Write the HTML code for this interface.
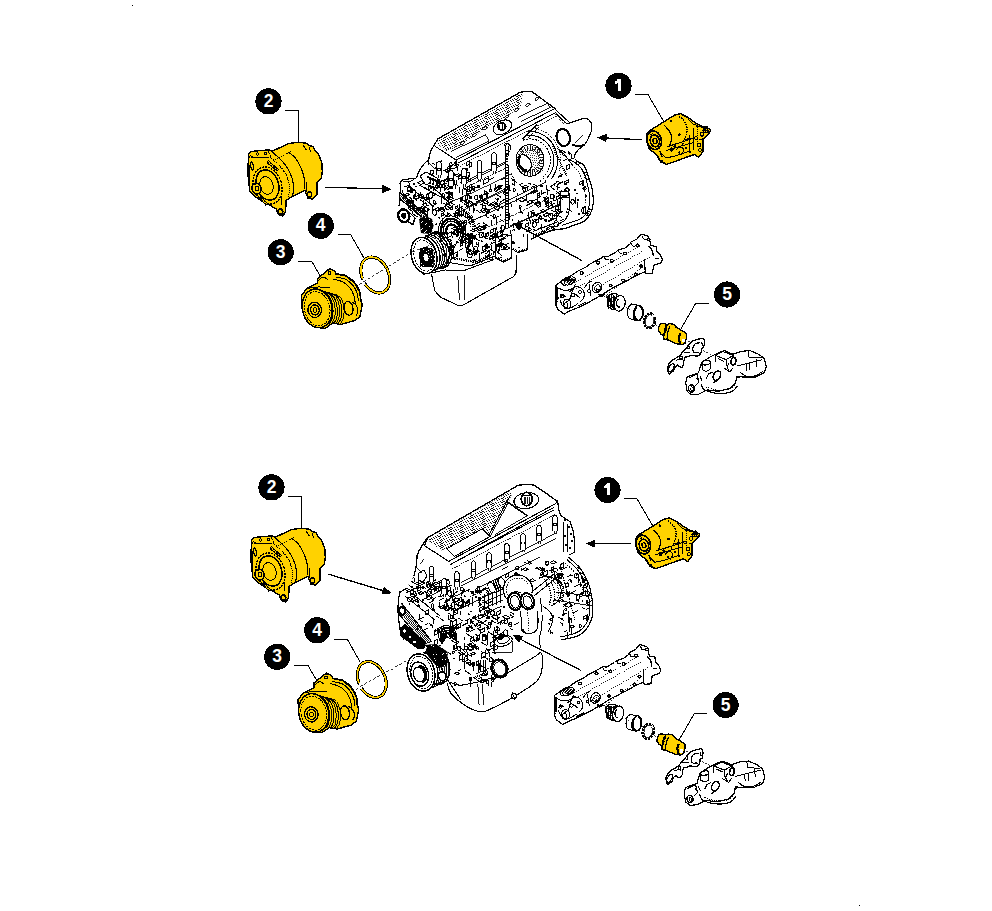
<!DOCTYPE html>
<html><head><meta charset="utf-8"><style>
html,body{margin:0;padding:0;background:#fff;width:992px;height:911px;overflow:hidden}
svg{display:block}
</style></head><body><svg width="992" height="911" viewBox="0 0 992 911" shape-rendering="crispEdges"><g id="top"><path d="M437.6 139 L520 92.4 L526.3 91.3 L532 91.6 L554.4 108.2 L567 123.9 L576.8 120.6 L585.6 118.4 L591.1 122.8 L591.7 129.4 L587.8 139.3 L584.5 144.8 L578 150 L577 160.9 L584 165.7 L588.9 177.8 L592.5 191.1 L593.1 204.4 L590.1 214.1 L584 221.4 L574.4 225 L564.7 228.6 L555 229.8 L540.5 234.7 L530.8 239.5 L527.2 249.6 L518 252.6 L516.6 255.4 L516 272.4 L514 276.3 L462.9 305.2 L459 305.8 L440.6 297.3 L434.7 290.8 L431.5 273.7 L425 273 L414 266 L411.5 252 L413 240 L405 225 L398.8 218 L400.1 200.2 L399.7 195 L400.5 189.7 L400.1 183.6 L401.4 180.9 L416.3 178.3 L417.2 175.7 L419 171.3 L420.7 168.6 L423.5 164.5 L428.3 164.5 L428.8 159.2 L429.7 154.9 L431.9 148.7 L434.5 144.8Z" fill="#fff" stroke="none" stroke-width="0"/><clipPath id="siltop"><path d="M437.6 139 L520 92.4 L526.3 91.3 L532 91.6 L554.4 108.2 L567 123.9 L576.8 120.6 L585.6 118.4 L591.1 122.8 L591.7 129.4 L587.8 139.3 L584.5 144.8 L578 150 L577 160.9 L584 165.7 L588.9 177.8 L592.5 191.1 L593.1 204.4 L590.1 214.1 L584 221.4 L574.4 225 L564.7 228.6 L555 229.8 L540.5 234.7 L530.8 239.5 L527.2 249.6 L518 252.6 L516.6 255.4 L516 272.4 L514 276.3 L462.9 305.2 L459 305.8 L440.6 297.3 L434.7 290.8 L431.5 273.7 L425 273 L414 266 L411.5 252 L413 240 L405 225 L398.8 218 L400.1 200.2 L399.7 195 L400.5 189.7 L400.1 183.6 L401.4 180.9 L416.3 178.3 L417.2 175.7 L419 171.3 L420.7 168.6 L423.5 164.5 L428.3 164.5 L428.8 159.2 L429.7 154.9 L431.9 148.7 L434.5 144.8Z"/></clipPath><g clip-path="url(#siltop)"><path d="M413.4 198.1l3.7 2.4M429.9 200.4l0 2.1l0 1.9M448.3 195.4a1.5 1.9 0 1 0 3 0a1.5 1.9 0 1 0 -3 0ZM407.6 201.5a1.6 2 0 1 0 3.2 0a1.6 2 0 1 0 -3.2 0ZM432.6 180.4a1.7 1.9 0 1 0 3.3 0a1.7 1.9 0 1 0 -3.3 0ZM403.5 210l5.5 3.6M420.6 207.2l5 3.3M422.3 212.6a1 1.1 0 1 0 2.1 0a1 1.1 0 1 0 -2.1 0ZM412.4 213.7l5.3 3.4M422.2 208.8l3.3 -1.7l4 2.6l-3.3 1.7ZM432.5 212.4a2.2 2.8 0 1 0 4.4 0a2.2 2.8 0 1 0 -4.4 0ZM409.8 209.8l2.5 1.6l0 2.6M412.1 208.8l2.1 -1.1l2.9 1.9l-2.1 1.1ZM432.7 195.9l3.6 -1.8M407.2 188.9a2 2.1 0 1 0 4.1 0a2 2.1 0 1 0 -4.1 0ZM431.5 179.7l3.3 -1.7l4 2.6l-3.3 1.7ZM415.4 186.7l2.1 -1.1M430.8 179.2l0 3.5M414.6 203.5l0 2.3l0 2.9M445 192l3.3 2.1M443.6 203.2l2.8 1.8M432.4 204.5l0 3.9l0 2.3M428.3 178.4l3 1.9M420.1 199.8l4.3 2.8M424.4 203.1l2.8 1.8M425.5 199.8l3.5 -1.8l0 1.9M423.9 199.9l0 2.9M438.4 209.2l0 2.5M441 213.9l2.6 -1.3l0 2.7l-2.6 1.3ZM440.6 186.8l0 5.2M406.7 200.2l3 2l0 2.2M443.1 184.3l2.6 1.7M428.3 188a0.9 1.3 0 1 0 1.9 0a0.9 1.3 0 1 0 -1.9 0ZM417.1 208.9l2.7 -1.4l3.8 2.4l-2.7 1.4ZM406.1 200.9l2.6 -1.3l3.7 2.4l-2.6 1.3ZM415 190.8l0 4.8M403.7 193.3l0 6.7M444.2 214.5l2.6 1.7M437.8 209l3.2 -1.6l3.9 2.5l-3.2 1.6ZM443.4 209.7l3.1 -1.6l0 1.6M445.4 203.7l0 2.9l0 1.5M437.8 184.4l1.8 1.1M427.8 180l2.1 -1.1l0 1.9M442 195.7a1.4 1.5 0 1 0 2.7 0a1.4 1.5 0 1 0 -2.7 0ZM427.7 208.2l0 6.6M440.7 208.5l4.1 2.6M421.2 206l3.9 2.5M421.4 195.5a0.9 0.9 0 1 0 1.8 0a0.9 0.9 0 1 0 -1.8 0ZM408.1 182.6l5.6 -2.8M406.1 196.6l0 2.4M420.5 192.4l0 3M417.8 182.6l3.9 -2l3.1 2l-3.9 2ZM404.1 195.1l3.5 -1.8l1.8 1.2l-3.5 1.8ZM444.6 180l2.9 -1.5l3.4 2.2l-2.9 1.5ZM424.1 187.1l4.2 2.7M440.6 186.3l6 -3M418.7 211.2a1.2 1.5 0 1 0 2.5 0a1.2 1.5 0 1 0 -2.5 0ZM407.9 208.1l3.6 -1.8l3.5 2.3l-3.6 1.8ZM429.1 181.8l3 -1.6l0 2.7l-3 1.6ZM420.7 197.5l2.3 -1.2l1.7 1.1l-2.3 1.2ZM440.6 182.5a1.8 2.4 0 1 0 3.6 0a1.8 2.4 0 1 0 -3.6 0ZM446.8 199.4a0.9 1.2 0 1 0 1.9 0a0.9 1.2 0 1 0 -1.9 0ZM426.5 204.5l2.1 1.4M427.4 198.4a1.1 1.2 0 1 0 2.3 0a1.1 1.2 0 1 0 -2.3 0ZM449.9 201.9l4.8 3.1M420.9 191.6l0 4.8M448.4 191.9l0 6.2M448.4 193.4l2.2 -1.1l2.7 1.7l-2.2 1.1ZM444.6 184l0 6.6M426.8 194.4l2.1 -1.1l0 4.3l-2.1 1.1ZM409 197.1l2.4 1.5l0 2.7M434.2 209.6l4.2 -2.1l2.5 1.6l-4.2 2.1ZM414.9 207.8l3.2 2.1M417.5 206.6l3.7 2.4M428.8 195.3a2 2.4 0 1 0 3.9 0a2 2.4 0 1 0 -3.9 0ZM423.7 204.7a1.4 1.8 0 1 0 2.8 0a1.4 1.8 0 1 0 -2.8 0ZM448.1 195.3l4.7 -2.4M439.3 180.6l0 3.2M411.1 187.6l4.5 2.9M403.8 212.5l3.2 -1.6M422.3 205l3 -1.5M445.9 179.3l4.5 2.9M402.3 190.4l0 2.4M432.9 205.5l4.2 -2.1M407.7 188.2l3 -1.5l0 3.6l-3 1.5ZM414 197.5l3.8 -1.9l2.4 1.6l-3.8 1.9ZM433.2 202.2a1.2 1.6 0 1 0 2.5 0a1.2 1.6 0 1 0 -2.5 0ZM448.1 202.9l4.8 -2.4M426.4 180.2l4.1 2.6M410.7 201.9l2.8 -1.4l0 4.8l-2.8 1.4Z" stroke="#000" stroke-width="1" fill="none"/><path d="M479 235.1a2.1 2.8 0 1 0 4.3 0a2.1 2.8 0 1 0 -4.3 0ZM500.9 180.2l4.7 -2.4M499.5 186.7l3.5 -1.8M446.7 197.2l2.5 -1.3l4 2.6l-2.5 1.3ZM489.5 190.3a1.1 1.3 0 1 0 2.2 0a1.1 1.3 0 1 0 -2.2 0ZM447.2 178.1a1.2 1.3 0 1 0 2.3 0a1.2 1.3 0 1 0 -2.3 0ZM504.8 245.2l4.2 -2.1M484.7 193.8l1.7 1.1l0 2.9M465.3 179.7l3 -1.5M461.9 240.9l2 -1l2.6 1.7l-2 1ZM460.2 231.6l0 5.5M443.8 253.1l3.2 2.1M466.7 220.3l0 4.9M440.6 181.6l2.3 -1.2M456.2 241.1l3.2 2.1M474.6 237.7l5 3.2M464.2 200.8l2.7 -1.4M473.9 205.9l0 6.6M476 202.1l5.3 -2.7M481.4 233.5l0 2.8M443.2 254l0 2.2M488.9 204.5l3.4 2.2M443.7 248.5l0 3.7M453.7 253.6l3.5 -1.8l0 4.4l-3.5 1.8ZM447 211.5l0 3.5M467.7 254.9a2.2 2.6 0 1 0 4.3 0a2.2 2.6 0 1 0 -4.3 0ZM472.2 234.2l0 4.4M497.9 186.7a1.6 1.7 0 1 0 3.2 0a1.6 1.7 0 1 0 -3.2 0ZM501.9 244.8l0 3.4M491.6 244.8l0 5.5M483.8 236.5l4.5 2.9M495.1 198.4l1.9 1.2l0 2.9M482.9 222.7l4.9 3.2M461.5 199.1l4.4 2.9M492.6 204.8l2.7 -1.4l3.8 2.5l-2.7 1.4ZM497.4 231l0 2.8l0 2.3M451 242.4l0 2.2l0 1.6M484.3 210.1l2.6 -1.3l3.1 2l-2.6 1.3ZM497.2 198.8l1.7 -0.9l0 2.2M482.9 194.9l4.4 -2.3l0 4.9l-4.4 2.3ZM450.9 246.7l3.9 -2M476.2 210l4.2 2.8M479 196.3l2.1 -1.1l0 2.9M496.5 244.7l4.4 -2.2l3.1 2l-4.4 2.2ZM459.9 200.7l2.9 1.9M463.2 187.9l4.4 2.8M464.4 188.9l4.3 -2.2l4.1 2.7l-4.3 2.2ZM480.2 205l2.2 -1.1l0 2M500.5 219.5l3.3 2.1M468.5 195.4l3.3 2.1M503.4 248.4l3.8 -1.9l2.4 1.6l-3.8 1.9ZM456.6 179.5l0 2.7l0 1.9M471.5 187.4l2.4 -1.2l1.8 1.2l-2.4 1.2ZM449 208.2l2.8 1.8M501.7 238.2l0 6.2M487.6 200l0 4.6M497 245.8l3 -1.5l0 2M475.2 203.9l1.8 1.2M462 230.5a1.1 1.1 0 1 0 2.1 0a1.1 1.1 0 1 0 -2.1 0ZM476.5 230.8l4 2.6M441 237.9l4.6 3M500.9 228a2 2.4 0 1 0 4 0a2 2.4 0 1 0 -4 0ZM485 233.4l0 3.6l0 1.6M495.2 231.5l0 5.2M471.2 201.9l4 2.6M472.8 203.5l3.9 2.6M443.2 234.4l5.3 -2.7M483.8 180l4.5 -2.3l0 4.1l-4.5 2.3ZM443.2 242.8l5.1 3.3M447.3 246.9l3.2 2.1l0 1.7M480.3 209.9l2.6 1.7M476.7 228.8l1.9 -1l3.1 2l-1.9 1ZM489 245.6l0 2.5M485.2 215.7l3.2 2.1M443.7 231.7l4.5 2.9M459.2 250.5l3 -1.5M474.8 197.6a1.6 1.7 0 1 0 3.1 0a1.6 1.7 0 1 0 -3.1 0ZM455.5 206.6l2.1 -1.1l0 2.1l-2.1 1.1ZM462.5 222.1l4 -2.1M469.9 208l0 2.5M475 219.7l6 -3.1M468.3 239.2l4.4 -2.2l0 4l-4.4 2.2ZM494.2 188.8l4 -2l2.4 1.6l-4 2ZM500 232.3a1.4 1.8 0 1 0 2.8 0a1.4 1.8 0 1 0 -2.8 0ZM463.6 200.8l3.2 -1.6l3.2 2.1l-3.2 1.6ZM477.8 235l1.9 -1M452.3 193.1l0 5.3M463 210.9l5.5 3.6M461.3 213.6l2.3 1.5M464.7 207.7l2.6 -1.3l0 1.7M494 235.8l3.1 -1.6l0 2.1l-3.1 1.6ZM501 206.4l1.3 0.8l0 2.2M494.7 190a1.3 1.6 0 1 0 2.6 0a1.3 1.6 0 1 0 -2.6 0ZM455.8 254.5l1.8 1.2M455.2 184l3.2 2.1M460.6 214l5.8 3.8M470.9 237.7l6 -3M482.6 211.2l2.4 -1.2l0 2.2M485 191.1l4 2.6M502 233.2l0 2.5M471.1 230.6l2.8 -1.4l1.8 1.2l-2.8 1.4ZM456.9 209.4l5.7 -2.9M502.7 193l2.3 -1.2l2.3 1.5l-2.3 1.2ZM501.2 238.9l4.4 -2.3M496.5 194.5l3.2 2.1M467.9 237.1l5 -2.6M500.3 201.7l4.3 -2.2M447.9 215.2a1.2 1.4 0 1 0 2.5 0a1.2 1.4 0 1 0 -2.5 0ZM448.8 219.3l2 1.3M468.3 222.4l4 -2M454.4 232.2a2 2.8 0 1 0 4.1 0a2 2.8 0 1 0 -4.1 0ZM444.7 237.2l1.7 1.1M458.9 250.4l3.8 -1.9M493.9 228.5l1.4 0.9l0 2.1M447 240l2 -1l2.1 1.4l-2 1ZM457.3 230l4.2 -2.1M488.8 180.1l5.5 -2.8M468.8 197.9l1.9 -0.9l0 2.1M463.9 203.4l4.3 2.8M450.8 253.7l2.4 1.6M486.8 212.4l0 1.8l0 2M500.4 213.5l0 2.2M484.1 190.4l0 5M446.8 240.7l2.7 -1.4M440.1 248l5.4 3.5M465.9 194.6l3.1 -1.6M472.7 236.9a1.4 1.8 0 1 0 2.8 0a1.4 1.8 0 1 0 -2.8 0ZM493.7 229.1l2.7 -1.4l0 2.1M449.4 242l2.2 -1.1M466.2 236l5.3 -2.7M489.8 214.7l4.3 2.8M492.8 207l4.2 2.7M481 240.6l1.8 1.2M460.6 207.5l4.6 3M469.7 238.6l3.2 -1.6l0 4.4l-3.2 1.6ZM463.9 223.7l2.5 -1.3l0 2.2l-2.5 1.3ZM445.8 205.4l2.6 -1.3l4 2.6l-2.6 1.3ZM458.1 233.1l4.8 -2.4M503.2 247.1l3.1 -1.6l0 2.3l-3.1 1.6ZM446.5 204.3a1.5 2 0 1 0 2.9 0a1.5 2 0 1 0 -2.9 0ZM482.7 207.1a1.6 1.7 0 1 0 3.2 0a1.6 1.7 0 1 0 -3.2 0ZM484.7 202.7l5.4 3.5M485.4 253.8l2.7 -1.4M460.2 198.6l2 -1l0 3.2l-2 1ZM452.2 228.5l2.9 -1.5l2.7 1.8l-2.9 1.5ZM474.9 247.7l0 2.4M498.7 203.5l2.3 -1.2M477.1 224.5l3.2 -1.6M446.8 238.6l2.1 -1M472 242.3l0 2l0 2.2M465.4 247.4l3 2l0 2.2M446.7 192.9l3.3 -1.7M464.3 236.6l3.7 -1.9l3.7 2.4l-3.7 1.9ZM493 232.9l2.6 1.7l0 2.9M446.8 185.9l3.2 -1.6M451.4 246.6l1.9 -1l0 2.9M470.8 178.4l0 1.8l0 1.5M465.2 204.4l3.8 -1.9l3.5 2.3l-3.8 1.9ZM459.5 187l0 5.8M452.9 204.5l0 5.2M490.6 184.8l0 3.7M496 218l0 6.9M457.9 233.4l4.2 -2.2M466.5 191.9a2 2.2 0 1 0 4 0a2 2.2 0 1 0 -4 0ZM469.9 187.9l3.4 -1.7M441.1 197.3l0 6.3M445.2 252.8l0 2.1M474.3 251.6l3.1 -1.6l1.8 1.2l-3.1 1.6ZM465.9 237.9l5.6 3.6M483.6 225.6l1.8 -0.9l0 4.3l-1.8 0.9ZM465.2 245.3a2.1 2.4 0 1 0 4.2 0a2.1 2.4 0 1 0 -4.2 0ZM505.9 236.2l2 -1l0 1.8M495.1 183.9l0 4.1M457.9 214.2l4.3 2.8M490.8 236.4l3.3 2.1M499.2 246.2l5.1 -2.6M472.6 202.5l0 3.2M500.7 250.2l5.4 -2.8M445.6 188.1l3.9 -2l2.1 1.3l-3.9 2ZM474.2 253.1l2.5 -1.3l0 2.3l-2.5 1.3ZM466.4 201.4l2.5 1.6l0 2.9M455.9 221.8l1.7 1.1M465.4 196.3l1.8 -0.9l0 4.3l-1.8 0.9ZM467.6 216.8l1.9 -1l2.9 1.9l-1.9 1ZM442.5 207.7l4.3 -2.2M469 185.9l0 4.8M458.2 222.9l4.4 -2.3l2.4 1.6l-4.4 2.3ZM451 249.8l0 2.3M454 225.7l2.9 1.9M476.4 241.9l0 2.3M440.3 221.5l1.9 -1l0 2.3l-1.9 1ZM462.6 189.1l0 3.5l0 2.2M449.5 187.6l4.6 -2.3M465.6 226.4l0 5M496.1 248.5a1.7 2.1 0 1 0 3.3 0a1.7 2.1 0 1 0 -3.3 0ZM499.5 205.3l0 2.2M493.4 216.1a1 1.2 0 1 0 1.9 0a1 1.2 0 1 0 -1.9 0ZM447.8 233.5l3.2 -1.6l0 4.1l-3.2 1.6ZM486.6 233.4l2 -1l0 3.4l-2 1ZM482.8 246.7l4.3 -2.2l0 4l-4.3 2.2ZM458 209.2l0 3.5M440.1 236.4l0 4.3M450.3 194.7l2.5 1.6M445.8 205.2l0 4.2M474.2 208.4l0 2.8M473.1 250l2.4 -1.2M457.7 216l4.3 -2.2M481.7 210.3a2 2.2 0 1 0 4 0a2 2.2 0 1 0 -4 0ZM447.1 198l2.8 1.8M481.5 227.3l2.9 -1.5l0 1.7M446.3 245l2.4 1.6M491.2 219.8l0 5.6M457.2 209.4l3.2 -1.6M459.3 204l0 1.7l0 2M449.8 250.6a2.1 2.5 0 1 0 4.1 0a2.1 2.5 0 1 0 -4.1 0ZM446.9 210l6 -3M475.7 228.2l4.3 -2.2l4.1 2.6l-4.3 2.2ZM469.7 185.9a1 1.3 0 1 0 2.1 0a1 1.3 0 1 0 -2.1 0ZM445.5 254l0 2.6M459.3 213a1 1.3 0 1 0 1.9 0a1 1.3 0 1 0 -1.9 0ZM504.8 188.3l4.2 -2.2l0 3l-4.2 2.2ZM493.5 218.7l5.6 -2.9M482.3 201.6l2.5 -1.3l3.5 2.3l-2.5 1.3ZM455.2 214.2a1.7 1.8 0 1 0 3.4 0a1.7 1.8 0 1 0 -3.4 0ZM453.4 231.5l3 -1.5l0 2.7l-3 1.5ZM456.5 227.5l3.4 -1.8l3.8 2.5l-3.4 1.8ZM450.8 231.8l5.4 3.5M481.4 231.7l2.2 1.4M490.4 203.9l4.1 -2.1l3 1.9l-4.1 2.1ZM479.9 224.6l0 2.7" stroke="#000" stroke-width="1" fill="none"/><path d="M524.8 179.8l4 -2l0 2.3l-4 2ZM538.3 229.1l3.7 -1.9M511.6 175.9l2.2 1.4M519.6 210.8l2.5 1.6l0 1.6M519.5 206.2l0 2.7M513 190.1a1.1 1.4 0 1 0 2.3 0a1.1 1.4 0 1 0 -2.3 0ZM541.2 194.2l4.3 -2.2M540.2 202.3l0 4.3M556 193.5l4.9 -2.5M520.7 207.3l0 5.6M523 233.7l0 2.8M525.8 230.7l2 1.3M535.7 221.3a1.3 1.5 0 1 0 2.7 0a1.3 1.5 0 1 0 -2.7 0ZM533.8 221.8l6 -3.1M532.7 213.2l3 1.9M538.1 214.3l3.3 2.1M542.8 171.5l4.5 -2.3M533.7 184.2l2.7 1.8M528.3 226.6l0 4M522.4 178.9l2.8 1.8M529.6 193.3l1.7 -0.9l0 1.8M520.1 185.2l2.4 1.6M522.7 179.5l4.1 2.6M557.6 214.9l4.4 2.9M544.3 199.7a2.1 2.7 0 1 0 4.3 0a2.1 2.7 0 1 0 -4.3 0ZM537.1 195.9l0 5.2M511.2 174.4l2.3 -1.2M539.2 176.7l4.3 -2.2l0 3.8l-4.3 2.2ZM511.7 183.5l2.7 1.8M526.1 193.7l0 7M532.2 201.4l5.1 -2.6M546.5 201.1l2.3 -1.2l0 4.9l-2.3 1.2ZM526.8 214.9l1.9 1.2l0 2.5M512.7 225l3.4 -1.7M519.6 205.2l2.6 1.7M548.3 234a1.9 2.6 0 1 0 3.9 0a1.9 2.6 0 1 0 -3.9 0ZM546.5 184.7l0 5.7M559.5 221.4l4.9 -2.5M557.7 199.1l0 3.9l0 2M519.5 184.7l3.9 -2M559.2 209.7l3.1 2M541.4 224.3l0 5.9M547 201.1l3.1 2M549.6 233.2l0 5.7M512.4 180.3l1.7 -0.9l0 2.9M547.8 179.5a2.2 2.7 0 1 0 4.3 0a2.2 2.7 0 1 0 -4.3 0ZM526.2 205.7l5.3 -2.7M545.8 176.7l2.9 -1.5l0 4.6l-2.9 1.5ZM551 183.7l0 4.5M547.7 191.2l2.1 -1M546.5 228.4l4 -2l3.9 2.5l-4 2ZM514.8 179.9l0 5.9M539.6 220.4l3.9 -2M545.7 206.2l3.9 2.5M533.1 220.5l1.9 -1l0 1.9M548.2 203l3 -1.5l0 3.8l-3 1.5ZM534.3 203.3l3.1 -1.6l3.7 2.4l-3.1 1.6ZM534.4 186.1l0 6.6M554.4 183.2l0 2.6M531 174.7l2.7 -1.4M521.6 178a2.1 2.7 0 1 0 4.2 0a2.1 2.7 0 1 0 -4.2 0ZM527 186.5l0 3.1M557.5 195.9l5.2 3.4M516.4 198l0 4.1M526.5 176l0 4.8M530.9 171.2l2.9 1.9M558 177.3l3.5 -1.8l0 1.7M520.6 172.6a1.3 1.3 0 1 0 2.5 0a1.3 1.3 0 1 0 -2.5 0ZM528.7 229.2a1.2 1.3 0 1 0 2.5 0a1.2 1.3 0 1 0 -2.5 0ZM555.8 207.1l2.5 -1.3l0 4.4l-2.5 1.3ZM517.5 228.2l4.6 -2.3M548.7 175.4a1 1.3 0 1 0 2 0a1 1.3 0 1 0 -2 0ZM531.6 192l3.4 -1.8l1.8 1.2l-3.4 1.8ZM544.9 231l0 1.6l0 1.8M522.9 189.8a1.3 1.5 0 1 0 2.6 0a1.3 1.5 0 1 0 -2.6 0ZM517.3 192.6l0 2.2M509 202.9l2.3 1.5l0 2.9M513.5 223.2l0 4.7M554.2 233.1l6.2 -3.1M525.8 224.1l2.9 -1.5l0 3l-2.9 1.5ZM510.8 178.4l5.4 3.5M530.4 173.6l4.1 -2.1l3.4 2.2l-4.1 2.1ZM522.7 185.7l0 2.9M522 170.2l0 6.9M536.4 185.9l0 2l0 1.8M525.4 175.5l2.5 1.6M534.2 170.3l2.4 -1.2M538.5 195.6l2.7 1.7M536.7 204.4a1.8 2.3 0 1 0 3.5 0a1.8 2.3 0 1 0 -3.5 0ZM553.7 195.3l0 2.7M545.7 211.8l5.4 3.5M539.5 217.7a1.1 1.3 0 1 0 2.2 0a1.1 1.3 0 1 0 -2.2 0ZM532.3 224.3a2 2.4 0 1 0 3.9 0a2 2.4 0 1 0 -3.9 0ZM554.4 214.4l2 -1l0 2.1l-2 1ZM541.1 232.4l0 4.8M540.6 210.7l2.5 -1.3l2.8 1.8l-2.5 1.3ZM511.6 230.6l2.8 -1.4l0 1.6M546.3 186.4l0 3.2M547.3 185l3.1 -1.6l2.6 1.7l-3.1 1.6ZM531.2 214.4a1.7 2.1 0 1 0 3.4 0a1.7 2.1 0 1 0 -3.4 0ZM512 179.6l4.6 3M540.3 178.7l0 3.3M542.9 215l3.7 -1.9l2.4 1.6l-3.7 1.9ZM532.2 219.9l1.7 1.1l0 3M556.7 171.1l5.7 3.7M531.4 187.5l2.1 -1.1M512.7 218.6l0 2.7M550.7 203.1l2 1.3l0 2.2M553.6 195.6l0 5.4M529.1 217.3l0 3.6M549.7 170.1a2 2.1 0 1 0 4 0a2 2.1 0 1 0 -4 0ZM556.2 216.3l0 2.1l0 1.6M528.3 226.5l0 5.8M552.4 188.2l2.9 1.9M556.7 186.2l3 1.9M548.2 221l5.4 -2.8M540.8 229.4l1.7 1.1l0 1.6M556.5 196.7l3.5 -1.8l0 2.9l-3.5 1.8ZM510.5 230.2l0 4.1M522.7 186.6l2.9 -1.5l2.3 1.5l-2.9 1.5ZM533.1 213.5l2.4 1.5M518.8 228.9l3.8 -1.9M525.3 219.4l2.5 1.6M512.7 192.2l3.4 -1.7M550.1 183.1l0 3.9M546.8 183.7l4 -2M537.9 193.4l2 -1l0 4.7l-2 1ZM528 212l0 6.2M553.4 171.4l4.9 3.2M549.8 232.9l3.5 -1.8M554 223.7a2.2 2.4 0 1 0 4.3 0a2.2 2.4 0 1 0 -4.3 0ZM513.7 180l2.1 1.4M548.9 215.6a2.1 2.1 0 1 0 4.1 0a2.1 2.1 0 1 0 -4.1 0ZM548.4 170.1l5.5 3.6M541.6 189.7l0 4.6M530.7 219.6l0 4.6M538.3 195.2l1.7 1.1M535.9 234.8l0 5.2M554 200.9l1.9 -1M529.4 212.2l4 -2M543.1 197.3l3.5 2.2M527.3 202l2.8 -1.4l2.7 1.7l-2.8 1.4ZM507.4 189a1 1.2 0 1 0 2 0a1 1.2 0 1 0 -2 0ZM518.4 219.8l0 3.1M547.5 189.2l0 3l0 2.8M533.2 229.2l2.3 1.5M528.5 183.8l2.3 -1.2l0 2.6M517.6 199.2l3.7 -1.9l4.2 2.7l-3.7 1.9ZM556.4 191.4l4.8 3.1M509.7 213.2l0 6.9" stroke="#000" stroke-width="1" fill="none"/><path d="M564.9 174.3l1.7 1.1M566.6 208.4l5.6 3.6M575.1 197.3l0 6.8M563.2 160.9l4 -2.1M583.3 188.4a1.4 1.8 0 1 0 2.8 0a1.4 1.8 0 1 0 -2.8 0ZM549.4 168.9l4.2 -2.1l3.6 2.4l-4.2 2.1ZM584.2 175.8l2.7 -1.4M583.1 207.2l0 6.2M551 165.4l4.4 -2.2l0 2l-4.4 2.2ZM576.5 162.8a1.3 1.8 0 1 0 2.7 0a1.3 1.8 0 1 0 -2.7 0ZM550.7 209.6l3.8 2.4M584.6 177.3l4.9 3.2M575.1 159.4l3.3 2.1l0 1.6M568.9 189.4l0 5.7M568.3 152.2a1.4 1.9 0 1 0 2.8 0a1.4 1.9 0 1 0 -2.8 0ZM552 182.8l4.1 -2.1l0 2.3l-4.1 2.1ZM582.9 173.8l6.2 -3.1M568.4 151.2a1.3 1.6 0 1 0 2.7 0a1.3 1.6 0 1 0 -2.7 0ZM554.2 178.9l3.2 -1.6M557.3 183.6l0 5.9M579.7 182.3l3.3 -1.7l0 2.2l-3.3 1.7ZM571.3 156.2a1.6 2.2 0 1 0 3.1 0a1.6 2.2 0 1 0 -3.1 0ZM569.1 159l5.2 3.4M556.1 153.3l1.9 -1l0 1.7M550.2 159.6l0 3M561.7 189.8l0 2.2l0 2.2M556.9 212.5l3.6 -1.9l1.8 1.2l-3.6 1.9ZM563 195.7a1.4 1.9 0 1 0 2.8 0a1.4 1.9 0 1 0 -2.8 0ZM550.2 196.5a2 2.4 0 1 0 4.1 0a2 2.4 0 1 0 -4.1 0ZM549.3 153.1l5.3 -2.7M578.3 160.5a2 2.2 0 1 0 4 0a2 2.2 0 1 0 -4 0ZM565.4 188.4l2.6 -1.3M565.7 211.5l1.8 1.2M587.7 207.8l3.9 2.5M570.9 201.7a1.6 2.3 0 1 0 3.3 0a1.6 2.3 0 1 0 -3.3 0ZM547.8 164.6l4.9 -2.5M564.5 181.9l3.6 -1.8l0 2.1l-3.6 1.8ZM555.5 179.8l4.1 2.7M566.3 165.8l3.4 -1.7l0 4l-3.4 1.7ZM562.5 154.5l4.8 3.1M548.6 151.9l1.9 -0.9l3.6 2.4l-1.9 0.9ZM559.4 200.9l0 5M585.9 214.1a1 1.2 0 1 0 2.1 0a1 1.2 0 1 0 -2.1 0ZM554.9 200.7l2.3 -1.2M547.3 154.9l2.8 -1.4l0 4.2l-2.8 1.4ZM565.1 183.9l2 1.3M545.2 199.6l3 -1.5l0 4.8l-3 1.5ZM545 156.7a1 1.1 0 1 0 2 0a1 1.1 0 1 0 -2 0ZM581.6 189.3l4.8 -2.5M550.7 152.5l0 5.9M581.7 210.5a2.1 2.9 0 1 0 4.2 0a2.1 2.9 0 1 0 -4.2 0ZM549.1 170.6l3 2M569.2 207.3l0 2l0 1.9M564.9 189.7l2.8 -1.4l2.5 1.6l-2.8 1.4ZM547.5 156l2.6 -1.3M575.6 192.8l2 1.3M586.9 212.6l2.3 -1.2l3 2l-2.3 1.2ZM559.4 151.2l2.4 -1.2l3.5 2.3l-2.4 1.2ZM577.8 201.9l0 5.6M557.2 184.7l6.2 -3.1" stroke="#000" stroke-width="1" fill="none"/><path d="M466.6 252.1l4 -2.1l4.2 2.7l-4 2.1ZM479 260.8l2.7 1.7M460.1 241.9l2.2 -1.1l0 4.3l-2.2 1.1ZM496.9 252.2l4.9 3.2M476.3 244.1l2.3 1.5l0 1.7M498.1 241.8l2.3 -1.2M497.1 244.5l2.9 -1.5l2.1 1.3l-2.9 1.5ZM485.6 245a1 1.1 0 1 0 2 0a1 1.1 0 1 0 -2 0ZM487 255.7l2.1 -1.1l0 3.4l-2.1 1.1ZM493.1 236.4l2.1 1.4l0 2M478.1 242.3l0 2.2l0 2.8M466.4 252.9l2.4 -1.2l0 2.3M489.9 237.1l2.3 -1.2l0 2.5l-2.3 1.2ZM473.9 259.7l5.6 3.6M469.8 235.4l3.1 -1.6l0 2.1M487.3 251.6l2.2 -1.1l0 3M498.5 248.9l0 2.8l0 2.5M497.5 237.9l3.9 -2l3.6 2.4l-3.9 2ZM479.3 256.8l0 5.3M461.4 238l0 5.2M465.8 234.8l2.5 -1.3l0 4.9l-2.5 1.3ZM481 253.3l5.8 -2.9M474.6 234.9l0 4.4M496.1 245.3l2.8 1.8M490.7 230.3l2.5 -1.3l0 3l-2.5 1.3ZM470 260.6l3.4 2.2M498.3 259l3.6 -1.8M466.5 250.5a1 1 0 1 0 2 0a1 1 0 1 0 -2 0ZM471.3 239.7l0 2.7l0 1.8M466.6 235.9l4.8 3.1M490.3 249.3l4.9 3.2M491.6 230.3l3.6 -1.8M482.7 257.3l4.2 2.7M489.8 237.8l5.5 3.5M471.8 246.1l2.1 1.4M484 246.3l2.6 -1.3l3.2 2.1l-2.6 1.3ZM490.3 236.1l4.4 -2.2l2.6 1.7l-4.4 2.2ZM472.7 261.8l4.7 -2.4M485.1 255.8l2.6 1.7l0 1.5M485.8 244.2l0 6.4M462.8 230.8l2.4 -1.2l0 4.1l-2.4 1.2ZM492.7 253.2l3.6 -1.8M473.1 237.3l1.4 0.9l0 2.2M479.7 252.9l0 3.1l0 2.6M486.7 257.5l2.4 -1.2l4 2.6l-2.4 1.2ZM473.3 249.7a2.2 3 0 1 0 4.3 0a2.2 3 0 1 0 -4.3 0ZM460.3 240l0 5.6M463.6 235.6l5.6 3.7M489.7 244.8l4.9 -2.5M468.2 240.7l2.5 -1.3l0 4.9l-2.5 1.3Z" stroke="#000" stroke-width="1" fill="none"/><path d="M443.9 187.8a1.2 1.6 0 1 0 2.4 0a1.2 1.6 0 1 0 -2.4 0ZM455.5 161.3l0 1.6l0 2.3M433.8 185.8l3.2 -1.6l0 4.4l-3.2 1.6ZM455 184.7l0 4.6M449.2 186.5a1.8 2.2 0 1 0 3.6 0a1.8 2.2 0 1 0 -3.6 0ZM444.3 170.6l2 -1l2.7 1.7l-2 1ZM432.8 179.1l3.2 -1.6l0 2.2l-3.2 1.6ZM451.8 183.2a1.5 2 0 1 0 3 0a1.5 2 0 1 0 -3 0ZM454.5 179.6l0 3.4M430.2 172.2a1.7 2 0 1 0 3.4 0a1.7 2 0 1 0 -3.4 0ZM449.1 166.6l4.3 -2.2l3.8 2.5l-4.3 2.2ZM435 167l4.8 3.1M438.8 164.4l0 2l0 2.4M465.9 183.7l0 3.5M449.8 173.7l2.8 -1.4l2.9 1.9l-2.8 1.4ZM467.1 186l0 6M458.3 177l3.3 -1.7l0 2.5l-3.3 1.7ZM455 175.5l3.4 -1.7l1.8 1.1l-3.4 1.7ZM449.5 164.9a1.3 1.7 0 1 0 2.5 0a1.3 1.7 0 1 0 -2.5 0ZM454.5 162.3l4.6 3M436.2 171l6.1 -3.1M433.7 176.9l3.1 2l0 2.8M436.9 162.2l0 3.3l0 2.3M439.2 162.2l3.1 -1.6M447.2 168.7a1.3 1.4 0 1 0 2.5 0a1.3 1.4 0 1 0 -2.5 0ZM464.3 168.3l3 1.9M466.7 162.1l2.7 -1.4l0 3.4l-2.7 1.4ZM432.3 174.6l1.9 1.2M447.9 169.2l2.1 -1.1l0 1.6M432.1 162.9l3.3 2.2M430.5 188.6l4.9 -2.5M465.8 169.4l1.5 -0.8l0 2.1M469.5 163.4l2.1 -1.1l0 4l-2.1 1.1ZM465.9 175a1.9 2.6 0 1 0 3.9 0a1.9 2.6 0 1 0 -3.9 0ZM438 162l0 3.5l0 2.8M459.8 182l3.2 2.1M434.6 189.6l3.9 2.6M451.5 165.3l5 -2.6M431.2 179.4a1.4 1.8 0 1 0 2.8 0a1.4 1.8 0 1 0 -2.8 0ZM468.4 175l0 5.5" stroke="#000" stroke-width="1" fill="none"/><circle cx="441.6" cy="187.2" r="1.2" fill="#000"/><circle cx="429" cy="184.7" r="1.2" fill="#000"/><circle cx="547.3" cy="236" r="1.6" fill="#000"/><circle cx="439.4" cy="217.6" r="1.1" fill="#000"/><circle cx="431.8" cy="187.4" r="1" fill="#000"/><circle cx="548.8" cy="238" r="1.6" fill="#000"/><circle cx="529.1" cy="193.5" r="1.1" fill="#000"/><circle cx="502.2" cy="231.2" r="1.7" fill="#000"/><circle cx="541.4" cy="186.1" r="1.4" fill="#000"/><circle cx="509.1" cy="215.4" r="1" fill="#000"/><circle cx="478.4" cy="186.3" r="1.7" fill="#000"/><circle cx="539.2" cy="218.3" r="1.1" fill="#000"/><circle cx="545.9" cy="220.1" r="1.7" fill="#000"/><circle cx="536.4" cy="215.6" r="1.2" fill="#000"/><circle cx="497.8" cy="210.2" r="1" fill="#000"/><circle cx="452.3" cy="236.9" r="0.8" fill="#000"/><circle cx="412.2" cy="223.8" r="1.1" fill="#000"/><circle cx="487.9" cy="213" r="1.1" fill="#000"/><circle cx="559.6" cy="193.7" r="1.2" fill="#000"/><circle cx="436.4" cy="224.3" r="1.1" fill="#000"/><circle cx="460.2" cy="232.3" r="1.1" fill="#000"/><circle cx="491.6" cy="243.3" r="0.9" fill="#000"/><circle cx="414.5" cy="196" r="1.6" fill="#000"/><circle cx="500.4" cy="196.6" r="1.1" fill="#000"/><circle cx="432.5" cy="212.1" r="0.8" fill="#000"/><circle cx="513.1" cy="242.7" r="1.8" fill="#000"/><circle cx="518.9" cy="247.2" r="0.8" fill="#000"/><circle cx="449.8" cy="247.6" r="1.6" fill="#000"/><circle cx="468.6" cy="246" r="1.4" fill="#000"/><circle cx="531.8" cy="200.5" r="1" fill="#000"/><circle cx="473.8" cy="189.6" r="1.2" fill="#000"/><circle cx="554.1" cy="203.2" r="0.8" fill="#000"/><circle cx="411.9" cy="191.9" r="1.6" fill="#000"/><circle cx="461.2" cy="200.3" r="0.9" fill="#000"/><circle cx="557.2" cy="209.7" r="1" fill="#000"/><circle cx="414.2" cy="183.9" r="1" fill="#000"/><circle cx="509.9" cy="190.5" r="0.8" fill="#000"/><circle cx="481.1" cy="197.4" r="1.8" fill="#000"/><circle cx="424" cy="217" r="1.6" fill="#000"/><circle cx="468.4" cy="249.1" r="1.3" fill="#000"/><circle cx="442.5" cy="208.7" r="0.8" fill="#000"/><circle cx="470.3" cy="197.4" r="1.7" fill="#000"/><circle cx="533.8" cy="214.9" r="0.8" fill="#000"/><circle cx="444.4" cy="197" r="1" fill="#000"/><circle cx="440.9" cy="240.9" r="0.9" fill="#000"/></g><path d="M434.9 146.1 L434.5 144.8 L437.6 139 L520 92.4 L526.3 91.3 L532 91.6 L554.4 108.2 L557 111" fill="none" stroke="#000" stroke-width="1.3"/><path d="M434.9 146.1 L456 160.1 L554.4 108.7" fill="none" stroke="#000" stroke-width="1.1"/><path d="M458 163 L556 112.5" fill="none" stroke="#000" stroke-width="1"/><path d="M459.5 166 L557 116" fill="none" stroke="#000" stroke-width="0.9" stroke-dasharray="1.5 1"/><clipPath id="ch1"><path d="M438 140.6 L520 93.9 L522.5 94 L521 107.5 L490.5 126.5 L472 137 L458 146 L446.3 150.5 L437 144Z"/></clipPath><path clip-path="url(#ch1)" d="M406.2 100.6L498.9 48M407.2 102.3L499.8 49.6M408.1 103.9L500.7 51.3M409 105.6L501.7 52.9M410 107.2L502.6 54.6M410.9 108.9L503.5 56.2M411.8 110.5L504.5 57.9M412.8 112.2L505.4 59.5M413.7 113.8L506.4 61.2M414.7 115.5L507.3 62.8M415.6 117.1L508.2 64.5M416.5 118.8L509.2 66.2M417.5 120.4L510.1 67.8M418.4 122.1L511.1 69.5M419.4 123.7L512 71.1M420.3 125.4L512.9 72.8M421.2 127L513.9 74.4M422.2 128.7L514.8 76.1M423.1 130.3L515.7 77.7M424 132L516.7 79.4M425 133.6L517.6 81M425.9 135.3L518.6 82.7M426.9 136.9L519.5 84.3M427.8 138.6L520.4 86M428.7 140.3L521.4 87.6M429.7 141.9L522.3 89.3M430.6 143.6L523.3 90.9M431.6 145.2L524.2 92.6M432.5 146.9L525.1 94.2M433.4 148.5L526.1 95.9M434.4 150.2L527 97.5M435.3 151.8L527.9 99.2M436.2 153.5L528.9 100.8M437.2 155.1L529.8 102.5M438.1 156.8L530.8 104.1M439.1 158.4L531.7 105.8M440 160.1L532.6 107.5M440.9 161.7L533.6 109.1M441.9 163.4L534.5 110.8M442.8 165L535.5 112.4M443.8 166.7L536.4 114.1M444.7 168.3L537.3 115.7M445.6 170L538.3 117.4M446.6 171.6L539.2 119M447.5 173.3L540.1 120.7M448.4 174.9L541.1 122.3M449.4 176.6L542 124M450.3 178.2L543 125.6M451.3 179.9L543.9 127.3M452.2 181.6L544.8 128.9M453.1 183.2L545.8 130.6M454.1 184.9L546.7 132.2M455 186.5L547.7 133.9M456 188.2L548.6 135.5M456.9 189.8L549.5 137.2M457.8 191.5L550.5 138.8M458.8 193.1L551.4 140.5M459.7 194.8L552.3 142.1M460.6 196.4L553.3 143.8" stroke="#000" stroke-width="0.95" fill="none" stroke-dasharray="1.3 0.8"/><path d="M446.3 150.5 L458 146 L472 137" fill="none" stroke="#000" stroke-width="0.9" stroke-dasharray="1 1"/><path d="M451 151.5 L485.7 134.9 L488.8 141 L456 157.3" fill="none" stroke="#000" stroke-width="0.9"/><path d="M518.1 117.3 L547.4 103.2 L550.4 107.5 L521.2 121.3" fill="none" stroke="#000" stroke-width="0.9"/><ellipse cx="462.3" cy="143" rx="2.4" ry="1.2" fill="#fff" stroke="#000" stroke-width="0.9" transform="rotate(-30 462.3 143)"/><ellipse cx="474.4" cy="134.9" rx="2.4" ry="1.2" fill="#fff" stroke="#000" stroke-width="0.9" transform="rotate(-30 474.4 134.9)"/><ellipse cx="484.9" cy="128.3" rx="2.4" ry="1.2" fill="#fff" stroke="#000" stroke-width="0.9" transform="rotate(-30 484.9 128.3)"/><ellipse cx="506.6" cy="116.7" rx="2.4" ry="1.2" fill="#fff" stroke="#000" stroke-width="0.9" transform="rotate(-30 506.6 116.7)"/><ellipse cx="516.7" cy="109.7" rx="2.4" ry="1.2" fill="#fff" stroke="#000" stroke-width="0.9" transform="rotate(-30 516.7 109.7)"/><ellipse cx="528" cy="104.7" rx="2.4" ry="1.2" fill="#fff" stroke="#000" stroke-width="0.9" transform="rotate(-30 528 104.7)"/><ellipse cx="537.1" cy="98.6" rx="2.4" ry="1.2" fill="#fff" stroke="#000" stroke-width="0.9" transform="rotate(-30 537.1 98.6)"/><ellipse cx="502.4" cy="127.3" rx="9.8" ry="6.6" fill="#fff" stroke="#000" stroke-width="1.1" transform="rotate(-28 502.4 127.3)"/><ellipse cx="501.8" cy="126.5" rx="4" ry="3.8" fill="#fff" stroke="#000" stroke-width="1.6"/><path d="M499.8 124.5L499.8 129" stroke="#000" stroke-width="1" fill="none"/><path d="M502 123.5L502 129.5" stroke="#000" stroke-width="1" fill="none"/><path d="M504 124.5L504 129" stroke="#000" stroke-width="1" fill="none"/><path d="M554.4 108.5 L569.3 122.4 L568.3 125.3 L556.5 114.2" fill="none" stroke="#000" stroke-width="1"/><path d="M554.7 111.8L567.2 123.8" stroke="#000" stroke-width="0.8" fill="none" stroke-dasharray="1 1"/><path d="M554 112.6L566.5 124.6" stroke="#000" stroke-width="0.8" fill="none" stroke-dasharray="1 1"/><path d="M553.2 113.4L565.7 125.4" stroke="#000" stroke-width="0.8" fill="none" stroke-dasharray="1 1"/><path d="M437.6 139 C437.1 140 435.4 143.2 434.5 144.8 C433.6 146.4 432.7 147 431.9 148.7 C431.1 150.4 430.2 153.2 429.7 154.9 C429.2 156.7 429 157.6 428.8 159.2 C428.6 160.8 428.4 163.6 428.3 164.5" fill="none" stroke="#000" stroke-width="1.3"/><path d="M428.8 159.5 L423.5 164.5 L420.7 168.6 L419 171.3 L417.2 175.7 L416.3 178.3" fill="none" stroke="#000" stroke-width="1.2"/><path d="M456 160.1 L457 166 L458 171" fill="none" stroke="#000" stroke-width="1"/><path d="M428.5 162 L433 167 L440 172" fill="none" stroke="#000" stroke-width="0.9"/><path d="M466.3 182.6 L520 156.3" fill="none" stroke="#000" stroke-width="0.9"/><path d="M468.1 186.3 L545 149" fill="none" stroke="#000" stroke-width="0.9" stroke-dasharray="2 1"/><path d="M520 156.3 L552 141" fill="none" stroke="#000" stroke-width="0.9"/><path d="M466.3 180.7 L505 162" fill="none" stroke="#000" stroke-width="0.9"/><path d="M470 194 L530 165" fill="none" stroke="#000" stroke-width="0.8"/><path d="M473.4 204.4 L505 189" fill="none" stroke="#000" stroke-width="0.9"/><path d="M482.1 213.2 L560 175" fill="none" stroke="#000" stroke-width="0.9"/><path d="M445 205 L470 193" fill="none" stroke="#000" stroke-width="0.9"/><path d="M455 214 L504 191" fill="none" stroke="#000" stroke-width="0.8"/><path d="M470 222 L538 190" fill="none" stroke="#000" stroke-width="0.9"/><path d="M480 231 L545 200" fill="none" stroke="#000" stroke-width="0.8" stroke-dasharray="2 1"/><path d="M490 236 L556 206" fill="none" stroke="#000" stroke-width="0.9"/><path d="M510 226 L560 204" fill="none" stroke="#000" stroke-width="0.9"/><path d="M533.3 231.4 L556.5 222.3" fill="none" stroke="#000" stroke-width="1"/><path d="M533 236 L556 226" fill="none" stroke="#000" stroke-width="2" stroke-dasharray="1 0.8"/><path d="M436.9 175.3V163.5Q439.2 159.3 441.5 163.5V175.3" fill="#fff" stroke="#000" stroke-width="1"/><rect x="436.9" y="168.3" width="4.6" height="2.5" fill="#000"/><rect x="438.1" y="169.1" width="2.2" height="0.9" fill="#fff"/><path d="M438.2 175.3L438.2 177.8" stroke="#000" stroke-width="0.9" fill="none"/><path d="M440.2 175.3L440.2 177.8" stroke="#000" stroke-width="0.9" fill="none"/><path d="M448.7 185.5V172.2Q451 168 453.3 172.2V185.5" fill="#fff" stroke="#000" stroke-width="1"/><rect x="448.7" y="177.8" width="4.6" height="2.8" fill="#000"/><rect x="449.9" y="178.6" width="2.2" height="1.2" fill="#fff"/><path d="M450 185.5L450 188" stroke="#000" stroke-width="0.9" fill="none"/><path d="M452 185.5L452 188" stroke="#000" stroke-width="0.9" fill="none"/><path d="M461.7 184.1V170.3Q464 166.1 466.3 170.3V184.1" fill="#fff" stroke="#000" stroke-width="1"/><rect x="461.7" y="176.1" width="4.6" height="2.9" fill="#000"/><rect x="462.9" y="176.9" width="2.2" height="1.3" fill="#fff"/><path d="M463 184.1L463 186.6" stroke="#000" stroke-width="0.9" fill="none"/><path d="M465 184.1L465 186.6" stroke="#000" stroke-width="0.9" fill="none"/><path d="M477.2 179V162.2Q479.5 158 481.8 162.2V179" fill="#fff" stroke="#000" stroke-width="1"/><rect x="477.2" y="169.5" width="4.6" height="3.4" fill="#000"/><rect x="478.4" y="170.3" width="2.2" height="1.8" fill="#fff"/><path d="M478.5 179L478.5 181.5" stroke="#000" stroke-width="0.9" fill="none"/><path d="M480.5 179L480.5 181.5" stroke="#000" stroke-width="0.9" fill="none"/><path d="M491.7 171.3V154.5Q494 150.3 496.3 154.5V171.3" fill="#fff" stroke="#000" stroke-width="1"/><rect x="491.7" y="161.8" width="4.6" height="3.4" fill="#000"/><rect x="492.9" y="162.6" width="2.2" height="1.8" fill="#fff"/><path d="M493 171.3L493 173.8" stroke="#000" stroke-width="0.9" fill="none"/><path d="M495 171.3L495 173.8" stroke="#000" stroke-width="0.9" fill="none"/><path d="M505.7 163.6V145.8Q508 141.6 510.3 145.8V163.6" fill="#fff" stroke="#000" stroke-width="1"/><rect x="505.7" y="153.6" width="4.6" height="3.6" fill="#000"/><rect x="506.9" y="154.4" width="2.2" height="2" fill="#fff"/><path d="M507 163.6L507 166.1" stroke="#000" stroke-width="0.9" fill="none"/><path d="M509 163.6L509 166.1" stroke="#000" stroke-width="0.9" fill="none"/><path d="M505.3 146L505.3 228" stroke="#000" stroke-width="1" fill="none"/><path d="M508.3 146L508.3 228" stroke="#000" stroke-width="1" fill="none"/><path d="M504 146 L505.5 143.5 L508 143.5 L509.5 146" fill="none" stroke="#000" stroke-width="1"/><path d="M506.8 150L506.8 226" stroke="#000" stroke-width="1.4" fill="none" stroke-dasharray="1.2 1.6"/><path d="M536.9 124.4L506 155.6" stroke="#000" stroke-width="1" fill="none"/><path d="M539 126.8L508 158" stroke="#000" stroke-width="1" fill="none"/><ellipse cx="530" cy="160.4" rx="22" ry="23" fill="#fff" stroke="none" stroke-width="0"/><path d="M530 131 L545 134 L556 142 L561 155 L561 170 L556 182 L548 188 L545 178 L552 160 L546 142Z" fill="#fff" stroke="none" stroke-width="0"/><path d="M527.6 131.5 L530.5 131.4 L533.5 131.6 L536.4 132.2 L539.2 133.1 L541.9 134.3 L544.5 135.8 L546.9 137.5 L549.2 139.6 L551.2 141.8 L552.9 144.3 L554.4 147 L555.7 149.8 L556.6 152.8 L557.2 155.8 L557.5 158.9 L557.5 162 L557.2 165.1 L556.6 168.1 L555.6 171.1 L554.4 173.9 L552.9 176.6 L551.1 179" fill="none" stroke="#000" stroke-width="1.1"/><path d="M525.9 135.8 L528.4 135.5 L530.9 135.4 L533.4 135.7 L535.8 136.2 L538.2 136.9 L540.5 138 L542.7 139.3 L544.7 140.8 L546.6 142.5 L548.3 144.5 L549.8 146.6 L551.1 148.9 L552.1 151.3 L552.9 153.8 L553.4 156.3 L553.7 158.9 L553.7 161.6 L553.5 164.2 L553 166.8 L552.2 169.3 L551.2 171.7 L549.9 174 L548.5 176.1 L546.8 178.1" fill="none" stroke="#000" stroke-width="1"/><path d="M523 140.2 L525.1 139.5 L527.2 139.1 L529.4 138.9 L531.6 139 L533.7 139.3 L535.9 139.8 L537.9 140.6 L539.9 141.6 L541.7 142.8 L543.4 144.2 L545 145.8 L546.4 147.6 L547.6 149.5 L548.6 151.5 L549.4 153.6 L550 155.8 L550.3 158.1 L550.4 160.4 L550.3 162.7 L550 165 L549.4 167.2 L548.6 169.3 L547.6 171.3 L546.4 173.2 L545 175 L543.4 176.6 L541.7 178" fill="none" stroke="#000" stroke-width="1" stroke-dasharray="2 1"/><path d="M535.4 128.4 L538.6 129.2 L541.8 130.4 L544.9 131.9 L547.7 133.8 L550.4 136 L552.8 138.4 L554.9 141.2 L556.7 144.2 L558.3 147.3 L559.4 150.6 L560.3 154.1 L560.8 157.6 L560.9 161.1 L560.6 164.6 L560 168.1 L559 171.5" fill="none" stroke="#000" stroke-width="0.9" stroke-dasharray="1.5 1.2"/><ellipse cx="530" cy="160.4" rx="14" ry="15.8" fill="#fff" stroke="#000" stroke-width="1"/><path d="M538.5 160.4L543.5 160.4M538.3 162.5L543.2 163.8M537.7 164.5L542.2 167M536.6 166.3L540.6 169.9M535.3 167.8L538.4 172.3M533.7 169L535.9 174.1M531.9 169.7L533 175.2M530 169.9L530 175.6M528.1 169.7L527 175.2M526.3 169L524.1 174.1M524.7 167.8L521.6 172.3M523.4 166.3L519.4 169.9M522.3 164.5L517.8 167M521.7 162.5L516.8 163.8M521.5 160.4L516.5 160.4M521.7 158.3L516.8 157M522.3 156.3L517.8 153.8M523.4 154.5L519.4 150.9M524.7 153L521.6 148.5M526.3 151.8L524.1 146.7M528.1 151.1L527 145.6M530 150.9L530 145.2M531.9 151.1L533 145.6M533.7 151.8L535.9 146.7M535.3 153L538.4 148.5M536.6 154.5L540.6 150.9M537.7 156.3L542.2 153.8M538.3 158.3L543.2 157" stroke="#000" stroke-width="0.9" fill="none"/><clipPath id="ch2"><path d="M520 150 L542 146 L544 172 L522 174Z"/></clipPath><path clip-path="url(#ch2)" d="M515.7 134.8L555.9 141.9M515.3 137L555.6 144.1M514.9 139.1L555.2 146.2M514.5 141.3L554.8 148.4M514.2 143.5L554.4 150.5M513.8 145.6L554 152.7M513.4 147.8L553.7 154.9M513 150L553.3 157M512.6 152.1L552.9 159.2M512.3 154.3L552.5 161.4M511.9 156.5L552.1 163.5M511.5 158.6L551.7 165.7M511.1 160.8L551.4 167.9M510.7 163L551 170M510.3 165.1L550.6 172.2M510 167.3L550.2 174.4M509.6 169.5L549.8 176.5M509.2 171.6L549.5 178.7M508.8 173.8L549.1 180.9M508.4 175.9L548.7 183M508.1 178.1L548.3 185.2" stroke="#000" stroke-width="0.8" fill="none" stroke-dasharray="1 1"/><ellipse cx="524.6" cy="163" rx="6.2" ry="8.8" fill="#fff" stroke="#000" stroke-width="1.2" transform="rotate(-25 524.6 163)"/><path d="M526.9 170.2 L526.3 170.3 L525.7 170.3 L525.1 170.2 L524.4 170 L523.8 169.7 L523.2 169.4 L522.6 169 L522 168.5 L521.4 168 L520.9 167.4 L520.4 166.7 L520 166 L519.6 165.3 L519.3 164.6 L519.1 163.8 L518.9 163 L518.8 162.2 L518.7 161.5 L518.7 160.7 L518.8 160 L518.9 159.3 L519.1 158.6 L519.4 158 L519.7 157.5 L520.1 157 L520.6 156.6" fill="none" stroke="#000" stroke-width="2.2"/><path d="M552.7 146.3L566.7 176.2" stroke="#000" stroke-width="2" fill="none" stroke-dasharray="1 1"/><path d="M567 123.9 L576.8 120.6 L585.6 118.4 L591.1 122.8 L591.7 129.4 L587.8 139.3 L584.5 144.8 L578 150 L574 156 L565 148Z" fill="#fff" stroke="none" stroke-width="0"/><path d="M567 123.9 C568.6 123.4 573.7 121.5 576.8 120.6 C579.9 119.7 583.2 118 585.6 118.4 C588 118.8 590.1 121 591.1 122.8 C592.1 124.6 592.2 126.7 591.7 129.4 C591.2 132.2 589 136.7 587.8 139.3 C586.6 141.9 586.1 143 584.5 144.8 C582.9 146.6 579.8 148.1 578 150 C576.2 151.9 574.7 155 574 156" fill="none" stroke="#000" stroke-width="1.1"/><path d="M574.6 143L582.7 135.4" stroke="#000" stroke-width="0.9" fill="none"/><path d="M572 144.5 L578 146.5 L584 145" fill="none" stroke="#000" stroke-width="1.8"/><ellipse cx="563.2" cy="137.5" rx="6.6" ry="8.6" fill="#fff" stroke="#000" stroke-width="2.2" transform="rotate(-15 563.2 137.5)"/><path d="M557 148.1 L565 155 L572.9 165.7" fill="none" stroke="#000" stroke-width="1"/><path d="M576.8 160.9 C578 161.7 582 162.9 584 165.7 C586 168.5 587.5 173.6 588.9 177.8 C590.3 182 591.8 186.7 592.5 191.1 C593.2 195.5 593.5 200.6 593.1 204.4 C592.7 208.2 591.6 211.3 590.1 214.1 C588.6 216.9 586.6 219.6 584 221.4 C581.4 223.2 577.6 223.8 574.4 225 C571.2 226.2 567.9 227.8 564.7 228.6 C561.5 229.4 559 228.8 555 229.8 C551 230.8 544.5 233.1 540.5 234.7 C536.5 236.3 532.4 238.7 530.8 239.5" fill="none" stroke="#000" stroke-width="1.2"/><path d="M574 162 C575.2 163 579 165.2 581 168 C583 170.8 584.7 175 586 179 C587.3 183 588.4 187.8 589 192 C589.6 196.2 589.8 200.7 589.5 204 C589.2 207.3 588.4 209.6 587 212 C585.6 214.4 583.5 216.8 581 218.5 C578.5 220.2 575.2 220.8 572 222 C568.8 223.2 563.7 224.9 562 225.5" fill="none" stroke="#000" stroke-width="1"/><path d="M572 165 C573 166 576.2 168.3 578 171 C579.8 173.7 581.3 177.5 582.5 181 C583.7 184.5 584.5 188.3 585 192 C585.5 195.7 585.4 201.2 585.5 203" fill="none" stroke="#000" stroke-width="0.9" stroke-dasharray="1.5 1.2"/><circle cx="583" cy="185" r="1.1" fill="#000"/><circle cx="586" cy="196" r="1.1" fill="#000"/><circle cx="585" cy="207" r="1.1" fill="#000"/><circle cx="579" cy="214" r="1.1" fill="#000"/><circle cx="575" cy="190" r="1.1" fill="#000"/><circle cx="578" cy="200" r="1.1" fill="#000"/><ellipse cx="564.6" cy="193.6" rx="4.5" ry="2.5" fill="#fff" stroke="#000" stroke-width="1.3"/><path d="M560.1 193.6 L560.5 212 L556 218 L548 222" fill="none" stroke="#000" stroke-width="1"/><path d="M569.1 193.6 L569 213 L565 220.3 L557 225" fill="none" stroke="#000" stroke-width="1"/><path d="M560.5 197 L569 197" fill="none" stroke="#000" stroke-width="1"/><path d="M495.9 238 L495.9 258 L503.5 262 L511.5 258 L511.5 238" fill="none" stroke="#000" stroke-width="1"/><path d="M496 257.5 L503.5 261.5 L511.4 257.5" fill="none" stroke="#000" stroke-width="2.4" stroke-dasharray="1 0.8"/><path d="M511.1 234.4 L511.1 248.5 L518.1 252.6 L527.2 249.6 L527.2 234.4" fill="none" stroke="#000" stroke-width="1"/><path d="M511.3 248.2 L518.1 252.2 L527 249.3" fill="none" stroke="#000" stroke-width="2.4" stroke-dasharray="1 0.8"/><path d="M496 238 L504 234 L511 236" fill="none" stroke="#000" stroke-width="1"/><path d="M431.5 273.7 L434.7 290.8 L440.6 297.3 L459 305.8 L462.9 305.2 L514 276.3 L516 272.4 L516.6 255.4" fill="none" stroke="#000" stroke-width="1.1"/><path d="M430.8 273 L445 270 L464.2 270.5 L494.4 259.3" fill="none" stroke="#000" stroke-width="1"/><path d="M457.7 276.3L459.6 300" stroke="#000" stroke-width="0.9" fill="none"/><path d="M464.9 275L464.2 300" stroke="#000" stroke-width="0.9" fill="none"/><path d="M446 262 L470 266 L495 256" fill="none" stroke="#000" stroke-width="1"/><path d="M452 258 L476 262 L495 253" fill="none" stroke="#000" stroke-width="2.2" stroke-dasharray="1 0.8"/><path d="M401.4 180.9 L400.1 183.6 L400.5 189.7 L399.7 195 L400.1 200.2 L399 206" fill="none" stroke="#000" stroke-width="1.2"/><path d="M401.4 180.9 L403 179.5 L416.3 178.3" fill="none" stroke="#000" stroke-width="1.1"/><path d="M403 182 L408 181 L410 185 L404 187" fill="none" stroke="#000" stroke-width="1"/><path d="M400.3 193 L428.4 216.5" fill="none" stroke="#000" stroke-width="1.3"/><path d="M400.3 199 L426 221" fill="none" stroke="#000" stroke-width="1.3"/><clipPath id="ch3"><path d="M400.3 193.5 L428.4 217 L426 221 L400.3 199Z"/></clipPath><path clip-path="url(#ch3)" d="M445.5 205.1L417.7 238.3M444.4 204.2L416.5 237.3M443.2 203.2L415.4 236.4M442.1 202.2L414.2 235.4M440.9 201.3L413.1 234.4M439.8 200.3L411.9 233.5M438.6 199.3L410.8 232.5M437.5 198.4L409.6 231.6M436.3 197.4L408.5 230.6M435.2 196.4L407.3 229.6M434 195.5L406.2 228.7M432.9 194.5L405 227.7M431.7 193.6L403.9 226.7M430.6 192.6L402.7 225.8M429.4 191.6L401.6 224.8M428.3 190.7L400.4 223.8M427.1 189.7L399.3 222.9M426 188.7L398.1 221.9M424.8 187.8L397 220.9M423.7 186.8L395.8 220M422.5 185.8L394.7 219M421.4 184.9L393.5 218.1M420.2 183.9L392.4 217.1M419.1 182.9L391.2 216.1M417.9 182L390.1 215.2M416.8 181L388.9 214.2M415.6 180.1L387.8 213.2M414.5 179.1L386.6 212.3M413.3 178.1L385.5 211.3M412.2 177.2L384.3 210.3M411 176.2L383.2 209.4" stroke="#000" stroke-width="0.9" fill="none"/><path d="M410 187 L434 207" fill="none" stroke="#000" stroke-width="1"/><path d="M419 185 L447.7 200.7" fill="none" stroke="#000" stroke-width="1"/><path d="M424 178.8 L447.7 200.7" fill="none" stroke="#000" stroke-width="1"/><ellipse cx="403.8" cy="215.7" rx="5.5" ry="6.5" fill="#fff" stroke="#000" stroke-width="2.4" transform="rotate(-20 403.8 215.7)"/><ellipse cx="403.8" cy="215.7" rx="2" ry="2.5" fill="#000" stroke="#000" stroke-width="1"/><path d="M409 212 L415 218 L413 224 L408 222" fill="none" stroke="#000" stroke-width="1.4"/><path d="M419 218 L426 216.5 L432 219 L433.5 226 L431 234 L421 233Z" fill="#fff" stroke="none" stroke-width="0"/><clipPath id="ch4"><path d="M419 218 L426 216.5 L432 219 L433.5 226 L431 234 L421 233Z"/></clipPath><path clip-path="url(#ch4)" d="M438.1 209.6L442.8 235.9M436.9 209.8L441.6 236.1M435.7 210L440.4 236.3M434.6 210.2L439.2 236.5M433.4 210.4L438 236.7M432.2 210.6L436.8 237M431 210.8L435.7 237.2M429.8 211L434.5 237.4M428.7 211.3L433.3 237.6M427.5 211.5L432.1 237.8M426.3 211.7L430.9 238M425.1 211.9L429.8 238.2M423.9 212.1L428.6 238.4M422.7 212.3L427.4 238.6M421.6 212.5L426.2 238.8M420.4 212.7L425 239M419.2 212.9L423.8 239.2M418 213.1L422.7 239.5M416.8 213.3L421.5 239.7M415.7 213.5L420.3 239.9M414.5 213.8L419.1 240.1M413.3 214L417.9 240.3M412.1 214.2L416.8 240.5M410.9 214.4L415.6 240.7M409.7 214.6L414.4 240.9" stroke="#000" stroke-width="1.1" fill="none"/><clipPath id="ch5"><path d="M419 218 L426 216.5 L432 219 L433.5 226 L431 234 L421 233Z"/></clipPath><path clip-path="url(#ch5)" d="M407.7 219.8L430.8 206.4M408.7 221.5L431.8 208.2M409.7 223.3L432.8 209.9M410.7 225L433.8 211.6M411.7 226.7L434.8 213.4M412.7 228.5L435.8 215.1M413.7 230.2L436.8 216.8M414.7 231.9L437.8 218.6M415.7 233.7L438.8 220.3M416.7 235.4L439.8 222M417.7 237.1L440.8 223.8M418.7 238.9L441.8 225.5M419.7 240.6L442.8 227.2M420.7 242.3L443.8 229M421.7 244.1L444.8 230.7" stroke="#000" stroke-width="1" fill="none"/><path d="M420 176 L426 172 L437 178 L441 184 L436 188 L425 184Z" fill="#fff" stroke="#000" stroke-width="1.1"/><path d="M427.4 176.8 L427.6 176.8 L427.9 177 L428.2 177.1 L428.5 177.3 L428.7 177.5 L429 177.7 L429.2 178 L429.5 178.3 L429.7 178.6 L429.9 178.9 L430 179.3 L430.2 179.6 L430.3 179.9 L430.4 180.3 L430.5 180.6 L430.6 181 L430.6 181.3 L430.6 181.6 L430.6 181.9 L430.5 182.2 L430.4 182.4 L430.3 182.6 L430.1 182.8 L430 183 L429.8 183.1 L429.6 183.2 L429.4 183.3 L429.1 183.3 L428.9 183.3 L428.6 183.2" fill="none" stroke="#000" stroke-width="1.6"/><path d="M430.4 178 L430.6 178 L430.9 178.2 L431.2 178.3 L431.5 178.5 L431.7 178.7 L432 178.9 L432.2 179.2 L432.5 179.5 L432.7 179.8 L432.9 180.1 L433 180.5 L433.2 180.8 L433.3 181.1 L433.4 181.5 L433.5 181.8 L433.6 182.2 L433.6 182.5 L433.6 182.8 L433.6 183.1 L433.5 183.4 L433.4 183.6 L433.3 183.8 L433.1 184 L433 184.2 L432.8 184.3 L432.6 184.4 L432.4 184.5 L432.1 184.5 L431.9 184.5 L431.6 184.4" fill="none" stroke="#000" stroke-width="1.6"/><path d="M433.4 179.2 L433.6 179.2 L433.9 179.4 L434.2 179.5 L434.5 179.7 L434.7 179.9 L435 180.1 L435.2 180.4 L435.5 180.7 L435.7 181 L435.9 181.3 L436 181.7 L436.2 182 L436.3 182.3 L436.4 182.7 L436.5 183 L436.6 183.4 L436.6 183.7 L436.6 184 L436.6 184.3 L436.5 184.6 L436.4 184.8 L436.3 185 L436.1 185.2 L436 185.4 L435.8 185.5 L435.6 185.6 L435.4 185.7 L435.1 185.7 L434.9 185.7 L434.6 185.6" fill="none" stroke="#000" stroke-width="1.6"/><ellipse cx="438.5" cy="181.5" rx="1.6" ry="2.4" fill="#000" stroke="#000" stroke-width="1"/><path d="M437 185 L440 188" fill="none" stroke="#000" stroke-width="1.8"/><path d="M447.2 234.6 L446.9 233.9 L446.6 233.2 L446.4 232.5 L446.3 231.8 L446.2 231.1 L446.2 230.3 L446.3 229.6 L446.4 229 L446.6 228.3 L446.8 227.7 L447.1 227.1 L447.5 226.6 L447.9 226.1 L448.4 225.7 L448.9 225.3 L449.4 225 L450 224.8 L450.6 224.7 L451.2 224.6 L451.8 224.7 L452.4 224.7 L453 224.9 L453.6 225.2 L454.2 225.5 L454.8 225.8 L455.3 226.3 L455.8 226.8 L456.3 227.3 L456.7 227.9 L457.1 228.6 L457.4 229.2 L457.6 229.9 L457.8 230.7 L457.9 231.4 L458 232.1 L458 232.8 L457.9 233.5 L457.8 234.2 L457.6 234.8 L457.3 235.5 L457 236 L456.6 236.5 L456.2 237" fill="none" stroke="#000" stroke-width="2.4"/><path d="M444.8 236.1 L444.3 235.1 L443.9 234.1 L443.6 233 L443.4 231.9 L443.3 230.9 L443.3 229.8 L443.3 228.7 L443.5 227.7 L443.8 226.7 L444.2 225.8 L444.6 224.9 L445.2 224.1 L445.8 223.4 L446.5 222.8 L447.2 222.2 L448.1 221.8 L448.9 221.5 L449.8 221.3 L450.7 221.2 L451.6 221.2 L452.6 221.4 L453.5 221.6 L454.4 222 L455.3 222.5 L456.2 223 L457 223.7 L457.7 224.4 L458.4 225.3 L459 226.2 L459.6 227.1 L460 228.1 L460.4 229.2 L460.7 230.2 L460.9 231.3 L460.9 232.4 L460.9 233.5 L460.8 234.5 L460.6 235.5 L460.3 236.5 L459.9 237.4 L459.4 238.3 L458.9 239.1 L458.2 239.8" fill="none" stroke="#000" stroke-width="1.2"/><path d="M443 237.2 L442.4 236 L441.9 234.7 L441.6 233.4 L441.3 232 L441.2 230.7 L441.1 229.4 L441.3 228 L441.5 226.8 L441.8 225.6 L442.3 224.4 L442.9 223.3 L443.5 222.3 L444.3 221.5 L445.2 220.7 L446.1 220 L447.1 219.5 L448.1 219.1 L449.2 218.9 L450.4 218.8 L451.5 218.8 L452.7 219 L453.8 219.3 L455 219.7 L456.1 220.3 L457.1 221 L458.1 221.8 L459 222.7 L459.9 223.8 L460.7 224.9 L461.3 226.1 L461.9 227.3 L462.4 228.6 L462.7 229.9 L462.9 231.3 L463.1 232.6 L463 233.9 L462.9 235.2 L462.6 236.5 L462.3 237.7 L461.8 238.9 L461.2 239.9 L460.5 240.9 L459.7 241.7" fill="none" stroke="#000" stroke-width="2.4"/><path d="M440.9 238.5 L440.2 237 L439.6 235.4 L439.1 233.8 L438.8 232.2 L438.6 230.5 L438.6 228.9 L438.8 227.3 L439 225.7 L439.5 224.2 L440 222.8 L440.7 221.4 L441.6 220.2 L442.5 219.1 L443.6 218.2 L444.7 217.4 L445.9 216.7 L447.2 216.3 L448.6 216 L450 215.8 L451.4 215.9 L452.8 216.1 L454.2 216.4 L455.6 217 L457 217.7 L458.3 218.6 L459.5 219.6 L460.6 220.7 L461.7 222 L462.6 223.4 L463.5 224.8 L464.2 226.3 L464.7 227.9 L465.2 229.6 L465.4 231.2 L465.6 232.9 L465.6 234.5 L465.4 236.1 L465.1 237.7 L464.6 239.2 L464 240.6 L463.3 241.9 L462.4 243 L461.5 244.1" fill="none" stroke="#000" stroke-width="1"/><path d="M457 217.9 L457.4 217.3 L458 216.7 L458.6 216.2 L459.3 215.8 L460 215.5 L460.8 215.3 L461.5 215.2 L462.3 215.2 L463.1 215.3 L463.9 215.5 L464.7 215.8 L465.5 216.2 L466.2 216.7 L466.9 217.2 L467.6 217.9 L468.2 218.6 L468.7 219.4 L469.2 220.2 L469.6 221.1 L469.9 222 L470.2 222.9 L470.3 223.9 L470.4 224.8 L470.4 225.7 L470.3 226.7 L470.2 227.5" fill="none" stroke="#000" stroke-width="1.6" stroke-dasharray="1.4 0.9"/><path d="M454.9 215.9 L455.6 215 L456.3 214.3 L457.2 213.6 L458.1 213.1 L459 212.7 L460 212.4 L461 212.3 L462.1 212.3 L463.2 212.4 L464.2 212.7 L465.3 213.1 L466.3 213.6 L467.3 214.2 L468.2 215 L469.1 215.9 L469.9 216.8 L470.6 217.8 L471.2 219 L471.8 220.1 L472.2 221.3 L472.6 222.6 L472.8 223.8 L472.9 225.1 L472.9 226.3 L472.8 227.6 L472.5 228.7" fill="none" stroke="#000" stroke-width="2.4" stroke-dasharray="1.4 0.9"/><path d="M453.3 214.2 L454.1 213.1 L455 212.2 L456 211.4 L457 210.8 L458.2 210.3 L459.4 210 L460.6 209.8 L461.9 209.8 L463.2 210 L464.5 210.3 L465.7 210.8 L467 211.4 L468.2 212.2 L469.3 213.1 L470.3 214.2 L471.3 215.3 L472.2 216.6 L473 217.9 L473.6 219.3 L474.2 220.8 L474.6 222.3 L474.8 223.8 L475 225.3 L475 226.8 L474.8 228.3 L474.5 229.7" fill="none" stroke="#000" stroke-width="1.2" stroke-dasharray="1.4 0.9"/><ellipse cx="439" cy="250" rx="12.5" ry="18.5" fill="none" stroke="#000" stroke-width="1.2" transform="rotate(-15 439 250)"/><path d="M425.5 236.4 L426.9 236.7 L428.3 237.1 L429.6 237.7 L430.9 238.6 L432.2 239.6 L433.4 240.7 L434.6 242 L435.7 243.5 L436.6 245.1 L437.5 246.7 L438.3 248.5 L438.9 250.3 L439.4 252.2 L439.8 254.1 L440 256 L440.1 257.9 L440 259.7 L439.8 261.5 L439.5 263.2 L439 264.8 L438.4 266.3 L437.6 267.7 L436.8 268.9 L435.8 270 L434.8 270.9" fill="none" stroke="#000" stroke-width="1.3"/><path d="M427.8 235.5 L429.2 235.8 L430.6 236.2 L431.9 236.8 L433.2 237.7 L434.5 238.7 L435.7 239.8 L436.9 241.1 L438 242.6 L438.9 244.2 L439.8 245.8 L440.6 247.6 L441.2 249.4 L441.7 251.3 L442.1 253.2 L442.3 255.1 L442.4 257 L442.3 258.8 L442.1 260.6 L441.8 262.3 L441.3 263.9 L440.7 265.4 L439.9 266.8 L439.1 268 L438.1 269.1 L437.1 270" fill="none" stroke="#000" stroke-width="0.9"/><path d="M430.1 234.6 L431.5 234.9 L432.9 235.3 L434.2 235.9 L435.5 236.8 L436.8 237.8 L438 238.9 L439.2 240.2 L440.3 241.7 L441.2 243.3 L442.1 244.9 L442.9 246.7 L443.5 248.5 L444 250.4 L444.4 252.3 L444.6 254.2 L444.7 256.1 L444.6 257.9 L444.4 259.7 L444.1 261.4 L443.6 263 L443 264.5 L442.2 265.9 L441.4 267.1 L440.4 268.2 L439.4 269.1" fill="none" stroke="#000" stroke-width="1.3"/><path d="M432.4 233.7 L433.8 234 L435.2 234.4 L436.5 235 L437.8 235.9 L439.1 236.9 L440.3 238 L441.5 239.3 L442.6 240.8 L443.5 242.4 L444.4 244 L445.2 245.8 L445.8 247.6 L446.3 249.5 L446.7 251.4 L446.9 253.3 L447 255.2 L446.9 257 L446.7 258.8 L446.4 260.5 L445.9 262.1 L445.3 263.6 L444.5 265 L443.7 266.2 L442.7 267.3 L441.7 268.2" fill="none" stroke="#000" stroke-width="0.9"/><path d="M434.7 232.8 L436.1 233.1 L437.5 233.5 L438.8 234.1 L440.1 235 L441.4 236 L442.6 237.1 L443.8 238.4 L444.9 239.9 L445.8 241.5 L446.7 243.1 L447.5 244.9 L448.1 246.7 L448.6 248.6 L449 250.5 L449.2 252.4 L449.3 254.3 L449.2 256.1 L449 257.9 L448.7 259.6 L448.2 261.2 L447.6 262.7 L446.8 264.1 L446 265.3 L445 266.4 L444 267.3" fill="none" stroke="#000" stroke-width="1.3"/><path d="M437 231.9 L438.4 232.2 L439.8 232.6 L441.1 233.2 L442.4 234.1 L443.7 235.1 L444.9 236.2 L446.1 237.5 L447.2 239 L448.1 240.6 L449 242.2 L449.8 244 L450.4 245.8 L450.9 247.7 L451.3 249.6 L451.5 251.5 L451.6 253.4 L451.5 255.2 L451.3 257 L451 258.7 L450.5 260.3 L449.9 261.8 L449.1 263.2 L448.3 264.4 L447.3 265.5 L446.3 266.4" fill="none" stroke="#000" stroke-width="0.9"/><path d="M425 236 L439 231.5" fill="none" stroke="#000" stroke-width="1.1"/><path d="M423 274.5 L437 269.5" fill="none" stroke="#000" stroke-width="1.1"/><ellipse cx="424" cy="255.5" rx="12.5" ry="18.5" fill="#fff" stroke="#000" stroke-width="1.4" transform="rotate(-15 424 255.5)"/><ellipse cx="424.3" cy="255.5" rx="10.2" ry="16" fill="none" stroke="#000" stroke-width="1" transform="rotate(-15 424.3 255.5)" stroke-dasharray="2.2 1.2"/><ellipse cx="426.5" cy="257" rx="6.4" ry="9.4" fill="#fff" stroke="#000" stroke-width="1.6" transform="rotate(-15 426.5 257)"/><clipPath id="ch6"><path d="M420 248 L433 248 L434 267 L420 267Z"/></clipPath><path clip-path="url(#ch6)" d="M435.7 239.6L445.2 265.6M434.7 240L444.1 266M433.7 240.4L443.1 266.3M432.6 240.8L442.1 266.7M431.6 241.1L441 267.1M430.5 241.5L440 267.5M429.5 241.9L439 267.8M428.5 242.3L437.9 268.2M427.4 242.7L436.9 268.6M426.4 243L435.9 269M425.4 243.4L434.8 269.3M424.3 243.8L433.8 269.7M423.3 244.2L432.8 270.1M422.3 244.5L431.7 270.5M421.2 244.9L430.7 270.8M420.2 245.3L429.7 271.2M419.2 245.7L428.6 271.6M418.1 246L427.6 272M417.1 246.4L426.6 272.3M416.1 246.8L425.5 272.7M415 247.2L424.5 273.1M414 247.5L423.5 273.5M413 247.9L422.4 273.9M411.9 248.3L421.4 274.2M410.9 248.7L420.3 274.6M409.9 249L419.3 275M408.8 249.4L418.3 275.4" stroke="#000" stroke-width="1" fill="none"/><ellipse cx="426.5" cy="257" rx="6.4" ry="9.4" fill="none" stroke="#000" stroke-width="1.6" transform="rotate(-15 426.5 257)"/><ellipse cx="426" cy="257.5" rx="3" ry="4.4" fill="#fff" stroke="#000" stroke-width="1.2" transform="rotate(-15 426 257.5)"/><path d="M457.4 241.3 L446.9 261.5" fill="none" stroke="#000" stroke-width="1.1"/><path d="M412 252L445 240" stroke="#000" stroke-width="0.7" fill="none" stroke-dasharray="3 2"/><path d="M248.8 153.6 L251.5 151.4 L269.6 149.8 L271.8 151.4 L288.3 143.7 L298.2 142.1 L305.9 143.2 L310.3 145.9 L313 146.5 L313.5 148.1 L319 155.2 L321.8 162.9 L322.3 171.7 L321.2 178.3 L316.8 182.7 L316.8 194.8 L312.4 199.2 L308.1 198.1 L304.8 190.4 L291.6 197 L286.1 200.3 L285.6 211.2 L282.8 216.2 L278.4 214.5 L276.2 209 L270.7 205.7 L262 201.4 L254.3 195.9 L249.9 191.5 L249.3 187.1 L247.7 171.7 L248.2 163Z" fill="#FFD200" stroke="#000" stroke-width="1.4"/><path d="M250.5 157.8 C251.7 157.8 254.7 157.7 257.7 157.6 C260.7 157.5 266.9 157.3 268.7 157.2" fill="none" stroke="#000" stroke-width="1.4"/><ellipse cx="257.7" cy="154" rx="1.4" ry="1.1" fill="none" stroke="#000" stroke-width="1"/><ellipse cx="265.6" cy="153.8" rx="1.4" ry="1.1" fill="none" stroke="#000" stroke-width="1"/><ellipse cx="250.9" cy="157" rx="1.4" ry="1.1" fill="none" stroke="#000" stroke-width="1"/><path d="M268.7 151.4 L271.3 158.4" fill="none" stroke="#000" stroke-width="1.2" stroke-dasharray="1 0.8"/><path d="M271.3 158.4 C272.6 159.5 276.7 162.6 279 165 C281.3 167.4 283.4 170.2 285 172.9 C286.6 175.6 287.8 178.2 288.5 181 C289.2 183.8 289.6 187.2 289.5 190 C289.4 192.8 288.2 196.7 288 198" fill="none" stroke="#000" stroke-width="1.1" stroke-dasharray="1.2 0.8"/><path d="M272.5 152 C274.1 153.5 279.4 158.2 282 161 C284.6 163.8 286.3 166.2 288 169 C289.7 171.8 291.1 174.8 292 178 C292.9 181.2 293.4 184.8 293.5 188 C293.6 191.2 292.7 195.5 292.5 197" fill="none" stroke="#000" stroke-width="1.1"/><path d="M267.4 161.5 L277.9 170.3" fill="none" stroke="#000" stroke-width="3.2"/><path d="M267.6 161.5 L277.7 170.3" fill="none" stroke="#FFD200" stroke-width="1.2" stroke-dasharray="1 1"/><path d="M273.1 161.1 L285 154 L294.2 150.5 L304.7 145.3" fill="none" stroke="#000" stroke-width="1.1" stroke-dasharray="1 1.2"/><path d="M288.9 152.3 C289.9 153.2 293.2 155.6 295 157.6 C296.8 159.6 298.1 162 299.4 164.6 C300.7 167.2 302.1 170.5 303 173.4 C303.9 176.3 304.4 179.5 304.7 182.1 C305 184.7 304.7 188 304.7 189.2" fill="none" stroke="#000" stroke-width="1.2"/><path d="M303.8 145.3 L306.5 150.5" fill="none" stroke="#000" stroke-width="1"/><path d="M309 147.5 L311 152" fill="none" stroke="#000" stroke-width="1"/><path d="M306.5 182.1 L306.5 191.8" fill="none" stroke="#000" stroke-width="1"/><ellipse cx="309.5" cy="194.5" rx="2.2" ry="2.5" fill="none" stroke="#000" stroke-width="1.6"/><path d="M281.9 196.2 L281.4 205" fill="none" stroke="#000" stroke-width="1"/><ellipse cx="280.3" cy="211.8" rx="2.4" ry="2.6" fill="none" stroke="#000" stroke-width="1.8"/><ellipse cx="267.5" cy="185.5" rx="14" ry="19" fill="none" stroke="#000" stroke-width="1.3" transform="rotate(-18 267.5 185.5)" stroke-dasharray="2 1"/><ellipse cx="267.5" cy="185" rx="11" ry="15.5" fill="none" stroke="#000" stroke-width="1.5" transform="rotate(-18 267.5 185)"/><ellipse cx="266.5" cy="185.5" rx="6.5" ry="9" fill="none" stroke="#000" stroke-width="1" transform="rotate(-18 266.5 185.5)"/><ellipse cx="252" cy="166" rx="1.3" ry="4" fill="none" stroke="#000" stroke-width="1.2" transform="rotate(-10 252 166)"/><ellipse cx="256.5" cy="188.5" rx="4.5" ry="5.5" fill="#FFD200" stroke="#000" stroke-width="1.5" transform="rotate(-10 256.5 188.5)"/><ellipse cx="257" cy="188.5" rx="2" ry="2.5" fill="none" stroke="#000" stroke-width="1" transform="rotate(-10 257 188.5)"/><path d="M253 185 L258 183.5 L261 186" fill="none" stroke="#000" stroke-width="1"/><path d="M259 196 L267 205" fill="none" stroke="#000" stroke-width="3"/><path d="M259.3 196 L267 204.8" fill="none" stroke="#FFD200" stroke-width="1" stroke-dasharray="1 1"/><path d="M249 165 L249 185" fill="none" stroke="#000" stroke-width="1.5"/><circle cx="268.5" cy="101.4" r="13.1" fill="#000"/><text x="268.5" y="107" text-anchor="middle" font-family="Liberation Sans, sans-serif" font-weight="bold" font-size="17.5" fill="#fff">2</text><path d="M285 110.2 L298.7 110.2 L298.7 142" fill="none" stroke="#000" stroke-width="1"/><path d="M301.5 295.3 L306.9 288.4 L317.6 283 L317.6 278.4 L325.3 272.2 L329.9 268.4 L335.3 271.5 L336.1 273.8 L345.3 275.3 L354.5 283 L359.9 292.2 L360.6 299.9 L362.2 304.5 L359.9 316.8 L354.5 320.6 L340.7 324.5 L333 322.9 L325.3 328.3 L317.6 327.6 L306.9 321.4 L302.3 310.6Z" fill="#FFD200" stroke="#000" stroke-width="1.4"/><path d="M337.1 274.4 C339 274.9 345.6 275.7 348.7 277.3 C351.8 278.9 354 281.3 355.9 283.8 C357.8 286.3 359.4 289.8 360.3 292.5 C361.2 295.2 360.9 298.8 361 300" fill="none" stroke="#000" stroke-width="1.1"/><path d="M336 277 C337.7 277.4 343.2 278.1 346 279.5 C348.8 280.9 351.2 283.2 353 285.5 C354.8 287.8 356.1 290.4 357 293 C357.9 295.6 358.2 299.7 358.5 301" fill="none" stroke="#000" stroke-width="1.1"/><path d="M333.5 279 C335.1 279.5 340.2 280.5 343 282 C345.8 283.5 348.2 285.7 350 288 C351.8 290.3 353.1 293.2 354 296 C354.9 298.8 355.2 303.5 355.5 305" fill="none" stroke="#000" stroke-width="1"/><path d="M319 290 C320.2 290.5 324 291.3 326 293 C328 294.7 329.8 297.2 331 300 C332.2 302.8 332.8 306.8 333 310 C333.2 313.2 332.7 316.7 332 319 C331.3 321.3 329.5 323.2 329 324" fill="none" stroke="#000" stroke-width="1.1"/><path d="M321.2 290.7 C322.4 291.1 326.2 291.9 328.2 293.4 C330.2 295 332 297.2 333.2 300 C334.4 302.8 335 306.8 335.2 310 C335.4 313.2 334.9 316.7 334.2 319 C333.5 321.3 331.7 323.2 331.2 324" fill="none" stroke="#000" stroke-width="0.9"/><path d="M323.4 291.3 C324.6 291.7 328.4 292.4 330.4 293.9 C332.4 295.3 334.2 297.3 335.4 300 C336.6 302.7 337.2 306.8 337.4 310 C337.6 313.2 337.1 316.7 336.4 319 C335.7 321.3 333.9 323.2 333.4 324" fill="none" stroke="#000" stroke-width="1.1"/><path d="M325.6 292 C326.8 292.4 330.6 293 332.6 294.3 C334.6 295.7 336.4 297.4 337.6 300 C338.8 302.6 339.4 306.8 339.6 310 C339.8 313.2 339.3 316.7 338.6 319 C337.9 321.3 336.1 323.2 335.6 324" fill="none" stroke="#000" stroke-width="0.9"/><path d="M327.8 292.6 C329 293 332.8 293.5 334.8 294.8 C336.8 296 338.6 297.5 339.8 300 C341 302.5 341.6 306.8 341.8 310 C342 313.2 341.5 316.7 340.8 319 C340.1 321.3 338.3 323.2 337.8 324" fill="none" stroke="#000" stroke-width="1.1"/><path d="M330 293.3 C331.2 293.6 335 294.1 337 295.2 C339 296.3 340.8 297.5 342 300 C343.2 302.5 343.8 306.8 344 310 C344.2 313.2 343.7 316.7 343 319 C342.3 321.3 340.5 323.2 340 324" fill="none" stroke="#000" stroke-width="0.9"/><ellipse cx="317.2" cy="308.4" rx="14.8" ry="19.5" fill="#FFD200" stroke="#000" stroke-width="1.5" transform="rotate(-12 317.2 308.4)"/><ellipse cx="317.2" cy="308.6" rx="12.6" ry="17.2" fill="none" stroke="#000" stroke-width="1" transform="rotate(-12 317.2 308.6)" stroke-dasharray="2 1"/><ellipse cx="314.7" cy="309.9" rx="6.8" ry="7.6" fill="none" stroke="#000" stroke-width="1.3" transform="rotate(-12 314.7 309.9)"/><ellipse cx="314.9" cy="309.9" rx="4.3" ry="5" fill="none" stroke="#000" stroke-width="1.4" transform="rotate(-12 314.9 309.9)"/><ellipse cx="315" cy="310" rx="2" ry="2.3" fill="none" stroke="#000" stroke-width="1"/><ellipse cx="348.5" cy="308.3" rx="4.4" ry="7" fill="none" stroke="#000" stroke-width="1.3" transform="rotate(-10 348.5 308.3)"/><path d="M352 302 C352.7 302.5 355 303.5 356 305 C357 306.5 358 309.2 358 311 C358 312.8 356.3 315.2 356 316" fill="none" stroke="#000" stroke-width="1.1"/><path d="M325.5 272 C326.2 271.6 328.4 269.6 330 269.5 C331.6 269.4 334.1 270.6 335 271.5 C335.9 272.4 335.6 274.4 335.7 275" fill="none" stroke="#000" stroke-width="1.1"/><ellipse cx="329.5" cy="273" rx="1.6" ry="1.3" fill="none" stroke="#000" stroke-width="1"/><path d="M318 281 C318.8 280.3 321.3 277.2 323 277 C324.7 276.8 327.2 279.5 328 280" fill="none" stroke="#000" stroke-width="1"/><path d="M306.9 288.4 C308.8 288.2 314.1 287.1 318 287 C321.9 286.9 328 287.4 330 287.5" fill="none" stroke="#000" stroke-width="1"/><ellipse cx="375.3" cy="275" rx="13.3" ry="18.8" fill="none" stroke="#000" stroke-width="3.2" transform="rotate(-25 375.3 275)"/><ellipse cx="375.3" cy="275" rx="13.3" ry="18.8" fill="none" stroke="#FFD200" stroke-width="1.5" transform="rotate(-25 375.3 275)"/><path d="M362.2 279.6L365.8 283.4" stroke="#fff" stroke-width="4.2"/><path d="M361.6 278.9L362.6 279.9M365.2 282.8L366.4 283.9" stroke="#000" stroke-width="1"/><circle cx="280.7" cy="252.3" r="13.1" fill="#000"/><text x="280.7" y="257.9" text-anchor="middle" font-family="Liberation Sans, sans-serif" font-weight="bold" font-size="17.5" fill="#fff">3</text><path d="M297.6 261 L311.5 261 L320.7 276.8" fill="none" stroke="#000" stroke-width="1"/><circle cx="320.7" cy="225.8" r="13.1" fill="#000"/><text x="320.7" y="231.4" text-anchor="middle" font-family="Liberation Sans, sans-serif" font-weight="bold" font-size="17.5" fill="#fff">4</text><path d="M337.6 234.6 L350.7 234.6 L363.7 257.6" fill="none" stroke="#000" stroke-width="1"/><path d="M647.2 133.4 L650.7 129.9 L663.4 122.1 L674.7 115 L680.3 113.6 L688.8 117.9 L694.4 122.1 L701.5 126.3 L707.1 127.7 L710.7 129.9 L709.3 133.4 L702.9 139 L702.9 151.7 L698.7 157.4 L694.4 154.6 L686 157.4 L674.7 161.6 L666.2 164.4 L660.6 161.6 L656.3 154.6 L649.3 148.9 L646.5 140.4Z" fill="#FFD200" stroke="#000" stroke-width="1.4"/><path d="M664.5 125.5 C665.3 126.5 668.2 129.3 669.4 131.2 C670.6 133.1 671.3 134.9 671.5 136.8 C671.7 138.7 671.3 140.8 670.8 142.5 C670.3 144.2 669.1 146 668.7 146.7" fill="none" stroke="#000" stroke-width="1.1"/><path d="M679.3 116.4 C680.1 117.2 682.9 119.4 684.2 121.3 C685.5 123.2 686.6 125.4 687 127.6 C687.4 129.8 686.8 132.6 686.3 134.7 C685.8 136.8 684.9 138.6 684.2 140.3 C683.5 142 682.4 144.2 682 145" fill="none" stroke="#000" stroke-width="1.4" stroke-dasharray="1.5 1"/><path d="M667.3 146.7 L693.4 138.2" fill="none" stroke="#000" stroke-width="1"/><path d="M665.9 150.5 L693.4 142.5" fill="none" stroke="#000" stroke-width="1"/><path d="M660 152 L666 158 L675 156 L690 151" fill="none" stroke="#000" stroke-width="1"/><path d="M693.4 127.6 L693.4 149.5" fill="none" stroke="#000" stroke-width="1"/><path d="M697 125 L698 136 L697 146" fill="none" stroke="#000" stroke-width="1" stroke-dasharray="1.2 0.8"/><path d="M702 130 L707 130 L709 133" fill="none" stroke="#000" stroke-width="1"/><ellipse cx="705.5" cy="130.5" rx="2.5" ry="2" fill="none" stroke="#000" stroke-width="1.2"/><path d="M699.5 140 L702 139 L702.5 150" fill="none" stroke="#000" stroke-width="1"/><path d="M688 119 L693 124 L697 125.5" fill="none" stroke="#000" stroke-width="1"/><circle cx="679.3" cy="134.7" r="1.4" fill="#000"/><circle cx="671.5" cy="149.5" r="2.2" fill="#000"/><circle cx="670.8" cy="121.3" r="1.2" fill="#000"/><circle cx="686" cy="148" r="1.1" fill="#000"/><circle cx="690" cy="152" r="1" fill="#000"/><circle cx="662" cy="161" r="1.2" fill="#000"/><ellipse cx="654.2" cy="140.3" rx="7.2" ry="9.4" fill="#FFD200" stroke="#000" stroke-width="1.8" transform="rotate(-15 654.2 140.3)"/><ellipse cx="654.9" cy="140.9" rx="4.6" ry="6" fill="none" stroke="#000" stroke-width="1.6" transform="rotate(-15 654.9 140.9)"/><ellipse cx="655" cy="141" rx="2" ry="2.6" fill="none" stroke="#000" stroke-width="1.2" transform="rotate(-15 655 141)"/><path d="M650.5 135 L653 133.5" fill="none" stroke="#000" stroke-width="1.2"/><path d="M657 147 L659.5 145.5" fill="none" stroke="#000" stroke-width="1.2"/><path d="M657 155 L661 162 L666 163.5" fill="none" stroke="#000" stroke-width="1.6"/><ellipse cx="702" cy="134.3" rx="1.6" ry="1.9" fill="none" stroke="#000" stroke-width="1.1"/><ellipse cx="706.5" cy="128.3" rx="1.5" ry="1.8" fill="none" stroke="#000" stroke-width="1.1"/><ellipse cx="699" cy="144.9" rx="1.6" ry="1.9" fill="none" stroke="#000" stroke-width="1.1"/><ellipse cx="696" cy="138" rx="1.2" ry="1.4" fill="none" stroke="#000" stroke-width="1.1"/><ellipse cx="700" cy="150" rx="1.3" ry="1.6" fill="none" stroke="#000" stroke-width="1.1"/><circle cx="674.8" cy="146.4" r="1.4" fill="#000"/><circle cx="679.3" cy="152.5" r="1.2" fill="#000"/><path d="M676 150 C676.7 149.5 678.7 147 680 147 C681.3 147 683.8 148.7 684 150 C684.2 151.3 681.5 154.2 681 155" fill="none" stroke="#000" stroke-width="1.1"/><path d="M689 135 L689 152" fill="none" stroke="#000" stroke-width="1"/><path d="M684 140 L691 138" fill="none" stroke="#000" stroke-width="1.1"/><path d="M696 126 L704 127.5 L706 133" fill="none" stroke="#000" stroke-width="1"/><path d="M660 151 L662 157" fill="none" stroke="#000" stroke-width="1.4"/><circle cx="618.5" cy="85.7" r="13.1" fill="#000"/><path d="M618.1 78.7L621.1 78.7L621.1 91.1L617.9 91.1L617.9 83.1Q616.7 84.1 614.7 84.3L614.7 81.7Q616.9 81.1 618.1 78.7Z" fill="#fff"/><path d="M635.2 94.3 L647.9 94.3 L664.1 122.1" fill="none" stroke="#000" stroke-width="1"/><path d="M555.9 285 L555.9 305 L558 309.5 L564.2 314 L570.2 310.7 L577.8 307.7 L589.9 301.7 L600.5 295.6 L612.6 288 L624.7 282 L638.3 274.4 L644.6 272 L646 273.8 L652.4 273.3 L653.7 265.4 L661 262.8 L662.3 259.5 L660.3 254.9 L657 251.6 L656.4 246.4 L651.1 245.7 L648.5 236.5 L642.6 234.3 L640.6 234.6 L637 239 L631 242 L630 244 L625 248 L618 250 L616 252 L608 256.5 L604 256.2 L600 258.8 L590 264 L586 267 L578 271 L575 273 L570 276.5 L565 278 L562.7 280.5Z" fill="#fff" stroke="#000" stroke-width="1.2"/><path d="M604 256.5 L605.5 259.5 L608.5 260" fill="none" stroke="#000" stroke-width="1"/><path d="M618 250 L619.5 253 L622.5 253.5" fill="none" stroke="#000" stroke-width="1"/><path d="M631 243 L632.5 246 L635.5 246.5" fill="none" stroke="#000" stroke-width="1"/><path d="M642 236 L643.5 239 L646.5 239.5" fill="none" stroke="#000" stroke-width="1"/><ellipse cx="570.2" cy="280.5" rx="1.5" ry="1.3" fill="#fff" stroke="#000" stroke-width="1.3"/><ellipse cx="581.6" cy="272.9" rx="1.5" ry="1.3" fill="#fff" stroke="#000" stroke-width="1.3"/><ellipse cx="598" cy="262.8" rx="1.5" ry="1.3" fill="#fff" stroke="#000" stroke-width="1.3"/><ellipse cx="611.8" cy="260.8" rx="1.5" ry="1.3" fill="#fff" stroke="#000" stroke-width="1.3"/><ellipse cx="625.2" cy="253.6" rx="1.5" ry="1.3" fill="#fff" stroke="#000" stroke-width="1.3"/><ellipse cx="637.4" cy="245.4" rx="1.5" ry="1.3" fill="#fff" stroke="#000" stroke-width="1.3"/><ellipse cx="648.5" cy="239.2" rx="1.5" ry="1.3" fill="#fff" stroke="#000" stroke-width="1.3"/><ellipse cx="598" cy="290.6" rx="1.4" ry="1.2" fill="#fff" stroke="#000" stroke-width="1.3"/><ellipse cx="610.6" cy="285.5" rx="1.4" ry="1.2" fill="#fff" stroke="#000" stroke-width="1.3"/><ellipse cx="623.2" cy="280.5" rx="1.4" ry="1.2" fill="#fff" stroke="#000" stroke-width="1.3"/><ellipse cx="635.8" cy="274.2" rx="1.4" ry="1.2" fill="#fff" stroke="#000" stroke-width="1.3"/><ellipse cx="641" cy="266" rx="1.4" ry="1.2" fill="#fff" stroke="#000" stroke-width="1.3"/><path d="M572 284 L640.6 245.7" fill="none" stroke="#000" stroke-width="0.9" stroke-dasharray="1 1.2"/><path d="M576 288.5 L643.2 251" fill="none" stroke="#000" stroke-width="0.9" stroke-dasharray="1 1.2"/><path d="M590 292 L649.8 256.9" fill="none" stroke="#000" stroke-width="0.9" stroke-dasharray="1 1.2"/><path d="M604 297 L642.6 267" fill="none" stroke="#000" stroke-width="0.9" stroke-dasharray="1 1.2"/><path d="M644.6 258.8 L645.2 272.6" fill="none" stroke="#000" stroke-width="1.1"/><path d="M649 246 C649.5 246.7 651.2 248.3 652 250 C652.8 251.7 653.2 255 653.5 256" fill="none" stroke="#000" stroke-width="1.4"/><path d="M655 258.5 L659 258" fill="none" stroke="#000" stroke-width="1"/><ellipse cx="597" cy="287.5" rx="4.5" ry="5.5" fill="none" stroke="#000" stroke-width="1.1" transform="rotate(28 597 287.5)"/><ellipse cx="597.5" cy="288" rx="2.8" ry="3.6" fill="none" stroke="#000" stroke-width="0.9" transform="rotate(28 597.5 288)"/><ellipse cx="565.5" cy="282" rx="4" ry="3" fill="#fff" stroke="#000" stroke-width="1.2" transform="rotate(-20 565.5 282)"/><path d="M562.5 280.5 L567 278.5 L570.5 282.5" fill="none" stroke="#000" stroke-width="1.8"/><path d="M556.3 290 L557.3 303" fill="none" stroke="#000" stroke-width="2.4" stroke-dasharray="1.2 0.6"/><ellipse cx="567" cy="304" rx="4" ry="5" fill="none" stroke="#000" stroke-width="1.1"/><ellipse cx="566" cy="305.5" rx="2" ry="3" fill="none" stroke="#000" stroke-width="1"/><path d="M572 289 C572.8 288.6 575.2 286.3 577 286.5 C578.8 286.7 581.8 288.2 583 290 C584.2 291.8 584.5 295 584 297 C583.5 299 580.7 301.2 580 302" fill="none" stroke="#000" stroke-width="1.1"/><path d="M575 294 L580 298" fill="none" stroke="#000" stroke-width="1.1"/><path d="M569 292 L573 289.5" fill="none" stroke="#000" stroke-width="1.1"/><path d="M578 306 L586 302" fill="none" stroke="#000" stroke-width="1"/><path d="M560 297 L563 295 L566 297" fill="none" stroke="#000" stroke-width="1.1"/><path d="M589 284 L591 296" fill="none" stroke="#000" stroke-width="1"/><path d="M599 294 L601 296.5 L605 294" fill="none" stroke="#000" stroke-width="1.8"/><ellipse cx="570" cy="281" rx="6" ry="3.4" fill="#fff" stroke="#000" stroke-width="1.1" transform="rotate(-25 570 281)"/><clipPath id="ch7"><path d="M564.5 281 L569 277.5 L575.5 279 L575.5 282.5 L570 285Z"/></clipPath><path clip-path="url(#ch7)" d="M573.6 269.2L582.2 284.2M572.4 269.9L581.1 284.8M571.3 270.5L580 285.5M570.2 271.2L578.8 286.1M569 271.8L577.7 286.8M567.9 272.5L576.6 287.4M566.8 273.1L575.5 288.1M565.7 273.8L574.3 288.7M564.5 274.4L573.2 289.4M563.4 275.1L572.1 290M562.3 275.7L571 290.7M561.2 276.4L569.8 291.3M560 277L568.7 292M558.9 277.7L567.6 292.6M557.8 278.3L566.4 293.3" stroke="#000" stroke-width="1" fill="none"/><path d="M558.6 288 C559.3 288.3 561.1 289.7 563 290 C564.9 290.3 567.6 290.4 569.8 289.8 C572 289.2 575.2 286.7 576.3 286.1" fill="none" stroke="#000" stroke-width="1.1"/><path d="M575.4 284.2 C574.8 285.5 572.9 289.5 572 292 C571.1 294.5 571 297.4 569.8 299.2 C568.6 301 565.8 302.4 565 303" fill="none" stroke="#000" stroke-width="1.1"/><path d="M560 300 C560.5 301 561.3 304.7 563 306 C564.7 307.3 567.5 308.4 570 308 C572.5 307.6 576.7 304.2 578 303.5" fill="none" stroke="#000" stroke-width="1"/><ellipse cx="573" cy="295" rx="1.6" ry="1.6" fill="none" stroke="#000" stroke-width="1.1"/><ellipse cx="562" cy="296" rx="1.4" ry="1.8" fill="none" stroke="#000" stroke-width="1.1"/><ellipse cx="580" cy="292" rx="1.3" ry="1.3" fill="none" stroke="#000" stroke-width="1.1"/><path d="M584 288 C584.7 287.2 586.7 284.2 588 283 C589.3 281.8 591.3 281.3 592 281" fill="none" stroke="#000" stroke-width="1"/><path d="M557 287 L557.5 299" fill="none" stroke="#000" stroke-width="2.2"/><ellipse cx="589" cy="291" rx="1.3" ry="1.3" fill="none" stroke="#000" stroke-width="1"/><path d="M603 294 L611 299" fill="none" stroke="#000" stroke-width="0.8" stroke-dasharray="2 1.6"/><path d="M623 306 L630 309.5" fill="none" stroke="#000" stroke-width="0.8" stroke-dasharray="2 1.6"/><path d="M642.5 315 L646 317" fill="none" stroke="#000" stroke-width="0.8" stroke-dasharray="2 1.6"/><path d="M653 322 L658.5 327" fill="none" stroke="#000" stroke-width="0.8" stroke-dasharray="2 1.6"/><path d="M685 339 L695 345" fill="none" stroke="#000" stroke-width="0.8" stroke-dasharray="2 1.4"/><path d="M700 349 L716 357" fill="none" stroke="#000" stroke-width="0.8" stroke-dasharray="2 1.6"/><path d="M607 297 L611 294 L616 293.8 L619.5 296 L620 306 L617.5 309.6 L612 309.4 L608 306.5Z" fill="#fff" stroke="#000" stroke-width="1.2"/><path d="M608 295.5L608.8 308.5" stroke="#000" stroke-width="1.2" fill="none"/><path d="M609.7 295.5L610.5 308.5" stroke="#000" stroke-width="1.2" fill="none"/><path d="M611.4 295.5L612.2 308.5" stroke="#000" stroke-width="1.2" fill="none"/><path d="M613.1 295.5L613.9 308.5" stroke="#000" stroke-width="1.2" fill="none"/><path d="M614.8 295.5L615.6 308.5" stroke="#000" stroke-width="1.2" fill="none"/><path d="M616.5 295.5L617.3 308.5" stroke="#000" stroke-width="1.2" fill="none"/><path d="M607.5 298.5L617 296.5" stroke="#000" stroke-width="0.9" fill="none"/><path d="M607.5 302L617 300" stroke="#000" stroke-width="0.9" fill="none"/><path d="M608 305.5L617 303.5" stroke="#000" stroke-width="0.9" fill="none"/><ellipse cx="619.7" cy="303.3" rx="5.4" ry="7.9" fill="#fff" stroke="#000" stroke-width="1.1" transform="rotate(12 619.7 303.3)"/><path d="M618.5 299 C618.2 299.5 616.7 300.8 616.5 302 C616.3 303.2 616.9 305.7 617.5 306.5 C618.1 307.3 619.6 306.9 620 307" fill="none" stroke="#000" stroke-width="1.2"/><path d="M631 303.8 L638.5 305.2 L638.5 320.8 L631 319.3Z" fill="#fff" stroke="#000" stroke-width="0"/><path d="M631.5 304 C631 304.5 629.2 305.5 628.5 307 C627.8 308.5 627.5 311.2 627.5 313 C627.5 314.8 627.8 316.4 628.5 317.5 C629.2 318.6 631 319 631.5 319.3" fill="none" stroke="#000" stroke-width="1.1"/><path d="M631 303.9L638 305.3" stroke="#000" stroke-width="1" fill="none"/><path d="M631.5 319.2L637.5 320.8" stroke="#000" stroke-width="1" fill="none"/><ellipse cx="638.2" cy="313" rx="5" ry="7.8" fill="#fff" stroke="#000" stroke-width="1.1" transform="rotate(12 638.2 313)"/><path d="M640 306 C640.4 306.7 642.1 308.3 642.5 310 C642.9 311.7 643 314.2 642.5 316 C642 317.8 640 319.8 639.5 320.5" fill="none" stroke="#000" stroke-width="1.8"/><path d="M637 306.5 C636.6 307.2 634.8 309.2 634.5 311 C634.2 312.8 634.5 315.5 635 317 C635.5 318.5 637.1 319.5 637.5 320" fill="none" stroke="#000" stroke-width="1.6"/><ellipse cx="649.7" cy="320.9" rx="5.6" ry="7.6" fill="none" stroke="#000" stroke-width="2.2" transform="rotate(12 649.7 320.9)" stroke-dasharray="2.5 0.8"/><ellipse cx="649.7" cy="320.9" rx="4.2" ry="6.2" fill="none" stroke="#000" stroke-width="0.8" transform="rotate(12 649.7 320.9)"/><path d="M653 316L655 315" stroke="#fff" stroke-width="1.6" fill="none"/><path d="M665.5 325 L670 323.6 L674.2 324.5 L676 327 L682.2 330.9 L686.3 333.3 L686.7 335 L686.3 338.5 L685 343 L682.2 344.6 L676.6 343.8 L668 340 L663.7 339 L663 335Z" fill="#FFD200" stroke="#000" stroke-width="1.4"/><path d="M658.6 331 L658.8 327 L660.5 324 L663.5 323.3 L667 324.5 L666 330 L664 335 L661 334.2Z" fill="#FFD200" stroke="#000" stroke-width="1.4"/><path d="M666.1 325.3 C665.8 326.1 664.9 327.7 664.5 330 C664.1 332.3 663.8 337.5 663.7 339" fill="none" stroke="#000" stroke-width="1.3"/><path d="M670.1 326.5 C669.7 327.4 668.3 329.8 667.8 332 C667.3 334.2 667.1 338.2 667 339.5" fill="none" stroke="#000" stroke-width="1.2"/><path d="M680.5 333.3 C680.2 334.1 678.8 336.2 678.8 338 C678.8 339.8 680.2 343.2 680.5 344.3" fill="none" stroke="#000" stroke-width="2.2"/><rect x="681.6" y="338.6" width="3" height="3.4" fill="#fff"/><path d="M686.6 334.2 L686.6 338.5" fill="none" stroke="#000" stroke-width="1.6"/><path d="M668.3 372.6 L667.4 367.8 L668.8 364 L672.2 360.1 L676.6 357.7 L680 355.3 L683.3 351.4 L686.7 347.5 L689.6 343.7 L693 340.8 L697.8 339.3 L702.2 338.3 L704.1 339.3 L704.6 342.7 L703.6 347.5 L701.7 348.5 L701.2 352.4 L699.7 355.3 L696.9 356.2 L691.1 355.3 L688.2 356.7 L685.3 357.2 L683.8 361.1 L683.8 364 L681.9 367.3 L679.5 366.8 L677.5 364.9 L675.1 366.8 L673.7 370.7 L671.2 372.6 L669.3 374.1Z" fill="#fff" stroke="#000" stroke-width="1.3"/><path d="M700.2 342.7 C699.4 342.9 696.6 342.9 695.4 343.7 C694.2 344.5 693.4 346.3 693 347.5 C692.6 348.7 692.7 350 693 350.9 C693.3 351.8 694.1 352.6 694.9 352.8 C695.7 353.1 697.1 352.3 697.8 352.4 C698.5 352.5 698.8 353 699.3 353.3 C699.8 353.6 700.5 354.1 700.7 354.3" fill="none" stroke="#000" stroke-width="1.2"/><path d="M701.5 342 L702.8 346" fill="none" stroke="#000" stroke-width="1.2"/><ellipse cx="688.2" cy="347.5" rx="1.3" ry="1.3" fill="none" stroke="#000" stroke-width="1.1"/><ellipse cx="680.9" cy="357.5" rx="1.4" ry="1.6" fill="none" stroke="#000" stroke-width="1.1"/><ellipse cx="671.2" cy="367.8" rx="2.2" ry="4.4" fill="none" stroke="#000" stroke-width="1.2" transform="rotate(30 671.2 367.8)"/><path d="M676 360.5 L680 359 L683 360" fill="none" stroke="#000" stroke-width="1"/><path d="M684 352 L690 352.5" fill="none" stroke="#000" stroke-width="1"/><path d="M685.7 382.7 L687.1 377 L698.5 372.8 L701.4 362.8 L709.9 357.1 L719.9 352.1 L724.2 350.6 L732.8 354.2 L741.3 351.3 L749.9 350.6 L758.5 354.2 L764.2 358.5 L766.3 367 L764.2 372.8 L755.6 377 L742.8 377 L737 376.3 L735.6 382.7 L729.9 388.5 L718.5 391.3 L707.1 389.9 L698.5 394.2 L691.4 394.9 L687.1 391.3Z" fill="#fff" stroke="#000" stroke-width="1.2"/><path d="M701 384 C701.5 384.9 702.2 388.1 704 389.5 C705.8 390.9 709 391.8 712 392.5 C715 393.2 718.7 393.7 722 393.5 C725.3 393.3 729.4 392.8 732 391.5 C734.6 390.2 736.6 386.9 737.5 386" fill="none" stroke="#000" stroke-width="1.2"/><path d="M706 387 C707.7 387.5 712.3 389.6 716 390 C719.7 390.4 724.8 390.3 728 389.5 C731.2 388.7 733.8 385.8 735 385" fill="none" stroke="#000" stroke-width="1" stroke-dasharray="1.4 1"/><path d="M735.6 382.7 L737 378 L740 377" fill="none" stroke="#000" stroke-width="1"/><ellipse cx="706.2" cy="362.6" rx="4.2" ry="2.2" fill="#fff" stroke="#000" stroke-width="1.3" transform="rotate(-10 706.2 362.6)"/><path d="M702 363 L702.2 370" fill="none" stroke="#000" stroke-width="1.1"/><path d="M710.4 362.2 L710.2 369.5" fill="none" stroke="#000" stroke-width="1.1"/><path d="M702.2 369.5 C702.8 369.8 704.7 371.3 706 371.3 C707.3 371.3 709.5 369.8 710.2 369.5" fill="none" stroke="#000" stroke-width="1.1"/><path d="M715.3 355.4 L722.8 351.6 L733.5 355.4 L726 359.6 L715.3 355.4" fill="none" stroke="#000" stroke-width="1.1"/><path d="M715.3 355.4 L715.5 362" fill="none" stroke="#000" stroke-width="1"/><path d="M726 359.6 L726 366" fill="none" stroke="#000" stroke-width="1"/><path d="M733.5 355.4 L734 362" fill="none" stroke="#000" stroke-width="1"/><path d="M718 358.5 L724 361.5" fill="none" stroke="#000" stroke-width="1"/><ellipse cx="716.9" cy="375.7" rx="3.4" ry="5" fill="#fff" stroke="#000" stroke-width="1.5" transform="rotate(30 716.9 375.7)"/><path d="M712.5 372 L708.5 374 L706 379" fill="none" stroke="#000" stroke-width="1.1"/><path d="M718 380 L713 383" fill="none" stroke="#000" stroke-width="1.1"/><ellipse cx="733.5" cy="361.2" rx="2.3" ry="3.8" fill="#fff" stroke="#000" stroke-width="1.6" transform="rotate(10 733.5 361.2)"/><path d="M729 363 L727 367 L729 371" fill="none" stroke="#000" stroke-width="1"/><path d="M724 368 L730 372 L733 368" fill="none" stroke="#000" stroke-width="1"/><path d="M736.7 366 L762.3 359.6" fill="none" stroke="#000" stroke-width="1"/><path d="M746.3 363 L746.6 371" fill="none" stroke="#000" stroke-width="1"/><path d="M749.5 362 L749.7 370.5" fill="none" stroke="#000" stroke-width="1"/><path d="M756 359 L757 367" fill="none" stroke="#000" stroke-width="1"/><path d="M748.4 351 L749 357 L762 358" fill="none" stroke="#000" stroke-width="1"/><path d="M740 372 C741 372.7 743.3 375.4 746 376 C748.7 376.6 753.2 376.3 756 375.5 C758.8 374.7 761.8 371.8 763 371" fill="none" stroke="#000" stroke-width="1"/><ellipse cx="691.5" cy="388.5" rx="3" ry="3.6" fill="none" stroke="#000" stroke-width="1.3" transform="rotate(-10 691.5 388.5)"/><ellipse cx="692" cy="388.8" rx="1.5" ry="2" fill="none" stroke="#000" stroke-width="1" transform="rotate(-10 692 388.8)"/><path d="M689 378 L697 374 L699 382 L695 386" fill="none" stroke="#000" stroke-width="1.1"/><path d="M700 376 L702 381" fill="none" stroke="#000" stroke-width="1"/><path d="M696.5 379 L698 378.5" fill="none" stroke="#000" stroke-width="2"/><circle cx="727.1" cy="294.5" r="13.1" fill="#000"/><text x="727.1" y="300.1" text-anchor="middle" font-family="Liberation Sans, sans-serif" font-weight="bold" font-size="17.5" fill="#fff">5</text><path d="M708.5 303.3 L695.7 303.3 L680.7 329.2" fill="none" stroke="#000" stroke-width="1"/><path d="M324.6 187.2L383.2 188.9" stroke="#000" stroke-width="1.3" fill="none"/><path d="M391.7 189.2L382.1 193.2L382.3 184.7Z" fill="#000"/><path d="M642.2 139.7L605.6 138" stroke="#000" stroke-width="1.3" fill="none"/><path d="M597.1 137.6L606.8 133.8L606.4 142.3Z" fill="#000"/><path d="M582.3 260.8L520.2 226.7" stroke="#000" stroke-width="1.3" fill="none"/><path d="M512.7 222.6L523.1 223.4L519 230.9Z" fill="#000"/><path d="M359 284.6L412 252" stroke="#000" stroke-width="0.8" fill="none" stroke-dasharray="3 2"/></g><g id="bot"><path d="M427.6 537.7 L518.3 485.2 L528.8 484.2 L534.1 485.2 L545.9 493.1 L555.7 500.3 L559 508 L560.7 515.4 L569.9 521.5 L573 530.7 L574.5 539.9 L574.5 552.2 L580.7 569.1 L588.3 582.9 L591.4 595.2 L592.9 607.5 L591.4 619.7 L585.3 630.5 L576 636.6 L560.7 639.8 L548 645 L542.7 659.3 L541.4 672.4 L537.5 680.3 L529.6 686.8 L508.6 699.9 L487.7 710.4 L482.4 711.7 L474.6 710.4 L462.8 703.9 L451 693.4 L447 685 L438 690 L425 692 L412 686 L407 674 L408 660 L412 650 L404 644 L400 630 L398.6 618.4 L397.8 610 L398.6 598.5 L400 591.4 L406.4 588.3 L413.9 576 L415.2 570.7 L416.6 564.5 L417 555.7 L418.8 551.3 L423.2 543.9Z" fill="#fff" stroke="none" stroke-width="0"/><clipPath id="silbot"><path d="M427.6 537.7 L518.3 485.2 L528.8 484.2 L534.1 485.2 L545.9 493.1 L555.7 500.3 L559 508 L560.7 515.4 L569.9 521.5 L573 530.7 L574.5 539.9 L574.5 552.2 L580.7 569.1 L588.3 582.9 L591.4 595.2 L592.9 607.5 L591.4 619.7 L585.3 630.5 L576 636.6 L560.7 639.8 L548 645 L542.7 659.3 L541.4 672.4 L537.5 680.3 L529.6 686.8 L508.6 699.9 L487.7 710.4 L482.4 711.7 L474.6 710.4 L462.8 703.9 L451 693.4 L447 685 L438 690 L425 692 L412 686 L407 674 L408 660 L412 650 L404 644 L400 630 L398.6 618.4 L397.8 610 L398.6 598.5 L400 591.4 L406.4 588.3 L413.9 576 L415.2 570.7 L416.6 564.5 L417 555.7 L418.8 551.3 L423.2 543.9Z"/></clipPath><g clip-path="url(#silbot)"><path d="M426.3 592l0 2.6l0 2.8M413.9 598.1l5 3.2M409.4 585.6l4.3 2.8M433 587.9l4.3 2.8M412.4 578.4l1.9 -1M445 593a1.3 1.6 0 1 0 2.6 0a1.3 1.6 0 1 0 -2.6 0ZM414.2 583.8l4.7 -2.4M426.5 585l2.9 -1.5l0 2M415.8 585.2l3.6 -1.8M444.8 587.7l1.3 0.8l0 1.8M447.8 589.7l0 2.5l0 2.3M414.3 594.9l0 3.7M450.3 597l4.9 -2.5M405.5 589.6l4 2.6M426 582.8l2.9 -1.5l0 3.2l-2.9 1.5ZM423.6 602.8l3 1.9M446.6 583.3l4.4 2.8M409.7 602.7l0 2M433.7 598.8l2.2 -1.1M432.4 584.1l3.4 -1.8l2 1.3l-3.4 1.8ZM432.6 598.8l0 2.9M411 600.7a1.2 1.3 0 1 0 2.4 0a1.2 1.3 0 1 0 -2.4 0ZM439.8 601.5l0 6.4M433.4 588.5l4.1 -2.1M417 596.5l0 6.1M433 585.3l5.8 3.8M410.9 590l2.5 -1.3l0 4.8l-2.5 1.3ZM414.6 578.4l0 3.2M407.2 585l2.2 -1.1M411.5 589.3l4.6 3M432.5 581.5l3.9 -2M421.8 585.8l4.3 2.8M427.7 596.3l2.1 -1.1M430.7 596.4l2.8 1.8l0 1.7M450.3 586.5l0 6.5M443.9 588.4a2 2.5 0 1 0 4 0a2 2.5 0 1 0 -4 0ZM434.4 587.6l2 -1l0 3.9l-2 1ZM451.7 600l4.3 -2.2l3.4 2.2l-4.3 2.2ZM426.5 589.6l4.8 3.1M406.4 593l6 -3.1M410.3 597.5l2.5 -1.3l1.7 1.1l-2.5 1.3ZM419.1 595l5.1 -2.6M421.1 601.3l3.2 -1.7M436.3 583l5.7 -2.9M423.1 592.6l2.4 -1.2M421.5 600.4l6 -3.1M418 582.2l0 6.6M444.1 587.6l3 1.9M444.4 602.6l5.5 -2.8M418.1 593.2l3.3 -1.7l2.5 1.6l-3.3 1.7ZM442.2 578.5l0 2.9M439.2 584.7a1.9 2.7 0 1 0 3.9 0a1.9 2.7 0 1 0 -3.9 0ZM410.4 580.7l5.1 3.3M450 595.1l0 3.3M438.6 596.9l2.6 -1.3M417.8 586.6l2.8 -1.4l0 4.4l-2.8 1.4ZM447.6 580.2l2.1 1.3l0 2.2M414.3 600.2l4.1 2.6M446.3 597.9l0 2.3l0 3M407.5 599.7a2.1 2.2 0 1 0 4.2 0a2.1 2.2 0 1 0 -4.2 0Z" stroke="#000" stroke-width="1" fill="none"/><path d="M456.9 625l3.5 -1.8l0 4l-3.5 1.8ZM482.5 622.6l4.1 -2.1M455 603.9l4.2 2.7M446.6 602.9l0 6.1M476 639.3a1.2 1.7 0 1 0 2.5 0a1.2 1.7 0 1 0 -2.5 0ZM466.4 628.8l3.6 -1.8l3.9 2.5l-3.6 1.8ZM472.8 623.4l5 3.3M487.4 625.3l3 -1.5l0 4.2l-3 1.5ZM468.5 603.8l0 3.3M465.3 620.7l4.4 -2.2M469.1 618.5l2 1.3l0 1.6M473.4 639.5l3.5 2.2M482.4 600.1l5.2 3.4M472.8 596.6l0 6.4M478.3 599a1.4 1.8 0 1 0 2.8 0a1.4 1.8 0 1 0 -2.8 0ZM451.8 640.5l2.3 -1.2l3.2 2.1l-2.3 1.2ZM470.4 619.9l4.1 2.6M452 598.4a1.6 2.2 0 1 0 3.2 0a1.6 2.2 0 1 0 -3.2 0ZM453 611.2l4.4 -2.2l0 4.5l-4.4 2.2ZM473.1 616.4l0 2.6M458.7 602.5l4.3 -2.2l0 3.6l-4.3 2.2ZM481.8 589.9l4 -2M486.7 615.9l2.5 1.7M479.5 608.3l3.8 -1.9l0 2.8l-3.8 1.9ZM474.7 633.9l2.7 1.7M478.5 620l3.1 2M447.6 609.5l4.5 -2.3M446.2 629.8l0 7M462.4 591.3l2.4 -1.2M448.2 607.9l0 3.5M462.3 589.8l0 4.5M470.6 619.5l0 4.7M451.4 631.4l4.8 3.1M483.9 636.3l1.6 1l0 2.2M460.4 606.6a1.2 1.5 0 1 0 2.4 0a1.2 1.5 0 1 0 -2.4 0ZM474 638.5l0 3M462.5 590.9l2.3 -1.2M450.2 616.8a1.6 1.8 0 1 0 3.2 0a1.6 1.8 0 1 0 -3.2 0ZM486.4 604.1l5.9 -3M453 588.8l0 6.3M488 631.7l5.8 3.8M474.3 625.8l1.6 -0.8l0 2M487.8 613.4l3.8 -1.9M446.2 589.6l0 3.1M487.7 639.5l0 2.5l0 3M478 614.1l0 4.9M484.4 613a1.8 2.4 0 1 0 3.7 0a1.8 2.4 0 1 0 -3.7 0ZM447.2 636.9l2.4 1.6M450.3 619.8l0 4.9M476.4 591l1.9 -0.9l3 2l-1.9 0.9ZM478.6 624.8l2.3 1.5M448.3 615l0 2.1l0 1.5M449.9 605.1l3.6 2.3M477.9 606.4l4.1 -2.1M487.7 600.7l2.2 -1.1M482.4 638.3a2 2.5 0 1 0 4 0a2 2.5 0 1 0 -4 0ZM476.3 624l3.7 -1.9l2 1.3l-3.7 1.9ZM453.5 593.6l4.5 -2.3M466.1 629.9a1.4 1.9 0 1 0 2.8 0a1.4 1.9 0 1 0 -2.8 0ZM467 618.9l0 4.6M457.8 608.5l4.8 -2.5M461.8 592.2l0 3.5M485 589.4l2.9 -1.5l3.1 2l-2.9 1.5ZM477.5 592.3l4.2 -2.1M487.6 633.4l0 6.7M458.4 599l3 -1.5l0 2.5M486.1 617.9l2.2 -1.1l1.7 1.1l-2.2 1.1ZM475.3 590.7l5.8 3.8M453.5 629.6l5.3 -2.7M481.8 596.4l1.9 1.2M480.5 630l3.7 -1.9l0 3.3l-3.7 1.9ZM463.7 601.2l4.7 3M463.5 603.3l2 -1l0 4l-2 1ZM452.7 634.3l0 1.9l0 3M472.2 593.4l2.1 1.4M475.6 619.1l3.7 2.4M466.1 633.4l5.4 3.5M447.7 593.5a2 2.3 0 1 0 3.9 0a2 2.3 0 1 0 -3.9 0ZM463.7 595.5l2.3 1.5M460.6 611.1l0 3.8M477.6 628.3l2.3 1.5M453.1 611.1l3.5 2.3M451.2 610.2l4.5 -2.3M460.5 589.1a1.3 1.6 0 1 0 2.7 0a1.3 1.6 0 1 0 -2.7 0ZM458.1 618l4.8 3.1M448.1 612.9l4.7 3.1M477.2 636.1l1.9 -0.9l0 4.9l-1.9 0.9ZM447.9 602.7l0 3M484.1 609.6l3.8 -2l2.8 1.8l-3.8 2ZM469.8 591.1l4.8 3.1M469.7 610.8l1.7 1.1M468 625l2.2 1.4M486.3 592.6l2.6 1.7l0 1.6M468.5 625.2l5 3.3M472.8 600.9l0 5.5M469.5 599l0 6.1M454.5 627.5l2.4 -1.2M479.3 626.9l2 1.3M453.1 613.7l0 2M475.1 591.7a1 1.2 0 1 0 2 0a1 1.2 0 1 0 -2 0ZM462.3 625.7l5 -2.6M462 599.1l0 3.2l0 3M452 622l4.1 -2.1l0 4.5l-4.1 2.1ZM470.3 638.6l3.1 -1.6l0 3.3l-3.1 1.6ZM480.1 609.6l0 3.4M476.9 588.4a1.5 1.9 0 1 0 3 0a1.5 1.9 0 1 0 -3 0ZM479.9 598l0 6.8M469.5 620.7l2.5 1.6l0 1.5M478.8 619.3l6.2 -3.1M446.8 609.6l5.7 -2.9M464.6 591.8l3.4 -1.7l0 1.6M478.1 629.6l2.5 1.6l0 2.8M465.6 626.6l1.8 1.1M472 617.9l3.3 -1.7l0 2.6M482 635.2l2.2 -1.1l3.1 2l-2.2 1.1ZM449.1 619.5l3.8 -1.9l3.4 2.2l-3.8 1.9ZM480.3 614.8l3.3 2.1M448 604.5l0 1.5l0 1.6M467.9 613.6l2.2 1.4M471.9 624.5l0 2.1M451.1 605.8a1.9 2.4 0 1 0 3.7 0a1.9 2.4 0 1 0 -3.7 0ZM464 637.2l0 2.3M450.7 628.6a1.8 2 0 1 0 3.6 0a1.8 2 0 1 0 -3.6 0ZM482.4 615.8l3.2 -1.6M453.1 601.3l5.2 3.4M481.4 622.1l5.5 3.6M477.7 602l2.8 1.8l0 1.9M450.4 635.2l0 3.6M456.7 625.4l5.6 -2.9M451.1 636.3l2.3 -1.2" stroke="#000" stroke-width="1" fill="none"/><path d="M568.9 618.5l0 1.9l0 2.6M569.6 581.5l2.2 -1.1l0 2.6M558.1 597.1l5.6 3.7M564.1 631.9l2.5 -1.3M576.2 601.1l2.1 -1.1l0 1.7M576.6 566.8l5.6 3.6M567 631.7l0 6.1M584.8 563.2l5.8 -2.9M577.6 565.5l4.9 3.2M582.7 578.7l3.2 -1.6l0 3.1l-3.2 1.6ZM558.7 617.1l5.2 3.3M569.3 625.1l0 6.6M560.8 585.2l2.9 1.9l0 2M550 631.3l2.8 1.8M573.3 613l5.1 -2.6M576.6 595.9l2.9 -1.5l0 4.2l-2.9 1.5ZM586.4 603.3l6.2 -3.2M586.4 609.3l3.2 -1.6l0 2.3M579.2 626.4a1 1.3 0 1 0 1.9 0a1 1.3 0 1 0 -1.9 0ZM550 616a1.8 2 0 1 0 3.5 0a1.8 2 0 1 0 -3.5 0ZM551 568l2.4 -1.2l0 4.9l-2.4 1.2ZM571 618.1l0 4.9M581 577.6l3.5 2.3M586.7 614.6l0 6.1M586.8 603.9l2.4 1.6l0 2.1M583.7 585l3.4 -1.7l0 3.1l-3.4 1.7ZM587.9 614.8l0 4.2M551.7 569.4l5.4 3.5M570.1 574.5l2.3 1.5M570 593.7l6.2 -3.2M579.9 594.7a1.2 1.3 0 1 0 2.3 0a1.2 1.3 0 1 0 -2.3 0ZM568.7 611l0 5.6M558.1 576.3a1.9 2.5 0 1 0 3.8 0a1.9 2.5 0 1 0 -3.8 0ZM585.3 593.9a2.1 2.8 0 1 0 4.2 0a2.1 2.8 0 1 0 -4.2 0ZM549.2 590l5.1 -2.6M550.4 630.2l0 3.7M569.7 619.4l0 3.8l0 2.3M587.8 567.7l3.5 -1.8l0 4.6l-3.5 1.8ZM561 570.2l5.9 -3M580.9 593l4.8 -2.5M560.4 576l4 -2.1M586 602a1 1.2 0 1 0 2 0a1 1.2 0 1 0 -2 0ZM583.9 616.7l3.6 -1.8l0 2.4l-3.6 1.8ZM571.5 627.5l0 6.8M564.3 605.2l2.3 1.5M557.4 600.3l0 5.8M580 582.2l0 4.5M562.9 606.5l3.7 -1.9M583.6 588.5l0 2.4M561.6 615.5l5.1 -2.6M560.3 622.4l2.6 1.7l0 2.2M586 614.8l2.9 1.9l0 2.7M555.5 576.9a2 2.3 0 1 0 4 0a2 2.3 0 1 0 -4 0ZM558.8 567.5l2.5 1.6M560.6 564.5l2.7 -1.4l0 4l-2.7 1.4ZM564.2 604.7l4.2 -2.1l4 2.6l-4.2 2.1ZM578.1 576.9l0 5.7M574.3 575.7a2 2.1 0 1 0 4 0a2 2.1 0 1 0 -4 0ZM574.4 586.9l6 -3M567.4 592.9l2.4 -1.2l0 3.3l-2.4 1.2ZM563.8 610l0 6.3M575.7 578.7l3.2 -1.7l0 2.2M566.9 590.5l0 1.7l0 3M567.9 580.5l2.9 -1.5M549.4 570.7l5.8 -2.9M581.9 607.2l3.3 2.1M557.6 601.4a0.9 1.1 0 1 0 1.9 0a0.9 1.1 0 1 0 -1.9 0ZM569.4 626.3l2.6 -1.3l2.6 1.7l-2.6 1.3ZM567.3 576.9l3.4 -1.8M565.6 585a1.5 2.1 0 1 0 3.1 0a1.5 2.1 0 1 0 -3.1 0ZM548.3 618.6l5 3.2M582.1 570.1l1.9 -1l0 3.2l-1.9 1ZM552.4 614l4.2 -2.2M564.8 609.5a0.9 1.1 0 1 0 1.8 0a0.9 1.1 0 1 0 -1.8 0ZM578.9 571.8l2.9 1.9" stroke="#000" stroke-width="1" fill="none"/><path d="M481.1 674.5l2.5 1.6M466.9 663.3l2.1 -1.1l2.7 1.8l-2.1 1.1ZM491.6 676.7a2.1 2.1 0 1 0 4.1 0a2.1 2.1 0 1 0 -4.1 0ZM478.6 678.7l2.5 -1.3l0 2.1M483.5 675.3l4.4 -2.2M470.2 677.5l0 4.9M473.6 647l2.4 -1.2l3 2l-2.4 1.2ZM483.4 675.3l2.4 -1.2M473.2 664.1l0 6.5M476 662.9a1.5 1.8 0 1 0 3.1 0a1.5 1.8 0 1 0 -3.1 0ZM475.3 648.1l1.9 -1M468.2 645l4.3 -2.2l2.9 1.9l-4.3 2.2ZM471.3 652.9l0 3.5M481.1 642l5.7 3.7M470.1 660.4l0 5.3M452.7 659.2l2.3 -1.2M469.3 678.9a1.2 1.4 0 1 0 2.3 0a1.2 1.4 0 1 0 -2.3 0ZM494.9 675.7l2.3 1.5M489.8 667.3l5.6 3.6M476.5 665.9l1.9 -1l0 2M452.1 652.4a1 1.1 0 1 0 2 0a1 1.1 0 1 0 -2 0ZM472 662.1l2.9 1.9l0 2.3M482.8 672.5l4.5 2.9M464.3 662.2l0 6.7M489.5 649.8l4.1 -2.1M489.3 651.5l0 5.4M464.8 648.2a1.3 1.7 0 1 0 2.7 0a1.3 1.7 0 1 0 -2.7 0ZM479.3 669l1.8 1.2M467.6 653.9l4.7 3.1M453.9 651.5l3.5 -1.8M493.8 647.3l3.7 -1.9l0 3.5l-3.7 1.9ZM489.6 665.9l2.3 1.5M466 663.8l3 -1.5M458.4 652.7l2.1 -1.1l3.4 2.2l-2.1 1.1ZM465.4 657.8l5 3.2M481.1 651.4l2.6 1.7M471.2 653.4l2.1 -1.1l2.2 1.4l-2.1 1.1ZM454.7 645.5l0 3.8M493.4 642.2l2.6 1.7M463.9 650.7a1.4 1.5 0 1 0 2.9 0a1.4 1.5 0 1 0 -2.9 0ZM475 646.9l3.7 2.4M464 657.7l3.8 -1.9l0 4.5l-3.8 1.9ZM492.4 651.9l3.9 2.5M462.2 660.5a1.1 1.2 0 1 0 2.2 0a1.1 1.2 0 1 0 -2.2 0ZM485.2 651.8a1.5 1.9 0 1 0 3.1 0a1.5 1.9 0 1 0 -3.1 0ZM464.7 653.6a1.6 1.8 0 1 0 3.2 0a1.6 1.8 0 1 0 -3.2 0ZM456.2 642.1a1 1.2 0 1 0 2 0a1 1.2 0 1 0 -2 0ZM493.6 644.1l0 3.6M494.3 652.4l1.9 1.2M467.6 647.9l2.7 -1.4l3.5 2.3l-2.7 1.4ZM472.1 663.7l1.9 -1l0 2.5l-1.9 1ZM484.5 657l3.7 2.4M453.9 683.7a1.2 1.5 0 1 0 2.4 0a1.2 1.5 0 1 0 -2.4 0ZM459.6 647.3l3.9 2.5M485.9 648.3l3.7 2.4M490.9 658.3l3.9 2.5M466.9 648.3l4.4 2.9M491.9 679.9a1 1.1 0 1 0 1.9 0a1 1.1 0 1 0 -1.9 0ZM465.2 670.8l5.7 3.7M490.5 642.9l4.1 -2.1l0 3.9l-4.1 2.1ZM481 665.6l4 2.6M489 659.8a1.9 2.1 0 1 0 3.8 0a1.9 2.1 0 1 0 -3.8 0ZM472.8 677.1l5.6 3.6M458.4 670.9l2.8 -1.4M483.9 672.8a1.8 2.1 0 1 0 3.5 0a1.8 2.1 0 1 0 -3.5 0ZM467.9 644.8l1.9 -1l4.1 2.7l-1.9 1ZM488.8 681.2l0 4.4M470.8 680.9l0 6.2M465.2 661.5l5.6 3.6M491 669.5a1.6 1.7 0 1 0 3.2 0a1.6 1.7 0 1 0 -3.2 0ZM457.4 648.3a1.8 1.8 0 1 0 3.5 0a1.8 1.8 0 1 0 -3.5 0ZM464.6 643.3l0 6.7M479.5 663.4l0 5.9M455 673.3l2.2 -1.1l2.4 1.6l-2.2 1.1ZM491 682.2l0 4.5M459.8 655.5l2.9 -1.5l0 4.7l-2.9 1.5ZM479.3 681.3l4.3 -2.2l2.5 1.6l-4.3 2.2ZM453.5 645.9l2.8 -1.4l0 3.6l-2.8 1.4ZM486.2 681.8a1.2 1.7 0 1 0 2.5 0a1.2 1.7 0 1 0 -2.5 0ZM481 653.9l4 -2l0 4.4l-4 2Z" stroke="#000" stroke-width="1" fill="none"/><path d="M555.5 584.7l1.4 -0.7l0 2M522.8 569.3l3 -1.5l2.2 1.5l-3 1.5ZM527.3 560.6l3.8 2.4M501.2 576.3l2.7 -1.4M502.1 569.6l6.1 -3.1M521.8 579.8l2.9 1.9M557.3 574.9a1.1 1.3 0 1 0 2.3 0a1.1 1.3 0 1 0 -2.3 0ZM547.5 577.6l4.2 -2.1M540.4 573.5l2 -1l0 2.1l-2 1ZM515.2 574.9a1.3 1.5 0 1 0 2.7 0a1.3 1.5 0 1 0 -2.7 0ZM515.7 567.9a1.6 1.8 0 1 0 3.2 0a1.6 1.8 0 1 0 -3.2 0ZM506.4 580.4l2.4 -1.2l3 2l-2.4 1.2ZM555.1 575.4l2.3 -1.2l0 1.6M537.9 570.2l4.8 -2.5M558.4 580.9l3.2 2.1l0 2.2M504 560.4a1.5 1.6 0 1 0 3.1 0a1.5 1.6 0 1 0 -3.1 0ZM514.4 574.3a1.5 1.7 0 1 0 3 0a1.5 1.7 0 1 0 -3 0ZM505.5 574.5l2.5 -1.3l0 3.3l-2.5 1.3ZM554.1 571.6l0 6.1M553.7 577.9l5.7 3.7M553.9 579.4l0 4M546.3 574.5l0 2.5M537.9 568.6l2.4 -1.2l4.1 2.6l-2.4 1.2ZM504.7 574.6l5.7 -2.9M557.5 580.8l0 1.5l0 2.1M546 563.7a1.2 1.5 0 1 0 2.3 0a1.2 1.5 0 1 0 -2.3 0ZM510.4 571.7l3.7 -1.9M516.6 575.5l2.4 1.6l0 2.3M517.9 583.4l5.6 -2.9M529.9 580.2l2.6 -1.3l2.5 1.6l-2.6 1.3ZM521 567.9l0 1.9l0 1.6M551.2 577.4a2 2.5 0 1 0 4.1 0a2 2.5 0 1 0 -4.1 0ZM541.5 570l2.5 -1.3l0 1.7M527.8 563.1l1.8 -0.9l1.8 1.1l-1.8 0.9ZM545.3 562.9a1.6 1.9 0 1 0 3.3 0a1.6 1.9 0 1 0 -3.3 0ZM524.4 562.1l2.3 1.5M550.2 562.3l3.4 -1.7l2.6 1.7l-3.4 1.7ZM559.2 576.2l1.9 -1l0 2.4l-1.9 1ZM544.7 585.6l2.3 1.5M543.9 572.2l4 -2l0 3.8l-4 2ZM535.5 568.5l2.5 -1.3M512.9 585.1l1.7 1.1l0 2.4M556.3 577.2l5.1 -2.6M555.5 568.1l1.5 1l0 2.1M546.4 581.6l0 3.8" stroke="#000" stroke-width="1" fill="none"/><path d="M501.5 621.7a1.3 1.5 0 1 0 2.6 0a1.3 1.5 0 1 0 -2.6 0ZM497.3 623.6l3.2 -1.6l0 2.5M509.7 614.4l4 2.6M510.6 617.6l2.3 -1.2l0 2.1M509.4 627.8l3.4 2.2M493.4 633a2.1 2.6 0 1 0 4.3 0a2.1 2.6 0 1 0 -4.3 0ZM491.9 620.6l4.4 2.8M497.7 629.3a1 1.4 0 1 0 2.1 0a1 1.4 0 1 0 -2.1 0ZM497.9 615.9l0 6M502.9 616.6l3 -1.5l4 2.6l-3 1.5ZM504 621a1.8 2.5 0 1 0 3.6 0a1.8 2.5 0 1 0 -3.6 0ZM507.8 639l0 2.1M508.4 623.2l2.2 1.5M492.1 637.6l3 -1.5l0 2.6M496.3 612.2l4.3 -2.2l0 3.5l-4.3 2.2ZM488.2 616.9l2.1 -1.1M507.7 619.2l2.3 -1.2M490.4 612.9a2 2.2 0 1 0 4.1 0a2 2.2 0 1 0 -4.1 0ZM505.1 636.5l0 3.1M510.3 612l4.1 2.6M495.5 631.2a1 1.1 0 1 0 1.9 0a1 1.1 0 1 0 -1.9 0ZM495.9 636.8l2.2 1.4M488.5 623.5a0.9 1.1 0 1 0 1.9 0a0.9 1.1 0 1 0 -1.9 0ZM491.7 616.8l3.5 -1.8l4.2 2.7l-3.5 1.8ZM496.8 638.3l0 3.6l0 2.4M508.5 624.5a1.6 1.8 0 1 0 3.1 0a1.6 1.8 0 1 0 -3.1 0ZM492.7 638.7l4 2.6M514.2 625l5.9 -3M494.3 618.1l2.4 1.5M493.5 634.3l0 2M498 634.9l5.9 -3M494.8 627.2l0 3.5M503.6 632.6a2.2 2.2 0 1 0 4.3 0a2.2 2.2 0 1 0 -4.3 0ZM493 639.6a1.9 2.1 0 1 0 3.8 0a1.9 2.1 0 1 0 -3.8 0ZM491.5 619.7l0 3.4l0 2" stroke="#000" stroke-width="1" fill="none"/><path d="M438.9 587.3l3.5 -1.8l0 3.1l-3.5 1.8ZM433.5 588.6l4.3 -2.2l4.1 2.7l-4.3 2.2ZM427.7 591.6a2.1 2.1 0 1 0 4.1 0a2.1 2.1 0 1 0 -4.1 0ZM429.5 623.5l2.7 1.8l0 2.7M434.7 631.1l3.9 -2l0 3.9l-3.9 2ZM432.7 585l5.5 3.6M417.4 626.4l0 4.6M443.7 581.7l5.1 -2.6M425.9 598.2l3.5 -1.8l2.4 1.6l-3.5 1.8ZM440.1 618.5l4.3 2.8M430.4 588.4l3.5 -1.8l1.9 1.2l-3.5 1.8ZM437.7 607.3l2.1 -1.1M420.5 620.5l2.9 1.9M414.8 594.4a1.1 1.1 0 1 0 2.2 0a1.1 1.1 0 1 0 -2.2 0ZM420.8 626.4l1.7 1.1M424.7 625.1l3.6 -1.8M426.1 595.6l1.8 -0.9l0 1.9M430.4 625.1l2.9 1.9M435.9 647.7l5 -2.5M444.6 631.2l2.3 1.5l0 1.5M435.7 615.6l3.2 2.1M422.2 630.9l5.6 -2.8M432 585.5l4 2.6M420.8 643.6l3.5 -1.8l1.8 1.1l-3.5 1.8ZM420 583.5l3.4 -1.7l1.9 1.2l-3.4 1.7ZM440.9 594l2.2 -1.1l0 2.7l-2.2 1.1ZM426.2 586.1l2.9 1.9l0 1.9M422.7 581.4l1.7 1.1M440.9 606.4l3.6 -1.8l0 2.2l-3.6 1.8ZM425.3 611.5l2.9 -1.5l0 3.5l-2.9 1.5ZM424.4 593.2l3.8 -2M433.8 630.9l1.9 -1l0 2.2M428 643.2l4.4 -2.2M439.1 600.6l5.1 -2.6M448 652.1l2.2 1.5l0 1.6M416 639.8l2.7 1.8M423.9 653.5l2.8 -1.4M443.4 608.6l4 -2.1l3.2 2.1l-4 2.1ZM437.8 628.7l3.3 -1.7l0 4.2l-3.3 1.7ZM431.2 606a1.4 1.8 0 1 0 2.7 0a1.4 1.8 0 1 0 -2.7 0ZM419.1 613.9l0 6.3M429.2 603.1l4.8 -2.5M444.7 632.4l2.3 1.5M418.3 620l5.6 -2.8M418.1 604.7l1.4 0.9l0 2.4M423.3 659l2.8 -1.4l1.8 1.2l-2.8 1.4ZM434.3 641l2.9 -1.5l0 4.4l-2.9 1.5ZM431.3 607.6l2.8 1.8l0 2.7M442 648.7l2.5 1.6M433.8 618.3l0 3.4l0 2.3" stroke="#000" stroke-width="1" fill="none"/><circle cx="412.1" cy="586.7" r="1.2" fill="#000"/><circle cx="529.7" cy="588.3" r="0.9" fill="#000"/><circle cx="450.6" cy="625.5" r="0.9" fill="#000"/><circle cx="539.6" cy="619.7" r="0.9" fill="#000"/><circle cx="503.7" cy="606.9" r="1.2" fill="#000"/><circle cx="584.4" cy="585.6" r="0.8" fill="#000"/><circle cx="574.5" cy="604.2" r="1" fill="#000"/><circle cx="467.8" cy="601.9" r="1.8" fill="#000"/><circle cx="446.8" cy="593" r="1.4" fill="#000"/><circle cx="505.8" cy="637.2" r="1.6" fill="#000"/><circle cx="472.2" cy="592.2" r="1.6" fill="#000"/><circle cx="583.1" cy="581.8" r="1.5" fill="#000"/><circle cx="562" cy="619.1" r="1" fill="#000"/><circle cx="549.4" cy="623.8" r="1" fill="#000"/><circle cx="522.2" cy="593.2" r="0.8" fill="#000"/><circle cx="468.8" cy="600.1" r="1.2" fill="#000"/><circle cx="523.2" cy="630.2" r="1.8" fill="#000"/><circle cx="580.9" cy="639.6" r="1.6" fill="#000"/><circle cx="463.6" cy="590.6" r="1.4" fill="#000"/><circle cx="505.5" cy="620.5" r="0.9" fill="#000"/><circle cx="443.7" cy="635.3" r="1.4" fill="#000"/><circle cx="531.7" cy="585.7" r="1.2" fill="#000"/><circle cx="569.3" cy="619" r="1.8" fill="#000"/><circle cx="444.5" cy="607.3" r="1.6" fill="#000"/><circle cx="487.8" cy="627.3" r="1.4" fill="#000"/><circle cx="430.7" cy="585.9" r="1.8" fill="#000"/><circle cx="430.9" cy="591.6" r="1.1" fill="#000"/><circle cx="534.9" cy="631.2" r="1.3" fill="#000"/><circle cx="497.2" cy="627.3" r="1.1" fill="#000"/><circle cx="475.2" cy="616.8" r="1.4" fill="#000"/><circle cx="416.7" cy="586.7" r="0.9" fill="#000"/><circle cx="536.9" cy="621.6" r="1.8" fill="#000"/><circle cx="544.3" cy="595.3" r="1.6" fill="#000"/><circle cx="582.4" cy="600.9" r="0.8" fill="#000"/><circle cx="475.7" cy="597" r="1" fill="#000"/></g><path d="M424.5 545.6 L427.6 537.7 L518.3 485.2 L528.8 484.2 L534.1 485.2 L545.9 493.1 L555.7 500.3 L558.3 505.5 L559 510.8" fill="none" stroke="#000" stroke-width="1.3"/><path d="M424.5 545.6 L448.6 561.4 L555.7 503.6" fill="none" stroke="#000" stroke-width="1.1"/><path d="M450.5 564.5L553.7 507.5" stroke="#000" stroke-width="1" fill="none"/><path d="M452 569L556 514" stroke="#000" stroke-width="0.9" fill="none" stroke-dasharray="1.5 1"/><clipPath id="ch8"><path d="M428.5 538.5 L510.9 491 L512 494 L508.7 502.2 L488.8 535.4 L482.1 528.8 L446.6 548.8 L440.7 550.5 L429 541Z"/></clipPath><path clip-path="url(#ch8)" d="M396.7 499.2L489.3 446.5M397.7 500.8L490.3 448.2M398.6 502.5L491.2 449.8M399.5 504.1L492.2 451.5M400.5 505.8L493.1 453.1M401.4 507.4L494 454.8M402.4 509.1L495 456.4M403.3 510.7L495.9 458.1M404.2 512.4L496.9 459.7M405.2 514L497.8 461.4M406.1 515.7L498.7 463.1M407 517.3L499.7 464.7M408 519L500.6 466.4M408.9 520.6L501.5 468M409.9 522.3L502.5 469.7M410.8 523.9L503.4 471.3M411.7 525.6L504.4 473M412.7 527.2L505.3 474.6M413.6 528.9L506.2 476.3M414.6 530.5L507.2 477.9M415.5 532.2L508.1 479.6M416.4 533.8L509.1 481.2M417.4 535.5L510 482.9M418.3 537.1L510.9 484.5M419.2 538.8L511.9 486.2M420.2 540.5L512.8 487.8M421.1 542.1L513.7 489.5M422.1 543.8L514.7 491.1M423 545.4L515.6 492.8M423.9 547.1L516.6 494.4M424.9 548.7L517.5 496.1M425.8 550.4L518.4 497.7M426.8 552L519.4 499.4M427.7 553.7L520.3 501M428.6 555.3L521.3 502.7M429.6 557L522.2 504.4M430.5 558.6L523.1 506M431.4 560.3L524.1 507.7M432.4 561.9L525 509.3M433.3 563.6L525.9 511M434.3 565.2L526.9 512.6M435.2 566.9L527.8 514.3M436.1 568.5L528.8 515.9M437.1 570.2L529.7 517.6M438 571.8L530.6 519.2M439 573.5L531.6 520.9M439.9 575.1L532.5 522.5M440.8 576.8L533.5 524.2M441.8 578.4L534.4 525.8M442.7 580.1L535.3 527.5M443.6 581.8L536.3 529.1M444.6 583.4L537.2 530.8M445.5 585.1L538.1 532.4M446.5 586.7L539.1 534.1M447.4 588.4L540 535.7M448.3 590L541 537.4M449.3 591.7L541.9 539M450.2 593.3L542.8 540.7M451.2 595L543.8 542.3" stroke="#000" stroke-width="0.95" fill="none" stroke-dasharray="1.3 0.8"/><path d="M510.5 495L488.8 535.4" stroke="#000" stroke-width="1" fill="none"/><path d="M446.6 548.8 L482.1 528.8 L489.9 536.6 L454.4 556.5 L446.6 548.8" fill="none" stroke="#000" stroke-width="1"/><path d="M489.9 536.6 L508.7 502.2 L527.6 515.5 L495.4 534.3" fill="none" stroke="#000" stroke-width="0.9"/><path d="M507.2 502.2L526.9 515.7" stroke="#000" stroke-width="1" fill="none"/><ellipse cx="526.3" cy="500.6" rx="12.4" ry="8" fill="#fff" stroke="#000" stroke-width="1.1" transform="rotate(-8 526.3 500.6)"/><ellipse cx="526.7" cy="499" rx="5.5" ry="6.7" fill="#fff" stroke="#000" stroke-width="1.8"/><path d="M524.3 496.5L524.3 503.5" stroke="#000" stroke-width="0.9" fill="none"/><path d="M525.9 496.5L525.9 503.5" stroke="#000" stroke-width="0.9" fill="none"/><path d="M527.5 496.5L527.5 503.5" stroke="#000" stroke-width="0.9" fill="none"/><path d="M529.1 496.5L529.1 503.5" stroke="#000" stroke-width="0.9" fill="none"/><path d="M522 495.5L531.5 495.5" stroke="#000" stroke-width="1.4" fill="none"/><path d="M427.6 537.7 L423.2 543.9 L418.8 551.3 L417 555.7 L416.6 564.5 L415.2 570.7 L413.9 576" fill="none" stroke="#000" stroke-width="1.3"/><path d="M420.5 563.5L424 559" stroke="#000" stroke-width="0.9" fill="none"/><path d="M417 568L422 573" stroke="#000" stroke-width="0.9" fill="none"/><path d="M419 573 L424 570 L427 576 L423 582 L418 580Z" fill="none" stroke="#000" stroke-width="1"/><path d="M559 510.8 L560.7 515.4 L569.9 521.5 L573 530.7 L574.5 539.9 L574.5 552.2 L568.4 555.3" fill="none" stroke="#000" stroke-width="1.2"/><path d="M557.6 500 L559.2 512.3" fill="none" stroke="#000" stroke-width="1"/><path d="M563 522L564 552" stroke="#000" stroke-width="1" fill="none"/><path d="M567 524L568 552" stroke="#000" stroke-width="1" fill="none"/><circle cx="565" cy="520" r="1.3" fill="#000"/><circle cx="569" cy="527" r="1.3" fill="#000"/><circle cx="571" cy="534" r="1.3" fill="#000"/><circle cx="572" cy="541" r="1.3" fill="#000"/><circle cx="570" cy="548" r="1.3" fill="#000"/><circle cx="565" cy="536" r="1.3" fill="#000"/><circle cx="566" cy="545" r="1.3" fill="#000"/><path d="M452.3 563.4L553.7 510" stroke="#000" stroke-width="1" fill="none"/><path d="M461 582.7L556 533" stroke="#000" stroke-width="0.9" fill="none"/><path d="M461 586.2L556 538.5" stroke="#000" stroke-width="0.9" fill="none"/><path d="M475.1 589.7L540 557" stroke="#000" stroke-width="0.9" fill="none"/><path d="M470 597L505 580" stroke="#000" stroke-width="0.9" fill="none" stroke-dasharray="1.5 1"/><path d="M445 601L470 589" stroke="#000" stroke-width="0.9" fill="none"/><path d="M430 596L452 585" stroke="#000" stroke-width="0.9" fill="none"/><path d="M453 612L503 588" stroke="#000" stroke-width="0.9" fill="none"/><path d="M470 620L502 606" stroke="#000" stroke-width="0.9" fill="none"/><path d="M429.2 582V568.2Q431.5 564 433.8 568.2V582" fill="#fff" stroke="#000" stroke-width="1"/><rect x="429.2" y="574" width="4.6" height="2.9" fill="#000"/><rect x="430.4" y="574.8" width="2.2" height="1.3" fill="#fff"/><path d="M430.5 582L430.5 584.5" stroke="#000" stroke-width="0.9" fill="none"/><path d="M432.5 582L432.5 584.5" stroke="#000" stroke-width="0.9" fill="none"/><path d="M441.9 594V580.2Q444.2 576 446.5 580.2V594" fill="#fff" stroke="#000" stroke-width="1"/><rect x="441.9" y="586" width="4.6" height="2.9" fill="#000"/><rect x="443.1" y="586.8" width="2.2" height="1.3" fill="#fff"/><path d="M443.2 594L443.2 596.5" stroke="#000" stroke-width="0.9" fill="none"/><path d="M445.2 594L445.2 596.5" stroke="#000" stroke-width="0.9" fill="none"/><path d="M454.4 587.3V573.5Q456.7 569.3 459 573.5V587.3" fill="#fff" stroke="#000" stroke-width="1"/><rect x="454.4" y="579.3" width="4.6" height="2.9" fill="#000"/><rect x="455.6" y="580.1" width="2.2" height="1.3" fill="#fff"/><path d="M455.7 587.3L455.7 589.8" stroke="#000" stroke-width="0.9" fill="none"/><path d="M457.7 587.3L457.7 589.8" stroke="#000" stroke-width="0.9" fill="none"/><path d="M471.1 576.7V562.9Q473.4 558.7 475.7 562.9V576.7" fill="#fff" stroke="#000" stroke-width="1"/><rect x="471.1" y="568.7" width="4.6" height="2.9" fill="#000"/><rect x="472.3" y="569.5" width="2.2" height="1.3" fill="#fff"/><path d="M472.4 576.7L472.4 579.2" stroke="#000" stroke-width="0.9" fill="none"/><path d="M474.4 576.7L474.4 579.2" stroke="#000" stroke-width="0.9" fill="none"/><path d="M486.9 568.4V554.6Q489.2 550.4 491.5 554.6V568.4" fill="#fff" stroke="#000" stroke-width="1"/><rect x="486.9" y="560.4" width="4.6" height="2.9" fill="#000"/><rect x="488.1" y="561.2" width="2.2" height="1.3" fill="#fff"/><path d="M488.2 568.4L488.2 570.9" stroke="#000" stroke-width="0.9" fill="none"/><path d="M490.2 568.4L490.2 570.9" stroke="#000" stroke-width="0.9" fill="none"/><path d="M504.4 559.2V545.4Q506.7 541.2 509 545.4V559.2" fill="#fff" stroke="#000" stroke-width="1"/><rect x="504.4" y="551.2" width="4.6" height="2.9" fill="#000"/><rect x="505.6" y="552" width="2.2" height="1.3" fill="#fff"/><path d="M505.7 559.2L505.7 561.7" stroke="#000" stroke-width="0.9" fill="none"/><path d="M507.7 559.2L507.7 561.7" stroke="#000" stroke-width="0.9" fill="none"/><path d="M520.7 549.5V535.7Q523 531.5 525.3 535.7V549.5" fill="#fff" stroke="#000" stroke-width="1"/><rect x="520.7" y="541.5" width="4.6" height="2.9" fill="#000"/><rect x="521.9" y="542.3" width="2.2" height="1.3" fill="#fff"/><path d="M522 549.5L522 552" stroke="#000" stroke-width="0.9" fill="none"/><path d="M524 549.5L524 552" stroke="#000" stroke-width="0.9" fill="none"/><path d="M536.7 541V527.2Q539 523 541.3 527.2V541" fill="#fff" stroke="#000" stroke-width="1"/><rect x="536.7" y="533" width="4.6" height="2.9" fill="#000"/><rect x="537.9" y="533.8" width="2.2" height="1.3" fill="#fff"/><path d="M538 541L538 543.5" stroke="#000" stroke-width="0.9" fill="none"/><path d="M540 541L540 543.5" stroke="#000" stroke-width="0.9" fill="none"/><path d="M552.7 531V517.2Q555 513 557.3 517.2V531" fill="#fff" stroke="#000" stroke-width="1"/><rect x="552.7" y="523" width="4.6" height="2.9" fill="#000"/><rect x="553.9" y="523.8" width="2.2" height="1.3" fill="#fff"/><path d="M554 531L554 533.5" stroke="#000" stroke-width="0.9" fill="none"/><path d="M556 531L556 533.5" stroke="#000" stroke-width="0.9" fill="none"/><path d="M484 594L484 610" stroke="#000" stroke-width="1" fill="none"/><path d="M488 592.2L488 608.2" stroke="#000" stroke-width="1" fill="none"/><path d="M492 590.4L492 606.4" stroke="#000" stroke-width="1" fill="none"/><path d="M496 588.6L496 604.6" stroke="#000" stroke-width="1" fill="none"/><path d="M500 586.8L500 602.8" stroke="#000" stroke-width="1" fill="none"/><path d="M482 597L503 588" stroke="#000" stroke-width="0.9" fill="none"/><path d="M482 603L503 594" stroke="#000" stroke-width="0.9" fill="none"/><path d="M482 609L503 600" stroke="#000" stroke-width="0.9" fill="none"/><path d="M489.5 582 L500 577.5 L504 588.5 L494 593Z" fill="#fff" stroke="#000" stroke-width="1"/><ellipse cx="491.5" cy="587.5" rx="3" ry="5.5" fill="#fff" stroke="#000" stroke-width="1" transform="rotate(-25 491.5 587.5)"/><path d="M493 580.5L497 591.5" stroke="#000" stroke-width="1.3" fill="none"/><path d="M495 579.7L499 590.7" stroke="#000" stroke-width="1.3" fill="none"/><path d="M497 578.9L501 589.9" stroke="#000" stroke-width="1.3" fill="none"/><path d="M499 578.1L503 589.1" stroke="#000" stroke-width="1.3" fill="none"/><ellipse cx="502" cy="583" rx="3.2" ry="5.6" fill="#fff" stroke="#000" stroke-width="1.2" transform="rotate(-25 502 583)"/><ellipse cx="517.8" cy="589.5" rx="14.5" ry="14.5" fill="#fff" stroke="none" stroke-width="0"/><path d="M518 612 L523.4 612.7 L536 600 L540 598 L544 606 L548 620 L546 634 L543 645 L530 637 L519 624Z" fill="#fff" stroke="none" stroke-width="0"/><path d="M540 598 L553 577 L558 585 L560 598 L556 612 L548 620Z" fill="#fff" stroke="none" stroke-width="0"/><path d="M515.3 603.8 L513.8 603.4 L512.3 602.9 L510.9 602.3 L509.6 601.5 L508.4 600.5 L507.3 599.5 L506.3 598.3 L505.4 597 L504.7 595.6 L504.1 594.2 L503.7 592.7 L503.4 591.2 L503.3 589.6 L503.4 588.1 L503.6 586.6 L504 585.1 L504.5 583.6 L505.2 582.2 L506.1 581 L507.1 579.8 L508.2 578.7 L509.4 577.7 L510.7 576.9 L512.1 576.2 L513.5 575.7 L515 575.3 L516.5 575.1 L518.1 575 L519.6 575.1 L521.1 575.4 L522.6 575.8 L524.1 576.4 L525.4 577.2 L526.7 578 L527.9 579.1 L528.9 580.2 L529.8 581.4 L530.6 582.7 L531.3 584.1 L531.8 585.6 L532.1 587.1 L532.3 588.7 L532.3 590.2 L532.1 591.7 L531.8 593.3" fill="none" stroke="#000" stroke-width="1.2"/><path d="M507.8 595.2 L507.3 594.2 L506.9 593.1 L506.6 591.9 L506.4 590.7 L506.3 589.5 L506.4 588.3 L506.6 587.1 L506.9 585.9 L507.3 584.8 L507.8 583.8 L508.5 582.7 L509.3 581.8 L510.1 581 L511 580.2 L512 579.5 L513.1 579 L514.2 578.6 L515.4 578.3 L516.6 578.1 L517.8 578 L519 578.1 L520.2 578.3 L521.4 578.6 L522.5 579 L523.5 579.5 L524.6 580.2 L525.5 581 L526.3 581.8 L527.1 582.7 L527.8 583.8" fill="none" stroke="#000" stroke-width="0.9" stroke-dasharray="1.5 1"/><path d="M532.1 591.6 L553.2 574.9" fill="none" stroke="#000" stroke-width="1"/><path d="M534 596 L556 578" fill="none" stroke="#000" stroke-width="1"/><path d="M538.7 578.5 L540.1 577.8 L541.6 577.2 L543.2 576.8 L544.8 576.6 L546.4 576.5 L548 576.6 L549.5 576.9 L551.1 577.3 L552.6 577.9 L554 578.7 L555.3 579.6 L556.5 580.6 L557.6 581.8 L558.6 583.1 L559.4 584.4 L560.1 585.9 L560.6 587.4 L561 589 L561.2 590.6 L561.2 592.2 L561 593.8 L560.7 595.3 L560.2 596.9 L559.6 598.3 L558.7 599.7 L557.8 601 L556.7 602.2 L555.5 603.3 L554.2 604.2 L552.8 605 L551.3 605.6" fill="none" stroke="#000" stroke-width="1.1"/><path d="M544 579.2 L545.4 579 L546.7 579 L548 579.1 L549.4 579.4 L550.6 579.8 L551.9 580.4 L553 581 L554.1 581.8 L555.1 582.7 L556 583.7 L556.8 584.8 L557.4 586 L557.9 587.2 L558.3 588.5 L558.6 589.8 L558.7 591.2 L558.7 592.5 L558.5 593.8 L558.2 595.1 L557.7 596.4 L557.1 597.6 L556.4 598.7 L555.6 599.8 L554.6 600.7 L553.6 601.6 L552.5 602.3" fill="none" stroke="#000" stroke-width="0.9" stroke-dasharray="1.5 1"/><path d="M554.7 576.8 L556.3 577.8 L557.7 579 L559 580.3 L560.1 581.7 L561.1 583.3 L561.9 585 L562.5 586.7 L562.9 588.5 L563.2 590.4 L563.2 592.2 L563 594.1 L562.6 595.9 L562 597.7 L561.3 599.3 L560.3 600.9 L559.2 602.4" fill="none" stroke="#000" stroke-width="2.2" stroke-dasharray="1 0.8"/><ellipse cx="514.8" cy="601.3" rx="6.6" ry="8.8" fill="#fff" stroke="#000" stroke-width="2" transform="rotate(-12 514.8 601.3)"/><ellipse cx="515" cy="601.8" rx="4.4" ry="6.3" fill="#fff" stroke="#000" stroke-width="1" transform="rotate(-12 515 601.8)"/><ellipse cx="527.3" cy="601.3" rx="6.6" ry="8.3" fill="#fff" stroke="#000" stroke-width="2" transform="rotate(-20 527.3 601.3)"/><ellipse cx="527.6" cy="601.8" rx="4.4" ry="6" fill="#fff" stroke="#000" stroke-width="1" transform="rotate(-20 527.6 601.8)"/><path d="M511 595 L515 591 L521 593" fill="none" stroke="#000" stroke-width="1.2"/><path d="M520.5 611 C520.6 612.5 521 616.8 521.3 620 C521.6 623.2 521 628 522.2 630.2 C523.4 632.5 526 633.5 528.4 633.5 C530.8 633.5 534.7 632.4 536.3 630.5 C537.9 628.6 537.8 625.2 538 622 C538.2 618.8 537.6 612.8 537.5 611" fill="none" stroke="#000" stroke-width="1.1"/><path d="M527.5 610 C527.6 611.7 528.1 616.5 528.3 620 C528.5 623.5 528.7 629.2 528.8 631" fill="none" stroke="#000" stroke-width="0.9" stroke-dasharray="1.5 1"/><path d="M540 598 C540.3 600.3 541.8 607 542 612 C542.2 617 542 623.3 541.5 628 C541 632.7 539.1 636.7 539 640 C538.9 643.3 540.7 646.7 541 648" fill="none" stroke="#000" stroke-width="1"/><path d="M547.7 583.7 C548.1 584.8 549.5 587.8 550 590 C550.5 592.2 551.2 594.3 551 597 C550.8 599.7 549.3 604.5 549 606" fill="none" stroke="#000" stroke-width="1.3" stroke-dasharray="1.4 0.9"/><path d="M551.5 582.5 C551.9 583.8 553.5 587.4 554 590 C554.5 592.6 554.8 595.3 554.5 598 C554.2 600.7 552.8 604.7 552.5 606" fill="none" stroke="#000" stroke-width="1.3" stroke-dasharray="1.4 0.9"/><path d="M543 606 C544.2 607 548.3 609.7 550 612 C551.7 614.3 553.3 616.7 553 620 C552.7 623.3 548.8 630 548 632" fill="none" stroke="#000" stroke-width="1"/><path d="M568.4 556.8 C570.5 558.8 577.4 564.8 580.7 569.1 C584 573.5 586.5 578.5 588.3 582.9 C590.1 587.2 590.6 591.1 591.4 595.2 C592.2 599.3 592.9 603.4 592.9 607.5 C592.9 611.6 592.7 615.9 591.4 619.7 C590.1 623.5 587.9 627.7 585.3 630.5 C582.7 633.3 580.1 635.1 576 636.6 C571.9 638.1 563.2 639.3 560.7 639.8" fill="none" stroke="#000" stroke-width="1.2"/><path d="M567 559.5 C568.9 561.4 575.4 566.9 578.5 571 C581.6 575.1 583.8 579.8 585.5 584 C587.2 588.2 587.8 592.1 588.5 596 C589.2 599.9 590 603.8 590 607.5 C590 611.2 589.7 615.1 588.5 618.5 C587.3 621.9 585.3 625.5 583 628 C580.7 630.5 578.3 632 574.5 633.5 C570.7 635 562.4 636.4 560 637" fill="none" stroke="#000" stroke-width="1"/><path d="M565 563 C566.7 564.7 572.2 569.3 575 573 C577.8 576.7 579.9 581.2 581.5 585 C583.1 588.8 584 594.2 584.5 596" fill="none" stroke="#000" stroke-width="1" stroke-dasharray="1.5 1.2"/><path d="M560 566L575 620" stroke="#000" stroke-width="1.2" fill="none" stroke-dasharray="1.4 1"/><path d="M556 592L591 596" stroke="#000" stroke-width="1" fill="none"/><path d="M555 600L592 606" stroke="#000" stroke-width="0.9" fill="none"/><path d="M447 682.9 C447.7 684.6 448.4 689.9 451 693.4 C453.6 696.9 458.9 701.1 462.8 703.9 C466.7 706.7 471.3 709.1 474.6 710.4 C477.9 711.7 480.2 711.7 482.4 711.7 C484.6 711.7 483.3 712.4 487.7 710.4 C492.1 708.4 501.6 703.8 508.6 699.9 C515.6 696 524.8 690.1 529.6 686.8 C534.4 683.5 535.5 682.7 537.5 680.3 C539.5 677.9 540.5 675.9 541.4 672.4 C542.3 668.9 542.7 662.6 542.7 659.3 C542.7 656 541.6 653.9 541.4 652.8" fill="none" stroke="#000" stroke-width="1.1"/><path d="M449 682 L460 685.5 L479.8 681.6 L508.6 672.4 L534.8 656.7 L541 652" fill="none" stroke="#000" stroke-width="1"/><path d="M477.8 684.2L479.1 705.2" stroke="#000" stroke-width="0.9" fill="none"/><path d="M482.4 683.6L483.7 705.2" stroke="#000" stroke-width="0.9" fill="none"/><ellipse cx="513.9" cy="696" rx="2.4" ry="2.6" fill="#fff" stroke="#000" stroke-width="1.2"/><path d="M512 692L515 700" stroke="#000" stroke-width="1" fill="none"/><ellipse cx="499.5" cy="668.5" rx="7.6" ry="9" fill="#fff" stroke="#000" stroke-width="2.6" transform="rotate(-25 499.5 668.5)"/><ellipse cx="499.8" cy="668.8" rx="5.8" ry="7.2" fill="#fff" stroke="#000" stroke-width="0.9" transform="rotate(-25 499.8 668.8)"/><ellipse cx="503.4" cy="641" rx="9" ry="5" fill="#fff" stroke="#000" stroke-width="1.1" transform="rotate(-15 503.4 641)"/><ellipse cx="503.4" cy="640" rx="6" ry="3.4" fill="none" stroke="#000" stroke-width="1" transform="rotate(-15 503.4 640)"/><ellipse cx="501" cy="637" rx="3" ry="2" fill="#000" stroke="#000" stroke-width="1" transform="rotate(-40 501 637)"/><path d="M494.4 641 L494.4 652 L512 652 L512.4 641" fill="none" stroke="#000" stroke-width="0.9"/><path d="M476 674L489 668" stroke="#000" stroke-width="0.9" fill="none"/><path d="M474 678L488 672" stroke="#000" stroke-width="2" fill="none" stroke-dasharray="1 0.8"/><path d="M478 660L478 672" stroke="#000" stroke-width="1" fill="none"/><path d="M480.5 660L480.5 672" stroke="#000" stroke-width="1" fill="none"/><path d="M483 660L483 672" stroke="#000" stroke-width="1" fill="none"/><path d="M485.5 660L485.5 672" stroke="#000" stroke-width="1" fill="none"/><path d="M399.4 592.7 L406.4 588.3 L410.8 590.5 L417 587.8 L424 588" fill="none" stroke="#000" stroke-width="1.1"/><path d="M400 591.4 L398.6 598.5 L397.8 610 L398.6 618.4 L400 630 L404 640" fill="none" stroke="#000" stroke-width="1.2"/><path d="M401.6 603.3L431.2 640.6" stroke="#000" stroke-width="1.2" fill="none"/><path d="M398.3 613.2L425.7 646.1" stroke="#000" stroke-width="1.2" fill="none"/><clipPath id="ch9"><path d="M401.6 604 L430.5 640.6 L426 645 L399 612Z"/></clipPath><path clip-path="url(#ch9)" d="M418.7 584.8L454.5 627.5M417.5 585.8L453.3 628.5M416.4 586.8L452.2 629.4M415.2 587.7L451 630.4M414.1 588.7L449.9 631.4M412.9 589.7L448.7 632.3M411.8 590.6L447.6 633.3M410.6 591.6L446.4 634.3M409.5 592.6L445.3 635.2M408.3 593.5L444.1 636.2M407.2 594.5L443 637.2M406 595.5L441.8 638.1M404.9 596.4L440.7 639.1M403.7 597.4L439.5 640.1M402.6 598.3L438.4 641M401.4 599.3L437.2 642M400.3 600.3L436.1 642.9M399.1 601.2L435 643.9M398 602.2L433.8 644.9M396.8 603.2L432.7 645.8M395.7 604.1L431.5 646.8M394.5 605.1L430.4 647.8M393.4 606.1L429.2 648.7M392.3 607L428.1 649.7M391.1 608L426.9 650.7M390 608.9L425.8 651.6M388.8 609.9L424.6 652.6M387.7 610.9L423.5 653.5M386.5 611.8L422.3 654.5M385.4 612.8L421.2 655.5M384.2 613.8L420 656.4M383.1 614.7L418.9 657.4M381.9 615.7L417.7 658.4M380.8 616.7L416.6 659.3M379.6 617.6L415.4 660.3M378.5 618.6L414.3 661.3M377.3 619.6L413.1 662.2M376.2 620.5L412 663.2M375 621.5L410.8 664.2" stroke="#000" stroke-width="0.9" fill="none"/><path d="M405 596L435 620" stroke="#000" stroke-width="1" fill="none"/><path d="M410 592L440 616" stroke="#000" stroke-width="1" fill="none"/><ellipse cx="402.1" cy="611" rx="3.2" ry="3.8" fill="#fff" stroke="#000" stroke-width="2.2" transform="rotate(-20 402.1 611)"/><path d="M400.5 628 L405 624.5 L425 642 L424 648 L418 648.5 L401 636Z" fill="#000" stroke="#000" stroke-width="1"/><ellipse cx="404.5" cy="631" rx="1.6" ry="1.6" fill="#fff" stroke="none" stroke-width="0"/><ellipse cx="410" cy="637" rx="1.6" ry="1.6" fill="#fff" stroke="none" stroke-width="0"/><ellipse cx="414.5" cy="642" rx="1.3" ry="1.3" fill="#fff" stroke="none" stroke-width="0"/><path d="M446 638.7 L445.8 638.4 L445.6 638.1 L445.4 637.8 L445.2 637.5 L445.1 637.1 L444.9 636.8 L444.9 636.4 L444.8 636 L444.8 635.7 L444.8 635.3 L444.9 635 L445 634.6 L445.1 634.3 L445.2 634 L445.4 633.8 L445.6 633.5 L445.8 633.3 L446.1 633.1 L446.3 633 L446.6 632.9 L446.9 632.8 L447.2 632.8 L447.5 632.8 L447.8 632.8 L448.1 632.9 L448.4 633 L448.7 633.2 L449 633.4 L449.2 633.6 L449.5 633.9 L449.7 634.1 L449.9 634.4 L450.1 634.8 L450.3 635.1 L450.4 635.4 L450.5 635.8 L450.6 636.2 L450.6 636.5 L450.6 636.9 L450.6 637.2 L450.5 637.6" fill="none" stroke="#000" stroke-width="2.4"/><path d="M444.8 640.4 L444.4 640 L444 639.5 L443.7 639 L443.4 638.4 L443.2 637.8 L443 637.2 L442.8 636.6 L442.8 635.9 L442.7 635.3 L442.8 634.7 L442.9 634.1 L443 633.5 L443.2 633 L443.4 632.5 L443.7 632 L444.1 631.6 L444.5 631.3 L444.9 630.9 L445.3 630.7 L445.8 630.5 L446.3 630.4 L446.8 630.3 L447.3 630.3 L447.9 630.4 L448.4 630.6 L448.9 630.8 L449.4 631 L449.9 631.4 L450.4 631.7 L450.8 632.2 L451.2 632.6 L451.5 633.2 L451.8 633.7 L452.1 634.3 L452.3 634.9 L452.5 635.5 L452.6 636.1 L452.6 636.8 L452.6 637.4 L452.6 638 L452.5 638.6" fill="none" stroke="#000" stroke-width="1.4"/><path d="M443.6 642.2 L443 641.6 L442.5 640.9 L442 640.1 L441.6 639.3 L441.3 638.5 L441 637.6 L440.8 636.7 L440.7 635.8 L440.7 634.9 L440.7 634.1 L440.8 633.2 L441.1 632.4 L441.3 631.7 L441.7 630.9 L442.1 630.3 L442.6 629.7 L443.1 629.2 L443.7 628.8 L444.3 628.4 L445 628.1 L445.7 628 L446.4 627.9 L447.2 627.9 L447.9 628 L448.7 628.2 L449.4 628.5 L450.1 628.9 L450.8 629.3 L451.5 629.9 L452.1 630.5 L452.6 631.2 L453.1 631.9 L453.6 632.7 L453.9 633.5 L454.3 634.4 L454.5 635.2 L454.6 636.1 L454.7 637 L454.7 637.9 L454.6 638.7 L454.5 639.6" fill="none" stroke="#000" stroke-width="2.4"/><path d="M442.4 644 L441.7 643.1 L441 642.2 L440.4 641.2 L439.8 640.2 L439.4 639.1 L439.1 638 L438.8 636.9 L438.7 635.7 L438.6 634.6 L438.7 633.5 L438.8 632.4 L439.1 631.3 L439.5 630.3 L439.9 629.4 L440.4 628.6 L441.1 627.8 L441.8 627.1 L442.5 626.6 L443.3 626.1 L444.2 625.8 L445.1 625.5 L446.1 625.4 L447 625.5 L448 625.6 L449 625.9 L449.9 626.2 L450.8 626.7 L451.7 627.3 L452.6 628 L453.4 628.8 L454.1 629.7 L454.7 630.6 L455.3 631.6 L455.8 632.7 L456.2 633.8 L456.5 634.9 L456.7 636.1 L456.8 637.2 L456.8 638.4 L456.7 639.5 L456.5 640.5" fill="none" stroke="#000" stroke-width="1"/><clipPath id="ch10"><path d="M425.7 645 L436 643.9 L447.7 652 L447 666 L438 668 L428 656Z"/></clipPath><path clip-path="url(#ch10)" d="M444.4 630.3L462.7 662.1M443.3 631L461.6 662.7M442.2 631.6L460.5 663.4M441.1 632.3L459.4 664M439.9 632.9L458.2 664.7M438.8 633.6L457.1 665.3M437.7 634.2L456 666M436.5 634.9L454.9 666.6M435.4 635.5L453.7 667.3M434.3 636.2L452.6 667.9M433.2 636.8L451.5 668.6M432 637.5L450.4 669.2M430.9 638.1L449.2 669.9M429.8 638.8L448.1 670.5M428.7 639.4L447 671.2M427.5 640.1L445.9 671.8M426.4 640.7L444.7 672.5M425.3 641.4L443.6 673.1M424.2 642L442.5 673.8M423 642.7L441.4 674.4M421.9 643.3L440.2 675.1M420.8 644L439.1 675.7M419.7 644.6L438 676.4M418.5 645.3L436.9 677M417.4 645.9L435.7 677.7M416.3 646.6L434.6 678.3M415.2 647.2L433.5 679M414 647.9L432.3 679.6M412.9 648.5L431.2 680.3M411.8 649.2L430.1 680.9M410.7 649.8L429 681.6" stroke="#000" stroke-width="1.1" fill="none"/><clipPath id="ch11"><path d="M425.7 645 L436 643.9 L447.7 652 L447 666 L438 668 L428 656Z"/></clipPath><path clip-path="url(#ch11)" d="M410.9 648L442.7 629.6M412 649.9L443.8 631.6M413.1 651.8L444.9 633.5M414.2 653.7L446 635.4M415.3 655.6L447.1 637.3M416.4 657.5L448.2 639.2M417.5 659.4L449.3 641.1M418.6 661.3L450.4 643M419.7 663.2L451.5 644.9M420.8 665.1L452.6 646.8M421.9 667L453.7 648.7M423 668.9L454.8 650.6M424.1 670.8L455.9 652.5M425.2 672.7L457 654.4M426.3 674.6L458.1 656.3M427.4 676.5L459.2 658.2M428.5 678.4L460.3 660.1M429.6 680.3L461.4 662M430.7 682.3L462.5 663.9" stroke="#000" stroke-width="1" fill="none"/><ellipse cx="436" cy="666" rx="13.5" ry="19" fill="none" stroke="#000" stroke-width="1.2" transform="rotate(-15 436 666)"/><path d="M422.6 652.4 L424.1 652.6 L425.5 653.1 L427 653.7 L428.4 654.5 L429.7 655.6 L431 656.7 L432.2 658.1 L433.4 659.6 L434.4 661.2 L435.3 662.9 L436.1 664.7 L436.8 666.6 L437.3 668.5 L437.6 670.4 L437.9 672.4 L437.9 674.3 L437.8 676.2 L437.6 678.1 L437.2 679.8 L436.7 681.5 L436 683.1 L435.2 684.5 L434.3 685.8 L433.3 686.9 L432.1 687.8" fill="none" stroke="#000" stroke-width="1.3"/><path d="M424.8 651.6 L426.3 651.8 L427.7 652.3 L429.2 652.9 L430.6 653.7 L431.9 654.8 L433.2 655.9 L434.4 657.3 L435.6 658.8 L436.6 660.4 L437.5 662.1 L438.3 663.9 L439 665.8 L439.5 667.7 L439.8 669.6 L440.1 671.6 L440.1 673.5 L440 675.4 L439.8 677.3 L439.4 679 L438.9 680.7 L438.2 682.3 L437.4 683.7 L436.5 685 L435.5 686.1 L434.3 687" fill="none" stroke="#000" stroke-width="0.9"/><path d="M427 650.8 L428.5 651 L429.9 651.5 L431.4 652.1 L432.8 652.9 L434.1 654 L435.4 655.1 L436.6 656.5 L437.8 658 L438.8 659.6 L439.7 661.3 L440.5 663.1 L441.2 665 L441.7 666.9 L442 668.8 L442.3 670.8 L442.3 672.7 L442.2 674.6 L442 676.5 L441.6 678.2 L441.1 679.9 L440.4 681.5 L439.6 682.9 L438.7 684.2 L437.7 685.3 L436.5 686.2" fill="none" stroke="#000" stroke-width="1.3"/><path d="M429.2 650 L430.7 650.2 L432.1 650.7 L433.6 651.3 L435 652.1 L436.3 653.2 L437.6 654.3 L438.8 655.7 L440 657.2 L441 658.8 L441.9 660.5 L442.7 662.3 L443.4 664.2 L443.9 666.1 L444.2 668 L444.5 670 L444.5 671.9 L444.4 673.8 L444.2 675.7 L443.8 677.4 L443.3 679.1 L442.6 680.7 L441.8 682.1 L440.9 683.4 L439.9 684.5 L438.7 685.4" fill="none" stroke="#000" stroke-width="0.9"/><path d="M431.4 649.2 L432.9 649.4 L434.3 649.9 L435.8 650.5 L437.2 651.3 L438.5 652.4 L439.8 653.5 L441 654.9 L442.2 656.4 L443.2 658 L444.1 659.7 L444.9 661.5 L445.6 663.4 L446.1 665.3 L446.4 667.2 L446.7 669.2 L446.7 671.1 L446.6 673 L446.4 674.9 L446 676.6 L445.5 678.3 L444.8 679.9 L444 681.3 L443.1 682.6 L442.1 683.7 L440.9 684.6" fill="none" stroke="#000" stroke-width="1.3"/><path d="M433.6 648.4 L435.1 648.6 L436.5 649.1 L438 649.7 L439.4 650.5 L440.7 651.6 L442 652.7 L443.2 654.1 L444.4 655.6 L445.4 657.2 L446.3 658.9 L447.1 660.7 L447.8 662.6 L448.3 664.5 L448.6 666.4 L448.9 668.4 L448.9 670.3 L448.8 672.2 L448.6 674.1 L448.2 675.8 L447.7 677.5 L447 679.1 L446.2 680.5 L445.3 681.8 L444.3 682.9 L443.1 683.8" fill="none" stroke="#000" stroke-width="0.9"/><path d="M427 651.5 L440 647" fill="none" stroke="#000" stroke-width="1.1"/><path d="M421 691 L434 686" fill="none" stroke="#000" stroke-width="1.1"/><ellipse cx="421" cy="672.5" rx="13.5" ry="19" fill="#fff" stroke="#000" stroke-width="1.4" transform="rotate(-15 421 672.5)"/><ellipse cx="421.3" cy="672.3" rx="11" ry="16.3" fill="none" stroke="#000" stroke-width="1" transform="rotate(-15 421.3 672.3)" stroke-dasharray="2 1"/><ellipse cx="419.7" cy="674.1" rx="8.8" ry="12.2" fill="#fff" stroke="#000" stroke-width="1.4" transform="rotate(-15 419.7 674.1)"/><path d="M418.6 665.9 L419.2 666 L419.9 666.1 L420.5 666.3 L421.2 666.6 L421.8 667 L422.4 667.5 L423 668 L423.5 668.6 L424 669.3 L424.4 670 L424.8 670.8 L425.2 671.6 L425.4 672.4 L425.6 673.3 L425.8 674.1 L425.8 675 L425.9 675.8 L425.8 676.7 L425.7 677.5 L425.4 678.2 L425.2 679 L424.9 679.6 L424.5 680.2 L424 680.8 L423.5 681.2 L423 681.6 L422.4 681.9 L421.8 682.1" fill="none" stroke="#000" stroke-width="3"/><ellipse cx="419" cy="674.5" rx="5.5" ry="7.5" fill="#fff" stroke="#000" stroke-width="1.2" transform="rotate(-15 419 674.5)"/><ellipse cx="442.2" cy="676.3" rx="3.8" ry="4.6" fill="#fff" stroke="#000" stroke-width="1.6" transform="rotate(-15 442.2 676.3)"/><path d="M447.7 680.1 C448.8 681.8 452.1 686.7 454.3 690 C456.5 693.3 459.8 698.3 460.9 700" fill="none" stroke="#000" stroke-width="1"/><g transform="translate(3 386)"><path d="M248.8 153.6 L251.5 151.4 L269.6 149.8 L271.8 151.4 L288.3 143.7 L298.2 142.1 L305.9 143.2 L310.3 145.9 L313 146.5 L313.5 148.1 L319 155.2 L321.8 162.9 L322.3 171.7 L321.2 178.3 L316.8 182.7 L316.8 194.8 L312.4 199.2 L308.1 198.1 L304.8 190.4 L291.6 197 L286.1 200.3 L285.6 211.2 L282.8 216.2 L278.4 214.5 L276.2 209 L270.7 205.7 L262 201.4 L254.3 195.9 L249.9 191.5 L249.3 187.1 L247.7 171.7 L248.2 163Z" fill="#FFD200" stroke="#000" stroke-width="1.4"/><path d="M250.5 157.8 C251.7 157.8 254.7 157.7 257.7 157.6 C260.7 157.5 266.9 157.3 268.7 157.2" fill="none" stroke="#000" stroke-width="1.4"/><ellipse cx="257.7" cy="154" rx="1.4" ry="1.1" fill="none" stroke="#000" stroke-width="1"/><ellipse cx="265.6" cy="153.8" rx="1.4" ry="1.1" fill="none" stroke="#000" stroke-width="1"/><ellipse cx="250.9" cy="157" rx="1.4" ry="1.1" fill="none" stroke="#000" stroke-width="1"/><path d="M268.7 151.4 L271.3 158.4" fill="none" stroke="#000" stroke-width="1.2" stroke-dasharray="1 0.8"/><path d="M271.3 158.4 C272.6 159.5 276.7 162.6 279 165 C281.3 167.4 283.4 170.2 285 172.9 C286.6 175.6 287.8 178.2 288.5 181 C289.2 183.8 289.6 187.2 289.5 190 C289.4 192.8 288.2 196.7 288 198" fill="none" stroke="#000" stroke-width="1.1" stroke-dasharray="1.2 0.8"/><path d="M272.5 152 C274.1 153.5 279.4 158.2 282 161 C284.6 163.8 286.3 166.2 288 169 C289.7 171.8 291.1 174.8 292 178 C292.9 181.2 293.4 184.8 293.5 188 C293.6 191.2 292.7 195.5 292.5 197" fill="none" stroke="#000" stroke-width="1.1"/><path d="M267.4 161.5 L277.9 170.3" fill="none" stroke="#000" stroke-width="3.2"/><path d="M267.6 161.5 L277.7 170.3" fill="none" stroke="#FFD200" stroke-width="1.2" stroke-dasharray="1 1"/><path d="M273.1 161.1 L285 154 L294.2 150.5 L304.7 145.3" fill="none" stroke="#000" stroke-width="1.1" stroke-dasharray="1 1.2"/><path d="M288.9 152.3 C289.9 153.2 293.2 155.6 295 157.6 C296.8 159.6 298.1 162 299.4 164.6 C300.7 167.2 302.1 170.5 303 173.4 C303.9 176.3 304.4 179.5 304.7 182.1 C305 184.7 304.7 188 304.7 189.2" fill="none" stroke="#000" stroke-width="1.2"/><path d="M303.8 145.3 L306.5 150.5" fill="none" stroke="#000" stroke-width="1"/><path d="M309 147.5 L311 152" fill="none" stroke="#000" stroke-width="1"/><path d="M306.5 182.1 L306.5 191.8" fill="none" stroke="#000" stroke-width="1"/><ellipse cx="309.5" cy="194.5" rx="2.2" ry="2.5" fill="none" stroke="#000" stroke-width="1.6"/><path d="M281.9 196.2 L281.4 205" fill="none" stroke="#000" stroke-width="1"/><ellipse cx="280.3" cy="211.8" rx="2.4" ry="2.6" fill="none" stroke="#000" stroke-width="1.8"/><ellipse cx="267.5" cy="185.5" rx="14" ry="19" fill="none" stroke="#000" stroke-width="1.3" transform="rotate(-18 267.5 185.5)" stroke-dasharray="2 1"/><ellipse cx="267.5" cy="185" rx="11" ry="15.5" fill="none" stroke="#000" stroke-width="1.5" transform="rotate(-18 267.5 185)"/><ellipse cx="266.5" cy="185.5" rx="6.5" ry="9" fill="none" stroke="#000" stroke-width="1" transform="rotate(-18 266.5 185.5)"/><ellipse cx="252" cy="166" rx="1.3" ry="4" fill="none" stroke="#000" stroke-width="1.2" transform="rotate(-10 252 166)"/><ellipse cx="256.5" cy="188.5" rx="4.5" ry="5.5" fill="#FFD200" stroke="#000" stroke-width="1.5" transform="rotate(-10 256.5 188.5)"/><ellipse cx="257" cy="188.5" rx="2" ry="2.5" fill="none" stroke="#000" stroke-width="1" transform="rotate(-10 257 188.5)"/><path d="M253 185 L258 183.5 L261 186" fill="none" stroke="#000" stroke-width="1"/><path d="M259 196 L267 205" fill="none" stroke="#000" stroke-width="3"/><path d="M259.3 196 L267 204.8" fill="none" stroke="#FFD200" stroke-width="1" stroke-dasharray="1 1"/><path d="M249 165 L249 185" fill="none" stroke="#000" stroke-width="1.5"/><circle cx="268.5" cy="101.4" r="13.1" fill="#000"/><text x="268.5" y="107" text-anchor="middle" font-family="Liberation Sans, sans-serif" font-weight="bold" font-size="17.5" fill="#fff">2</text><path d="M285 110.2 L298.7 110.2 L298.7 142" fill="none" stroke="#000" stroke-width="1"/></g><g transform="translate(-3.5 404.5)"><path d="M301.5 295.3 L306.9 288.4 L317.6 283 L317.6 278.4 L325.3 272.2 L329.9 268.4 L335.3 271.5 L336.1 273.8 L345.3 275.3 L354.5 283 L359.9 292.2 L360.6 299.9 L362.2 304.5 L359.9 316.8 L354.5 320.6 L340.7 324.5 L333 322.9 L325.3 328.3 L317.6 327.6 L306.9 321.4 L302.3 310.6Z" fill="#FFD200" stroke="#000" stroke-width="1.4"/><path d="M337.1 274.4 C339 274.9 345.6 275.7 348.7 277.3 C351.8 278.9 354 281.3 355.9 283.8 C357.8 286.3 359.4 289.8 360.3 292.5 C361.2 295.2 360.9 298.8 361 300" fill="none" stroke="#000" stroke-width="1.1"/><path d="M336 277 C337.7 277.4 343.2 278.1 346 279.5 C348.8 280.9 351.2 283.2 353 285.5 C354.8 287.8 356.1 290.4 357 293 C357.9 295.6 358.2 299.7 358.5 301" fill="none" stroke="#000" stroke-width="1.1"/><path d="M333.5 279 C335.1 279.5 340.2 280.5 343 282 C345.8 283.5 348.2 285.7 350 288 C351.8 290.3 353.1 293.2 354 296 C354.9 298.8 355.2 303.5 355.5 305" fill="none" stroke="#000" stroke-width="1"/><path d="M319 290 C320.2 290.5 324 291.3 326 293 C328 294.7 329.8 297.2 331 300 C332.2 302.8 332.8 306.8 333 310 C333.2 313.2 332.7 316.7 332 319 C331.3 321.3 329.5 323.2 329 324" fill="none" stroke="#000" stroke-width="1.1"/><path d="M321.2 290.7 C322.4 291.1 326.2 291.9 328.2 293.4 C330.2 295 332 297.2 333.2 300 C334.4 302.8 335 306.8 335.2 310 C335.4 313.2 334.9 316.7 334.2 319 C333.5 321.3 331.7 323.2 331.2 324" fill="none" stroke="#000" stroke-width="0.9"/><path d="M323.4 291.3 C324.6 291.7 328.4 292.4 330.4 293.9 C332.4 295.3 334.2 297.3 335.4 300 C336.6 302.7 337.2 306.8 337.4 310 C337.6 313.2 337.1 316.7 336.4 319 C335.7 321.3 333.9 323.2 333.4 324" fill="none" stroke="#000" stroke-width="1.1"/><path d="M325.6 292 C326.8 292.4 330.6 293 332.6 294.3 C334.6 295.7 336.4 297.4 337.6 300 C338.8 302.6 339.4 306.8 339.6 310 C339.8 313.2 339.3 316.7 338.6 319 C337.9 321.3 336.1 323.2 335.6 324" fill="none" stroke="#000" stroke-width="0.9"/><path d="M327.8 292.6 C329 293 332.8 293.5 334.8 294.8 C336.8 296 338.6 297.5 339.8 300 C341 302.5 341.6 306.8 341.8 310 C342 313.2 341.5 316.7 340.8 319 C340.1 321.3 338.3 323.2 337.8 324" fill="none" stroke="#000" stroke-width="1.1"/><path d="M330 293.3 C331.2 293.6 335 294.1 337 295.2 C339 296.3 340.8 297.5 342 300 C343.2 302.5 343.8 306.8 344 310 C344.2 313.2 343.7 316.7 343 319 C342.3 321.3 340.5 323.2 340 324" fill="none" stroke="#000" stroke-width="0.9"/><ellipse cx="317.2" cy="308.4" rx="14.8" ry="19.5" fill="#FFD200" stroke="#000" stroke-width="1.5" transform="rotate(-12 317.2 308.4)"/><ellipse cx="317.2" cy="308.6" rx="12.6" ry="17.2" fill="none" stroke="#000" stroke-width="1" transform="rotate(-12 317.2 308.6)" stroke-dasharray="2 1"/><ellipse cx="314.7" cy="309.9" rx="6.8" ry="7.6" fill="none" stroke="#000" stroke-width="1.3" transform="rotate(-12 314.7 309.9)"/><ellipse cx="314.9" cy="309.9" rx="4.3" ry="5" fill="none" stroke="#000" stroke-width="1.4" transform="rotate(-12 314.9 309.9)"/><ellipse cx="315" cy="310" rx="2" ry="2.3" fill="none" stroke="#000" stroke-width="1"/><ellipse cx="348.5" cy="308.3" rx="4.4" ry="7" fill="none" stroke="#000" stroke-width="1.3" transform="rotate(-10 348.5 308.3)"/><path d="M352 302 C352.7 302.5 355 303.5 356 305 C357 306.5 358 309.2 358 311 C358 312.8 356.3 315.2 356 316" fill="none" stroke="#000" stroke-width="1.1"/><path d="M325.5 272 C326.2 271.6 328.4 269.6 330 269.5 C331.6 269.4 334.1 270.6 335 271.5 C335.9 272.4 335.6 274.4 335.7 275" fill="none" stroke="#000" stroke-width="1.1"/><ellipse cx="329.5" cy="273" rx="1.6" ry="1.3" fill="none" stroke="#000" stroke-width="1"/><path d="M318 281 C318.8 280.3 321.3 277.2 323 277 C324.7 276.8 327.2 279.5 328 280" fill="none" stroke="#000" stroke-width="1"/><path d="M306.9 288.4 C308.8 288.2 314.1 287.1 318 287 C321.9 286.9 328 287.4 330 287.5" fill="none" stroke="#000" stroke-width="1"/><ellipse cx="375.3" cy="275" rx="13.3" ry="18.8" fill="none" stroke="#000" stroke-width="3.2" transform="rotate(-25 375.3 275)"/><ellipse cx="375.3" cy="275" rx="13.3" ry="18.8" fill="none" stroke="#FFD200" stroke-width="1.5" transform="rotate(-25 375.3 275)"/><path d="M362.2 279.6L365.8 283.4" stroke="#fff" stroke-width="4.2"/><path d="M361.6 278.9L362.6 279.9M365.2 282.8L366.4 283.9" stroke="#000" stroke-width="1"/><circle cx="280.7" cy="252.3" r="13.1" fill="#000"/><text x="280.7" y="257.9" text-anchor="middle" font-family="Liberation Sans, sans-serif" font-weight="bold" font-size="17.5" fill="#fff">3</text><path d="M297.6 261 L311.5 261 L320.7 276.8" fill="none" stroke="#000" stroke-width="1"/><circle cx="320.7" cy="225.8" r="13.1" fill="#000"/><text x="320.7" y="231.4" text-anchor="middle" font-family="Liberation Sans, sans-serif" font-weight="bold" font-size="17.5" fill="#fff">4</text><path d="M337.6 234.6 L350.7 234.6 L363.7 257.6" fill="none" stroke="#000" stroke-width="1"/></g><g transform="translate(-11 404.3)"><path d="M647.2 133.4 L650.7 129.9 L663.4 122.1 L674.7 115 L680.3 113.6 L688.8 117.9 L694.4 122.1 L701.5 126.3 L707.1 127.7 L710.7 129.9 L709.3 133.4 L702.9 139 L702.9 151.7 L698.7 157.4 L694.4 154.6 L686 157.4 L674.7 161.6 L666.2 164.4 L660.6 161.6 L656.3 154.6 L649.3 148.9 L646.5 140.4Z" fill="#FFD200" stroke="#000" stroke-width="1.4"/><path d="M664.5 125.5 C665.3 126.5 668.2 129.3 669.4 131.2 C670.6 133.1 671.3 134.9 671.5 136.8 C671.7 138.7 671.3 140.8 670.8 142.5 C670.3 144.2 669.1 146 668.7 146.7" fill="none" stroke="#000" stroke-width="1.1"/><path d="M679.3 116.4 C680.1 117.2 682.9 119.4 684.2 121.3 C685.5 123.2 686.6 125.4 687 127.6 C687.4 129.8 686.8 132.6 686.3 134.7 C685.8 136.8 684.9 138.6 684.2 140.3 C683.5 142 682.4 144.2 682 145" fill="none" stroke="#000" stroke-width="1.4" stroke-dasharray="1.5 1"/><path d="M667.3 146.7 L693.4 138.2" fill="none" stroke="#000" stroke-width="1"/><path d="M665.9 150.5 L693.4 142.5" fill="none" stroke="#000" stroke-width="1"/><path d="M660 152 L666 158 L675 156 L690 151" fill="none" stroke="#000" stroke-width="1"/><path d="M693.4 127.6 L693.4 149.5" fill="none" stroke="#000" stroke-width="1"/><path d="M697 125 L698 136 L697 146" fill="none" stroke="#000" stroke-width="1" stroke-dasharray="1.2 0.8"/><path d="M702 130 L707 130 L709 133" fill="none" stroke="#000" stroke-width="1"/><ellipse cx="705.5" cy="130.5" rx="2.5" ry="2" fill="none" stroke="#000" stroke-width="1.2"/><path d="M699.5 140 L702 139 L702.5 150" fill="none" stroke="#000" stroke-width="1"/><path d="M688 119 L693 124 L697 125.5" fill="none" stroke="#000" stroke-width="1"/><circle cx="679.3" cy="134.7" r="1.4" fill="#000"/><circle cx="671.5" cy="149.5" r="2.2" fill="#000"/><circle cx="670.8" cy="121.3" r="1.2" fill="#000"/><circle cx="686" cy="148" r="1.1" fill="#000"/><circle cx="690" cy="152" r="1" fill="#000"/><circle cx="662" cy="161" r="1.2" fill="#000"/><ellipse cx="654.2" cy="140.3" rx="7.2" ry="9.4" fill="#FFD200" stroke="#000" stroke-width="1.8" transform="rotate(-15 654.2 140.3)"/><ellipse cx="654.9" cy="140.9" rx="4.6" ry="6" fill="none" stroke="#000" stroke-width="1.6" transform="rotate(-15 654.9 140.9)"/><ellipse cx="655" cy="141" rx="2" ry="2.6" fill="none" stroke="#000" stroke-width="1.2" transform="rotate(-15 655 141)"/><path d="M650.5 135 L653 133.5" fill="none" stroke="#000" stroke-width="1.2"/><path d="M657 147 L659.5 145.5" fill="none" stroke="#000" stroke-width="1.2"/><path d="M657 155 L661 162 L666 163.5" fill="none" stroke="#000" stroke-width="1.6"/><ellipse cx="702" cy="134.3" rx="1.6" ry="1.9" fill="none" stroke="#000" stroke-width="1.1"/><ellipse cx="706.5" cy="128.3" rx="1.5" ry="1.8" fill="none" stroke="#000" stroke-width="1.1"/><ellipse cx="699" cy="144.9" rx="1.6" ry="1.9" fill="none" stroke="#000" stroke-width="1.1"/><ellipse cx="696" cy="138" rx="1.2" ry="1.4" fill="none" stroke="#000" stroke-width="1.1"/><ellipse cx="700" cy="150" rx="1.3" ry="1.6" fill="none" stroke="#000" stroke-width="1.1"/><circle cx="674.8" cy="146.4" r="1.4" fill="#000"/><circle cx="679.3" cy="152.5" r="1.2" fill="#000"/><path d="M676 150 C676.7 149.5 678.7 147 680 147 C681.3 147 683.8 148.7 684 150 C684.2 151.3 681.5 154.2 681 155" fill="none" stroke="#000" stroke-width="1.1"/><path d="M689 135 L689 152" fill="none" stroke="#000" stroke-width="1"/><path d="M684 140 L691 138" fill="none" stroke="#000" stroke-width="1.1"/><path d="M696 126 L704 127.5 L706 133" fill="none" stroke="#000" stroke-width="1"/><path d="M660 151 L662 157" fill="none" stroke="#000" stroke-width="1.4"/><circle cx="618.5" cy="85.7" r="13.1" fill="#000"/><path d="M618.1 78.7L621.1 78.7L621.1 91.1L617.9 91.1L617.9 83.1Q616.7 84.1 614.7 84.3L614.7 81.7Q616.9 81.1 618.1 78.7Z" fill="#fff"/><path d="M635.2 94.3 L647.9 94.3 L664.1 122.1" fill="none" stroke="#000" stroke-width="1"/></g><g transform="translate(-1.5 410.5)"><path d="M555.9 285 L555.9 305 L558 309.5 L564.2 314 L570.2 310.7 L577.8 307.7 L589.9 301.7 L600.5 295.6 L612.6 288 L624.7 282 L638.3 274.4 L644.6 272 L646 273.8 L652.4 273.3 L653.7 265.4 L661 262.8 L662.3 259.5 L660.3 254.9 L657 251.6 L656.4 246.4 L651.1 245.7 L648.5 236.5 L642.6 234.3 L640.6 234.6 L637 239 L631 242 L630 244 L625 248 L618 250 L616 252 L608 256.5 L604 256.2 L600 258.8 L590 264 L586 267 L578 271 L575 273 L570 276.5 L565 278 L562.7 280.5Z" fill="#fff" stroke="#000" stroke-width="1.2"/><path d="M604 256.5 L605.5 259.5 L608.5 260" fill="none" stroke="#000" stroke-width="1"/><path d="M618 250 L619.5 253 L622.5 253.5" fill="none" stroke="#000" stroke-width="1"/><path d="M631 243 L632.5 246 L635.5 246.5" fill="none" stroke="#000" stroke-width="1"/><path d="M642 236 L643.5 239 L646.5 239.5" fill="none" stroke="#000" stroke-width="1"/><ellipse cx="570.2" cy="280.5" rx="1.5" ry="1.3" fill="#fff" stroke="#000" stroke-width="1.3"/><ellipse cx="581.6" cy="272.9" rx="1.5" ry="1.3" fill="#fff" stroke="#000" stroke-width="1.3"/><ellipse cx="598" cy="262.8" rx="1.5" ry="1.3" fill="#fff" stroke="#000" stroke-width="1.3"/><ellipse cx="611.8" cy="260.8" rx="1.5" ry="1.3" fill="#fff" stroke="#000" stroke-width="1.3"/><ellipse cx="625.2" cy="253.6" rx="1.5" ry="1.3" fill="#fff" stroke="#000" stroke-width="1.3"/><ellipse cx="637.4" cy="245.4" rx="1.5" ry="1.3" fill="#fff" stroke="#000" stroke-width="1.3"/><ellipse cx="648.5" cy="239.2" rx="1.5" ry="1.3" fill="#fff" stroke="#000" stroke-width="1.3"/><ellipse cx="598" cy="290.6" rx="1.4" ry="1.2" fill="#fff" stroke="#000" stroke-width="1.3"/><ellipse cx="610.6" cy="285.5" rx="1.4" ry="1.2" fill="#fff" stroke="#000" stroke-width="1.3"/><ellipse cx="623.2" cy="280.5" rx="1.4" ry="1.2" fill="#fff" stroke="#000" stroke-width="1.3"/><ellipse cx="635.8" cy="274.2" rx="1.4" ry="1.2" fill="#fff" stroke="#000" stroke-width="1.3"/><ellipse cx="641" cy="266" rx="1.4" ry="1.2" fill="#fff" stroke="#000" stroke-width="1.3"/><path d="M572 284 L640.6 245.7" fill="none" stroke="#000" stroke-width="0.9" stroke-dasharray="1 1.2"/><path d="M576 288.5 L643.2 251" fill="none" stroke="#000" stroke-width="0.9" stroke-dasharray="1 1.2"/><path d="M590 292 L649.8 256.9" fill="none" stroke="#000" stroke-width="0.9" stroke-dasharray="1 1.2"/><path d="M604 297 L642.6 267" fill="none" stroke="#000" stroke-width="0.9" stroke-dasharray="1 1.2"/><path d="M644.6 258.8 L645.2 272.6" fill="none" stroke="#000" stroke-width="1.1"/><path d="M649 246 C649.5 246.7 651.2 248.3 652 250 C652.8 251.7 653.2 255 653.5 256" fill="none" stroke="#000" stroke-width="1.4"/><path d="M655 258.5 L659 258" fill="none" stroke="#000" stroke-width="1"/><ellipse cx="597" cy="287.5" rx="4.5" ry="5.5" fill="none" stroke="#000" stroke-width="1.1" transform="rotate(28 597 287.5)"/><ellipse cx="597.5" cy="288" rx="2.8" ry="3.6" fill="none" stroke="#000" stroke-width="0.9" transform="rotate(28 597.5 288)"/><ellipse cx="565.5" cy="282" rx="4" ry="3" fill="#fff" stroke="#000" stroke-width="1.2" transform="rotate(-20 565.5 282)"/><path d="M562.5 280.5 L567 278.5 L570.5 282.5" fill="none" stroke="#000" stroke-width="1.8"/><path d="M556.3 290 L557.3 303" fill="none" stroke="#000" stroke-width="2.4" stroke-dasharray="1.2 0.6"/><ellipse cx="567" cy="304" rx="4" ry="5" fill="none" stroke="#000" stroke-width="1.1"/><ellipse cx="566" cy="305.5" rx="2" ry="3" fill="none" stroke="#000" stroke-width="1"/><path d="M572 289 C572.8 288.6 575.2 286.3 577 286.5 C578.8 286.7 581.8 288.2 583 290 C584.2 291.8 584.5 295 584 297 C583.5 299 580.7 301.2 580 302" fill="none" stroke="#000" stroke-width="1.1"/><path d="M575 294 L580 298" fill="none" stroke="#000" stroke-width="1.1"/><path d="M569 292 L573 289.5" fill="none" stroke="#000" stroke-width="1.1"/><path d="M578 306 L586 302" fill="none" stroke="#000" stroke-width="1"/><path d="M560 297 L563 295 L566 297" fill="none" stroke="#000" stroke-width="1.1"/><path d="M589 284 L591 296" fill="none" stroke="#000" stroke-width="1"/><path d="M599 294 L601 296.5 L605 294" fill="none" stroke="#000" stroke-width="1.8"/><ellipse cx="570" cy="281" rx="6" ry="3.4" fill="#fff" stroke="#000" stroke-width="1.1" transform="rotate(-25 570 281)"/><clipPath id="ch7"><path d="M564.5 281 L569 277.5 L575.5 279 L575.5 282.5 L570 285Z"/></clipPath><path clip-path="url(#ch7)" d="M573.6 269.2L582.2 284.2M572.4 269.9L581.1 284.8M571.3 270.5L580 285.5M570.2 271.2L578.8 286.1M569 271.8L577.7 286.8M567.9 272.5L576.6 287.4M566.8 273.1L575.5 288.1M565.7 273.8L574.3 288.7M564.5 274.4L573.2 289.4M563.4 275.1L572.1 290M562.3 275.7L571 290.7M561.2 276.4L569.8 291.3M560 277L568.7 292M558.9 277.7L567.6 292.6M557.8 278.3L566.4 293.3" stroke="#000" stroke-width="1" fill="none"/><path d="M558.6 288 C559.3 288.3 561.1 289.7 563 290 C564.9 290.3 567.6 290.4 569.8 289.8 C572 289.2 575.2 286.7 576.3 286.1" fill="none" stroke="#000" stroke-width="1.1"/><path d="M575.4 284.2 C574.8 285.5 572.9 289.5 572 292 C571.1 294.5 571 297.4 569.8 299.2 C568.6 301 565.8 302.4 565 303" fill="none" stroke="#000" stroke-width="1.1"/><path d="M560 300 C560.5 301 561.3 304.7 563 306 C564.7 307.3 567.5 308.4 570 308 C572.5 307.6 576.7 304.2 578 303.5" fill="none" stroke="#000" stroke-width="1"/><ellipse cx="573" cy="295" rx="1.6" ry="1.6" fill="none" stroke="#000" stroke-width="1.1"/><ellipse cx="562" cy="296" rx="1.4" ry="1.8" fill="none" stroke="#000" stroke-width="1.1"/><ellipse cx="580" cy="292" rx="1.3" ry="1.3" fill="none" stroke="#000" stroke-width="1.1"/><path d="M584 288 C584.7 287.2 586.7 284.2 588 283 C589.3 281.8 591.3 281.3 592 281" fill="none" stroke="#000" stroke-width="1"/><path d="M557 287 L557.5 299" fill="none" stroke="#000" stroke-width="2.2"/><ellipse cx="589" cy="291" rx="1.3" ry="1.3" fill="none" stroke="#000" stroke-width="1"/><path d="M603 294 L611 299" fill="none" stroke="#000" stroke-width="0.8" stroke-dasharray="2 1.6"/><path d="M623 306 L630 309.5" fill="none" stroke="#000" stroke-width="0.8" stroke-dasharray="2 1.6"/><path d="M642.5 315 L646 317" fill="none" stroke="#000" stroke-width="0.8" stroke-dasharray="2 1.6"/><path d="M653 322 L658.5 327" fill="none" stroke="#000" stroke-width="0.8" stroke-dasharray="2 1.6"/><path d="M685 339 L695 345" fill="none" stroke="#000" stroke-width="0.8" stroke-dasharray="2 1.4"/><path d="M700 349 L716 357" fill="none" stroke="#000" stroke-width="0.8" stroke-dasharray="2 1.6"/><path d="M607 297 L611 294 L616 293.8 L619.5 296 L620 306 L617.5 309.6 L612 309.4 L608 306.5Z" fill="#fff" stroke="#000" stroke-width="1.2"/><path d="M608 295.5L608.8 308.5" stroke="#000" stroke-width="1.2" fill="none"/><path d="M609.7 295.5L610.5 308.5" stroke="#000" stroke-width="1.2" fill="none"/><path d="M611.4 295.5L612.2 308.5" stroke="#000" stroke-width="1.2" fill="none"/><path d="M613.1 295.5L613.9 308.5" stroke="#000" stroke-width="1.2" fill="none"/><path d="M614.8 295.5L615.6 308.5" stroke="#000" stroke-width="1.2" fill="none"/><path d="M616.5 295.5L617.3 308.5" stroke="#000" stroke-width="1.2" fill="none"/><path d="M607.5 298.5L617 296.5" stroke="#000" stroke-width="0.9" fill="none"/><path d="M607.5 302L617 300" stroke="#000" stroke-width="0.9" fill="none"/><path d="M608 305.5L617 303.5" stroke="#000" stroke-width="0.9" fill="none"/><ellipse cx="619.7" cy="303.3" rx="5.4" ry="7.9" fill="#fff" stroke="#000" stroke-width="1.1" transform="rotate(12 619.7 303.3)"/><path d="M618.5 299 C618.2 299.5 616.7 300.8 616.5 302 C616.3 303.2 616.9 305.7 617.5 306.5 C618.1 307.3 619.6 306.9 620 307" fill="none" stroke="#000" stroke-width="1.2"/><path d="M631 303.8 L638.5 305.2 L638.5 320.8 L631 319.3Z" fill="#fff" stroke="#000" stroke-width="0"/><path d="M631.5 304 C631 304.5 629.2 305.5 628.5 307 C627.8 308.5 627.5 311.2 627.5 313 C627.5 314.8 627.8 316.4 628.5 317.5 C629.2 318.6 631 319 631.5 319.3" fill="none" stroke="#000" stroke-width="1.1"/><path d="M631 303.9L638 305.3" stroke="#000" stroke-width="1" fill="none"/><path d="M631.5 319.2L637.5 320.8" stroke="#000" stroke-width="1" fill="none"/><ellipse cx="638.2" cy="313" rx="5" ry="7.8" fill="#fff" stroke="#000" stroke-width="1.1" transform="rotate(12 638.2 313)"/><path d="M640 306 C640.4 306.7 642.1 308.3 642.5 310 C642.9 311.7 643 314.2 642.5 316 C642 317.8 640 319.8 639.5 320.5" fill="none" stroke="#000" stroke-width="1.8"/><path d="M637 306.5 C636.6 307.2 634.8 309.2 634.5 311 C634.2 312.8 634.5 315.5 635 317 C635.5 318.5 637.1 319.5 637.5 320" fill="none" stroke="#000" stroke-width="1.6"/><ellipse cx="649.7" cy="320.9" rx="5.6" ry="7.6" fill="none" stroke="#000" stroke-width="2.2" transform="rotate(12 649.7 320.9)" stroke-dasharray="2.5 0.8"/><ellipse cx="649.7" cy="320.9" rx="4.2" ry="6.2" fill="none" stroke="#000" stroke-width="0.8" transform="rotate(12 649.7 320.9)"/><path d="M653 316L655 315" stroke="#fff" stroke-width="1.6" fill="none"/><path d="M665.5 325 L670 323.6 L674.2 324.5 L676 327 L682.2 330.9 L686.3 333.3 L686.7 335 L686.3 338.5 L685 343 L682.2 344.6 L676.6 343.8 L668 340 L663.7 339 L663 335Z" fill="#FFD200" stroke="#000" stroke-width="1.4"/><path d="M658.6 331 L658.8 327 L660.5 324 L663.5 323.3 L667 324.5 L666 330 L664 335 L661 334.2Z" fill="#FFD200" stroke="#000" stroke-width="1.4"/><path d="M666.1 325.3 C665.8 326.1 664.9 327.7 664.5 330 C664.1 332.3 663.8 337.5 663.7 339" fill="none" stroke="#000" stroke-width="1.3"/><path d="M670.1 326.5 C669.7 327.4 668.3 329.8 667.8 332 C667.3 334.2 667.1 338.2 667 339.5" fill="none" stroke="#000" stroke-width="1.2"/><path d="M680.5 333.3 C680.2 334.1 678.8 336.2 678.8 338 C678.8 339.8 680.2 343.2 680.5 344.3" fill="none" stroke="#000" stroke-width="2.2"/><rect x="681.6" y="338.6" width="3" height="3.4" fill="#fff"/><path d="M686.6 334.2 L686.6 338.5" fill="none" stroke="#000" stroke-width="1.6"/><path d="M668.3 372.6 L667.4 367.8 L668.8 364 L672.2 360.1 L676.6 357.7 L680 355.3 L683.3 351.4 L686.7 347.5 L689.6 343.7 L693 340.8 L697.8 339.3 L702.2 338.3 L704.1 339.3 L704.6 342.7 L703.6 347.5 L701.7 348.5 L701.2 352.4 L699.7 355.3 L696.9 356.2 L691.1 355.3 L688.2 356.7 L685.3 357.2 L683.8 361.1 L683.8 364 L681.9 367.3 L679.5 366.8 L677.5 364.9 L675.1 366.8 L673.7 370.7 L671.2 372.6 L669.3 374.1Z" fill="#fff" stroke="#000" stroke-width="1.3"/><path d="M700.2 342.7 C699.4 342.9 696.6 342.9 695.4 343.7 C694.2 344.5 693.4 346.3 693 347.5 C692.6 348.7 692.7 350 693 350.9 C693.3 351.8 694.1 352.6 694.9 352.8 C695.7 353.1 697.1 352.3 697.8 352.4 C698.5 352.5 698.8 353 699.3 353.3 C699.8 353.6 700.5 354.1 700.7 354.3" fill="none" stroke="#000" stroke-width="1.2"/><path d="M701.5 342 L702.8 346" fill="none" stroke="#000" stroke-width="1.2"/><ellipse cx="688.2" cy="347.5" rx="1.3" ry="1.3" fill="none" stroke="#000" stroke-width="1.1"/><ellipse cx="680.9" cy="357.5" rx="1.4" ry="1.6" fill="none" stroke="#000" stroke-width="1.1"/><ellipse cx="671.2" cy="367.8" rx="2.2" ry="4.4" fill="none" stroke="#000" stroke-width="1.2" transform="rotate(30 671.2 367.8)"/><path d="M676 360.5 L680 359 L683 360" fill="none" stroke="#000" stroke-width="1"/><path d="M684 352 L690 352.5" fill="none" stroke="#000" stroke-width="1"/><path d="M685.7 382.7 L687.1 377 L698.5 372.8 L701.4 362.8 L709.9 357.1 L719.9 352.1 L724.2 350.6 L732.8 354.2 L741.3 351.3 L749.9 350.6 L758.5 354.2 L764.2 358.5 L766.3 367 L764.2 372.8 L755.6 377 L742.8 377 L737 376.3 L735.6 382.7 L729.9 388.5 L718.5 391.3 L707.1 389.9 L698.5 394.2 L691.4 394.9 L687.1 391.3Z" fill="#fff" stroke="#000" stroke-width="1.2"/><path d="M701 384 C701.5 384.9 702.2 388.1 704 389.5 C705.8 390.9 709 391.8 712 392.5 C715 393.2 718.7 393.7 722 393.5 C725.3 393.3 729.4 392.8 732 391.5 C734.6 390.2 736.6 386.9 737.5 386" fill="none" stroke="#000" stroke-width="1.2"/><path d="M706 387 C707.7 387.5 712.3 389.6 716 390 C719.7 390.4 724.8 390.3 728 389.5 C731.2 388.7 733.8 385.8 735 385" fill="none" stroke="#000" stroke-width="1" stroke-dasharray="1.4 1"/><path d="M735.6 382.7 L737 378 L740 377" fill="none" stroke="#000" stroke-width="1"/><ellipse cx="706.2" cy="362.6" rx="4.2" ry="2.2" fill="#fff" stroke="#000" stroke-width="1.3" transform="rotate(-10 706.2 362.6)"/><path d="M702 363 L702.2 370" fill="none" stroke="#000" stroke-width="1.1"/><path d="M710.4 362.2 L710.2 369.5" fill="none" stroke="#000" stroke-width="1.1"/><path d="M702.2 369.5 C702.8 369.8 704.7 371.3 706 371.3 C707.3 371.3 709.5 369.8 710.2 369.5" fill="none" stroke="#000" stroke-width="1.1"/><path d="M715.3 355.4 L722.8 351.6 L733.5 355.4 L726 359.6 L715.3 355.4" fill="none" stroke="#000" stroke-width="1.1"/><path d="M715.3 355.4 L715.5 362" fill="none" stroke="#000" stroke-width="1"/><path d="M726 359.6 L726 366" fill="none" stroke="#000" stroke-width="1"/><path d="M733.5 355.4 L734 362" fill="none" stroke="#000" stroke-width="1"/><path d="M718 358.5 L724 361.5" fill="none" stroke="#000" stroke-width="1"/><ellipse cx="716.9" cy="375.7" rx="3.4" ry="5" fill="#fff" stroke="#000" stroke-width="1.5" transform="rotate(30 716.9 375.7)"/><path d="M712.5 372 L708.5 374 L706 379" fill="none" stroke="#000" stroke-width="1.1"/><path d="M718 380 L713 383" fill="none" stroke="#000" stroke-width="1.1"/><ellipse cx="733.5" cy="361.2" rx="2.3" ry="3.8" fill="#fff" stroke="#000" stroke-width="1.6" transform="rotate(10 733.5 361.2)"/><path d="M729 363 L727 367 L729 371" fill="none" stroke="#000" stroke-width="1"/><path d="M724 368 L730 372 L733 368" fill="none" stroke="#000" stroke-width="1"/><path d="M736.7 366 L762.3 359.6" fill="none" stroke="#000" stroke-width="1"/><path d="M746.3 363 L746.6 371" fill="none" stroke="#000" stroke-width="1"/><path d="M749.5 362 L749.7 370.5" fill="none" stroke="#000" stroke-width="1"/><path d="M756 359 L757 367" fill="none" stroke="#000" stroke-width="1"/><path d="M748.4 351 L749 357 L762 358" fill="none" stroke="#000" stroke-width="1"/><path d="M740 372 C741 372.7 743.3 375.4 746 376 C748.7 376.6 753.2 376.3 756 375.5 C758.8 374.7 761.8 371.8 763 371" fill="none" stroke="#000" stroke-width="1"/><ellipse cx="691.5" cy="388.5" rx="3" ry="3.6" fill="none" stroke="#000" stroke-width="1.3" transform="rotate(-10 691.5 388.5)"/><ellipse cx="692" cy="388.8" rx="1.5" ry="2" fill="none" stroke="#000" stroke-width="1" transform="rotate(-10 692 388.8)"/><path d="M689 378 L697 374 L699 382 L695 386" fill="none" stroke="#000" stroke-width="1.1"/><path d="M700 376 L702 381" fill="none" stroke="#000" stroke-width="1"/><path d="M696.5 379 L698 378.5" fill="none" stroke="#000" stroke-width="2"/><circle cx="727.1" cy="294.5" r="13.1" fill="#000"/><text x="727.1" y="300.1" text-anchor="middle" font-family="Liberation Sans, sans-serif" font-weight="bold" font-size="17.5" fill="#fff">5</text><path d="M708.5 303.3 L695.7 303.3 L680.7 329.2" fill="none" stroke="#000" stroke-width="1"/></g><path d="M328.1 574.1L383.7 590.8" stroke="#000" stroke-width="1.3" fill="none"/><path d="M391.8 593.3L381.5 594.6L383.9 586.5Z" fill="#000"/><path d="M631.2 543.6L594.4 543.6" stroke="#000" stroke-width="1.3" fill="none"/><path d="M585.9 543.6L595.4 539.4L595.4 547.9Z" fill="#000"/><path d="M581 670.5L520.1 639" stroke="#000" stroke-width="1.3" fill="none"/><path d="M512.6 635.1L523 635.7L519.1 643.2Z" fill="#000"/><path d="M355.5 689L408 660" stroke="#000" stroke-width="0.8" fill="none" stroke-dasharray="3 2"/></g><rect x="132" y="5" width="1" height="1" fill="#000"/><rect x="859" y="905" width="1" height="1" fill="#000"/></svg></body></html>
